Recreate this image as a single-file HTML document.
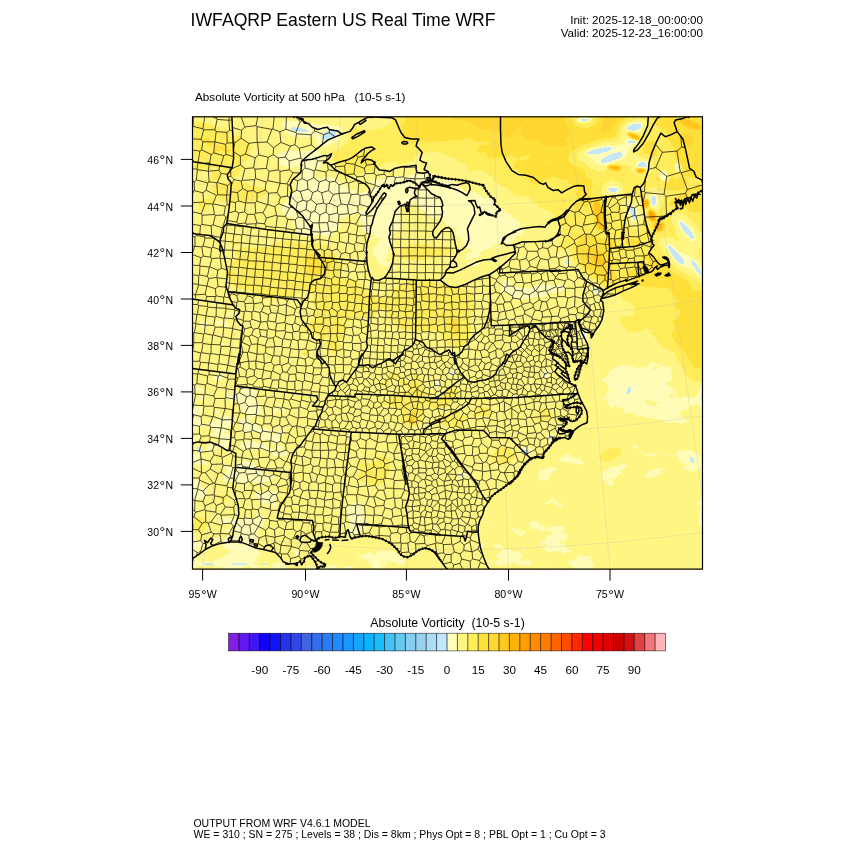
<!DOCTYPE html>
<html><head><meta charset="utf-8"><title>IWFAQRP Eastern US Real Time WRF</title>
<style>
html,body{margin:0;padding:0;background:#fff;}
body{width:850px;height:850px;position:relative;overflow:hidden;font-family:"Liberation Sans",sans-serif;color:#000;}
svg{position:absolute;left:0;top:0;}
.t{position:absolute;white-space:pre;line-height:1;}
.yl{position:absolute;left:100px;width:73px;text-align:right;font-size:10.5px;line-height:1;white-space:nowrap;}
.xl{position:absolute;top:589.3px;width:60px;text-align:center;font-size:10.6px;line-height:1;white-space:nowrap;}
.cl{position:absolute;top:664.3px;width:40px;text-align:center;font-size:11.7px;line-height:1;}
.dg{margin-left:0.6px;font-size:14px;line-height:0;position:relative;top:1.3px;}
.nw{margin-left:0.2px;}
</style></head><body>
<svg width="850" height="850" viewBox="0 0 850 850">
<defs><clipPath id="fc"><rect x="192.5" y="116.8" width="510" height="452.3"/></clipPath>
<filter id="post" color-interpolation-filters="sRGB" filterUnits="userSpaceOnUse" x="180" y="105" width="535" height="475">
<feTurbulence type="fractalNoise" baseFrequency="0.035 0.06" numOctaves="3" seed="5" result="n"/>
<feColorMatrix in="n" type="matrix" values="1 0 0 0 0  1 0 0 0 0  1 0 0 0 0  0 0 0 0 1" result="ng"/>
<feComposite in="SourceGraphic" in2="ng" operator="arithmetic" k1="0" k2="1" k3="0.11" k4="-0.055" result="lv"/>
<feComponentTransfer in="lv"><feFuncR type="discrete" tableValues="0.765 1.000 1.000 1.000 1.000 1.000 1.000 1.000 1.000 1.000"/><feFuncG type="discrete" tableValues="0.902 0.992 0.961 0.929 0.882 0.843 0.784 0.706 0.627 0.549"/><feFuncB type="discrete" tableValues="0.980 0.725 0.510 0.353 0.235 0.196 0.118 0.039 0.000 0.000"/></feComponentTransfer>
</filter>
<filter id="b6" color-interpolation-filters="sRGB" x="-50%" y="-50%" width="200%" height="200%"><feGaussianBlur stdDeviation="6"/></filter>
<filter id="b3" color-interpolation-filters="sRGB" x="-50%" y="-50%" width="200%" height="200%"><feGaussianBlur stdDeviation="3"/></filter>
<filter id="b15" color-interpolation-filters="sRGB" x="-50%" y="-50%" width="200%" height="200%"><feGaussianBlur stdDeviation="1.2"/></filter>
<filter id="b10" color-interpolation-filters="sRGB" x="-50%" y="-50%" width="200%" height="200%"><feGaussianBlur stdDeviation="10"/></filter>
</defs>
<g clip-path="url(#fc)">
<rect x="192.5" y="116.8" width="510" height="452.3" fill="#fff582"/>
<g filter="url(#post)"><rect x="180" y="105" width="535" height="475" fill="#404040"/><g filter="url(#b10)"><polygon points="430,100 720,100 720,430 700,420 675,370 655,320 630,300 600,262 575,235 560,215 535,200 500,178 470,160 445,150 425,135" fill="#666666"/><polygon points="440,100 720,100 720,175 640,165 560,160 500,140 455,125" fill="#7d7d7d"/><polygon points="440,100 620,100 620,128 560,130 500,126 450,118" fill="#949494"/><ellipse cx="375" cy="150" rx="55" ry="20" fill="#616161" transform="rotate(-15 375 150)"/><ellipse cx="425" cy="125" rx="30" ry="12" fill="#808080" transform="rotate(10 425 125)"/><polygon points="355,185 380,172 410,172 450,180 490,195 515,225 505,250 480,248 455,235 440,218 415,208 395,215 392,250 375,260 368,230" fill="#262626"/><ellipse cx="318" cy="205" rx="32" ry="38" fill="#262626" transform="rotate(30 318 205)"/><ellipse cx="520" cy="235" rx="35" ry="10" fill="#2b2b2b" transform="rotate(-15 520 235)"/><ellipse cx="470" cy="268" rx="28" ry="8" fill="#363636" transform="rotate(-25 470 268)"/><polygon points="180,370 290,385 300,440 285,520 250,580 180,580" fill="#333333"/><polygon points="200,560 260,545 330,555 400,550 440,575 180,580" fill="#303030"/><ellipse cx="285" cy="265" rx="55" ry="24" fill="#616161" transform="rotate(8 285 265)"/><ellipse cx="345" cy="300" rx="30" ry="15" fill="#666666" transform="rotate(25 345 300)"/><ellipse cx="215" cy="145" rx="34" ry="11" fill="#7a7a7a" transform="rotate(18 215 145)"/><ellipse cx="430" cy="305" rx="50" ry="24" fill="#595959"/><ellipse cx="230" cy="200" rx="40" ry="30" fill="#4f4f4f" transform="rotate(20 230 200)"/><ellipse cx="330" cy="330" rx="30" ry="30" fill="#4f4f4f"/><ellipse cx="420" cy="395" rx="45" ry="22" fill="#525252"/><polygon points="610,355 690,360 703,385 703,420 640,425 605,415 595,390" fill="#2e2e2e"/><polygon points="520,470 600,445 703,440 703,470 600,490 540,510" fill="#333333"/><polygon points="480,520 560,520 600,560 600,580 470,580" fill="#333333"/><ellipse cx="640" cy="322" rx="36" ry="18" fill="#4f4f4f" transform="rotate(-30 640 322)"/><ellipse cx="692" cy="320" rx="16" ry="70" fill="#707070" transform="rotate(-5 692 320)"/><ellipse cx="680" cy="268" rx="26" ry="28" fill="#707070"/><ellipse cx="600" cy="240" rx="40" ry="35" fill="#616161" transform="rotate(20 600 240)"/></g><g filter="url(#b6)"><ellipse cx="205" cy="168" rx="20" ry="5" fill="#595959" transform="rotate(10 205 168)"/><ellipse cx="318" cy="262" rx="13" ry="16" fill="#6e6e6e"/><ellipse cx="425" cy="251" rx="32" ry="6" fill="#616161"/><ellipse cx="385" cy="255" rx="8" ry="14" fill="#2b2b2b"/><ellipse cx="215" cy="322" rx="32" ry="6" fill="#2b2b2b" transform="rotate(-15 215 322)"/><ellipse cx="596" cy="262" rx="10" ry="26" fill="#8c8c8c" transform="rotate(-35 596 262)"/><ellipse cx="665" cy="150" rx="10" ry="28" fill="#595959" transform="rotate(-20 665 150)"/><ellipse cx="255" cy="283" rx="40" ry="7" fill="#575757" transform="rotate(20 255 283)"/><ellipse cx="240" cy="230" rx="40" ry="8" fill="#333333" transform="rotate(25 240 230)"/><ellipse cx="412" cy="418" rx="5" ry="8" fill="#808080" transform="rotate(20 412 418)"/><ellipse cx="470" cy="415" rx="30" ry="8" fill="#575757" transform="rotate(-20 470 415)"/><ellipse cx="505" cy="455" rx="10" ry="8" fill="#5e5e5e"/><ellipse cx="540" cy="420" rx="14" ry="8" fill="#595959" transform="rotate(-20 540 420)"/><ellipse cx="375" cy="470" rx="16" ry="22" fill="#545454" transform="rotate(10 375 470)"/><ellipse cx="355" cy="525" rx="10" ry="22" fill="#2b2b2b" transform="rotate(5 355 525)"/><ellipse cx="610" cy="455" rx="18" ry="7" fill="#595959" transform="rotate(-30 610 455)"/><ellipse cx="560" cy="480" rx="14" ry="6" fill="#545454" transform="rotate(-30 560 480)"/><ellipse cx="200" cy="525" rx="8" ry="12" fill="#5e5e5e"/><ellipse cx="230" cy="500" rx="20" ry="10" fill="#4f4f4f"/><ellipse cx="455" cy="330" rx="12" ry="16" fill="#696969"/><ellipse cx="530" cy="290" rx="40" ry="10" fill="#303030"/><ellipse cx="300" cy="160" rx="25" ry="14" fill="#2e2e2e"/><ellipse cx="583.7" cy="119.9" rx="16.2" ry="6.5" fill="#262626" transform="rotate(-5 583.7 119.9)"/><ellipse cx="599" cy="150.8" rx="27.2" ry="7.8" fill="#262626" transform="rotate(-12 599 150.8)"/><ellipse cx="611.6" cy="158.1" rx="25" ry="10" fill="#262626" transform="rotate(-20 611.6 158.1)"/><ellipse cx="634.4" cy="127.2" rx="17.5" ry="8.7" fill="#262626" transform="rotate(-10 634.4 127.2)"/><ellipse cx="632.2" cy="141.9" rx="11.8" ry="6.3" fill="#262626"/><ellipse cx="642.5" cy="165.5" rx="12.7" ry="9.6" fill="#262626"/><ellipse cx="613.1" cy="189.7" rx="14" ry="7.8" fill="#262626"/><ellipse cx="633.7" cy="214" rx="8.7" ry="16.2" fill="#262626" transform="rotate(-15 633.7 214)"/><ellipse cx="653.5" cy="200.8" rx="8.7" ry="12.9" fill="#262626"/><ellipse cx="686.6" cy="230.2" rx="8.7" ry="22.8" fill="#262626" transform="rotate(-38 686.6 230.2)"/><ellipse cx="676" cy="255" rx="8.5" ry="25" fill="#262626" transform="rotate(-40 676 255)"/><ellipse cx="697" cy="268" rx="8.5" ry="20.6" fill="#262626" transform="rotate(-35 697 268)"/><ellipse cx="299" cy="130" rx="20.6" ry="6.1" fill="#262626" transform="rotate(8 299 130)"/><ellipse cx="329" cy="135" rx="18.4" ry="10" fill="#262626" transform="rotate(-28 329 135)"/><ellipse cx="545.5" cy="374.5" rx="7.4" ry="6.5" fill="#262626"/><ellipse cx="463" cy="475.5" rx="8.7" ry="5.6" fill="#262626"/><ellipse cx="526" cy="452" rx="6.5" ry="7.8" fill="#262626" transform="rotate(-30 526 452)"/><ellipse cx="550" cy="437.5" rx="5.9" ry="8.7" fill="#262626" transform="rotate(10 550 437.5)"/><ellipse cx="584" cy="335" rx="6.1" ry="7.8" fill="#262626"/><ellipse cx="596" cy="290" rx="6.1" ry="9.6" fill="#262626" transform="rotate(-25 596 290)"/><ellipse cx="566" cy="262" rx="6.5" ry="9.6" fill="#262626" transform="rotate(-15 566 262)"/><ellipse cx="629" cy="391" rx="6.5" ry="10.5" fill="#262626" transform="rotate(25 629 391)"/><ellipse cx="692" cy="460" rx="6.5" ry="8.7" fill="#262626" transform="rotate(-20 692 460)"/><ellipse cx="702" cy="398" rx="5.6" ry="18.4" fill="#262626"/><ellipse cx="702" cy="515" rx="5.6" ry="14" fill="#262626"/><ellipse cx="452" cy="372" rx="7.4" ry="6.5" fill="#262626"/><ellipse cx="436" cy="384" rx="6.1" ry="7.4" fill="#262626"/><ellipse cx="576.5" cy="347" rx="6.1" ry="6.1" fill="#262626"/></g><g filter="url(#b15)"><ellipse cx="411.5" cy="420.5" rx="1.8" ry="2.6" fill="#d9d9d9" transform="rotate(30 411.5 420.5)"/><ellipse cx="414" cy="414" rx="1.6" ry="3" fill="#a6a6a6" transform="rotate(20 414 414)"/><ellipse cx="583.7" cy="119.9" rx="7.5" ry="2.1" fill="#0d0d0d" transform="rotate(-5 583.7 119.9)"/><ellipse cx="599" cy="150.8" rx="13.8" ry="2.9" fill="#0d0d0d" transform="rotate(-12 599 150.8)"/><ellipse cx="611.6" cy="158.1" rx="12.5" ry="4.2" fill="#0d0d0d" transform="rotate(-20 611.6 158.1)"/><ellipse cx="634.4" cy="127.2" rx="8.2" ry="3.4" fill="#0d0d0d" transform="rotate(-10 634.4 127.2)"/><ellipse cx="632.2" cy="141.9" rx="5" ry="2" fill="#0d0d0d"/><ellipse cx="642.5" cy="165.5" rx="5.5" ry="3.9" fill="#0d0d0d"/><ellipse cx="613.1" cy="189.7" rx="6.2" ry="2.9" fill="#0d0d0d"/><ellipse cx="663.8" cy="175.8" rx="4.2" ry="6" fill="#1c1c1c" transform="rotate(-20 663.8 175.8)"/><ellipse cx="677.8" cy="167.7" rx="3" ry="4.8" fill="#1c1c1c" transform="rotate(-20 677.8 167.7)"/><ellipse cx="633.7" cy="214" rx="3.2" ry="7.8" fill="#0d0d0d" transform="rotate(-15 633.7 214)"/><ellipse cx="653.5" cy="200.8" rx="3.2" ry="5.9" fill="#0d0d0d"/><ellipse cx="686.6" cy="230.2" rx="3.2" ry="11.7" fill="#0d0d0d" transform="rotate(-38 686.6 230.2)"/><ellipse cx="676" cy="255" rx="3.1" ry="13" fill="#0d0d0d" transform="rotate(-40 676 255)"/><ellipse cx="697" cy="268" rx="3.1" ry="10.4" fill="#0d0d0d" transform="rotate(-35 697 268)"/><ellipse cx="633.7" cy="136.1" rx="7.2" ry="2.6" fill="#bfbfbf" transform="rotate(25 633.7 136.1)"/><ellipse cx="614.6" cy="167.7" rx="7.2" ry="2.4" fill="#bfbfbf" transform="rotate(5 614.6 167.7)"/><ellipse cx="641" cy="170.6" rx="4.8" ry="2.4" fill="#d9d9d9"/><ellipse cx="646.2" cy="203.7" rx="3.6" ry="4.8" fill="#bfbfbf"/><ellipse cx="652" cy="215.5" rx="3.6" ry="6" fill="#d9d9d9" transform="rotate(-20 652 215.5)"/><ellipse cx="658.7" cy="226.5" rx="4.8" ry="4.8" fill="#bfbfbf"/><ellipse cx="597.6" cy="209.6" rx="4.8" ry="10.8" fill="#a6a6a6" transform="rotate(-10 597.6 209.6)"/><ellipse cx="600.6" cy="222.8" rx="4.8" ry="7.2" fill="#b2b2b2" transform="rotate(-10 600.6 222.8)"/><ellipse cx="690" cy="124" rx="12" ry="3.6" fill="#b2b2b2" transform="rotate(20 690 124)"/><ellipse cx="600" cy="262" rx="6" ry="16.8" fill="#999999" transform="rotate(-35 600 262)"/><ellipse cx="299" cy="130" rx="10" ry="1.8" fill="#0d0d0d" transform="rotate(8 299 130)"/><ellipse cx="329" cy="135" rx="8.8" ry="4.2" fill="#0d0d0d" transform="rotate(-28 329 135)"/><ellipse cx="545.5" cy="374.5" rx="2.5" ry="2.1" fill="#0d0d0d"/><ellipse cx="463" cy="475.5" rx="3.2" ry="1.6" fill="#0d0d0d"/><ellipse cx="526" cy="452" rx="2" ry="2.9" fill="#0d0d0d" transform="rotate(-30 526 452)"/><ellipse cx="550" cy="437.5" rx="1.6" ry="3.4" fill="#0d0d0d" transform="rotate(10 550 437.5)"/><ellipse cx="584" cy="335" rx="1.8" ry="2.9" fill="#0d0d0d"/><ellipse cx="596" cy="290" rx="1.8" ry="3.9" fill="#0d0d0d" transform="rotate(-25 596 290)"/><ellipse cx="566" cy="262" rx="2" ry="3.9" fill="#0d0d0d" transform="rotate(-15 566 262)"/><ellipse cx="629" cy="391" rx="2" ry="4.4" fill="#0d0d0d" transform="rotate(25 629 391)"/><ellipse cx="692" cy="460" rx="2" ry="3.4" fill="#0d0d0d" transform="rotate(-20 692 460)"/><ellipse cx="702" cy="398" rx="1.5" ry="9.1" fill="#0d0d0d"/><ellipse cx="702" cy="515" rx="1.5" ry="6.5" fill="#0d0d0d"/><ellipse cx="452" cy="372" rx="2.5" ry="2.1" fill="#0d0d0d"/><ellipse cx="436" cy="384" rx="1.8" ry="2.6" fill="#0d0d0d"/><ellipse cx="576.5" cy="347" rx="1.8" ry="1.8" fill="#0d0d0d"/></g></g><rect x="203.8" y="563.4" width="9.2" height="1.6" fill="#c3e6fa"/><rect x="231.3" y="563.4" width="15.3" height="1.6" fill="#c3e6fa"/><rect x="261.9" y="563.4" width="3.8" height="1.6" fill="#c3e6fa"/><rect x="197" y="447" width="4.6" height="5.4" fill="#c3e6fa"/>
<path d="M203.1 19.1L82.2 655.4M274.7 30.7L188.8 672.6M346.7 38.4L296.2 684M419.1 42L404.1 689.5M491.6 41.7L512.1 689.1M564 37.5L619.9 682.7M636 29.2L727.2 670.4M707.5 17.1L833.6 652.3M44.7 623.8L86.6 632.2L128.6 639.7L170.8 646.3L213.1 652L255.5 656.7L298 660.5L340.6 663.4L383.3 665.3L425.9 666.3L468.6 666.3L511.3 665.5L554 663.7L596.6 660.9L639.1 657.2L681.5 652.6L723.8 647.1L766 640.6L808.1 633.2L850 624.9M69 509.6L108.4 517.5L147.9 524.6L187.5 530.8L227.3 536.1L267.2 540.6L307.1 544.1L347.2 546.8L387.3 548.6L427.4 549.6L467.5 549.6L507.6 548.8L547.7 547.1L587.8 544.5L627.7 541L667.6 536.7L707.4 531.5L747.1 525.4L786.6 518.5L826 510.6M93 396.9L129.9 404.3L166.9 411L204.1 416.8L241.3 421.7L278.7 425.9L316.1 429.3L353.7 431.8L391.2 433.5L428.8 434.4L466.4 434.4L504 433.6L541.6 432L579.1 429.6L616.5 426.4L653.9 422.3L691.2 417.4L728.4 411.7L765.4 405.2L802.3 397.9M116.9 284.9L151.3 291.8L185.8 298L220.5 303.4L255.3 308L290.1 311.9L325.1 315L360.1 317.4L395.1 319L430.2 319.8L465.3 319.9L500.4 319.1L535.4 317.6L570.4 315.4L605.4 312.3L640.3 308.6L675.1 304L709.8 298.7L744.3 292.6L778.7 285.8M140.8 172.6L172.7 179.1L204.8 184.8L236.9 189.8L269.2 194.1L301.6 197.7L334 200.6L366.5 202.8L399.1 204.3L431.6 205.1L464.2 205.1L496.8 204.4L529.3 203L561.8 200.9L594.3 198.1L626.6 194.6L658.9 190.4L691.1 185.5L723.2 179.8L755.1 173.5M164.9 59.3L194.3 65.2L223.9 70.5L253.6 75.1L283.3 79.1L313.2 82.4L343.1 85.1L373 87.1L403 88.5L433.1 89.2L463.1 89.2L493.1 88.6L523.1 87.3L553.1 85.4L583 82.8L612.8 79.6L642.6 75.7L672.3 71.1L701.9 65.9L731.3 60.1" fill="none" stroke="#b9bdb0" stroke-width="0.55" opacity="0.5"/>
<path d="M192.8 126.5L193.1 126.3M201.2 139.3L192.8 138.9M192.8 150.1L199.9 151.1M197 169.1L192.8 168.9M192.8 181.4L194.2 181.8M193.6 191.3L192.8 191.2M192.8 193.6L193.6 191.3M192.8 202.6L203.7 202.1M201.4 213.9L192.8 211.9M200.5 225.6L192.8 224.3M194.9 236.8L192.8 236.6M192.8 246L194.8 246.5M192.8 252.2L194.8 246.5M201 257.8L192.8 254.6M199.6 265.5L192.8 265.2M198.8 275.4L192.8 275M198.4 284.5L192.8 283.7M195.4 294.9L192.8 294.1M192.8 304.5L197.8 304.5M196.9 314.6L192.8 313.8M192.8 323.1L195.7 323.4M193.8 332.9L192.8 332.7M192.8 342.1L193.7 342.1M192.8 350L194.1 342.7M200.7 353.1L192.8 350.8M192.8 361.3L199.6 361.3M197.6 374L192.8 373.6M192.8 384.4L194.7 385.1M192.8 393.6L195 393.5M193.5 405.1L192.8 404.8M192.8 409.1L193.5 405.1M193.7 414.7L192.8 413.7M192.8 417.9L193.7 414.7M192.8 424.9L199.4 426.3M199.5 434L192.8 434.2M193.5 450.4L192.8 450M192.8 451.8L193.5 450.4M192.8 462.5L201.1 459M201.5 472.4L192.8 468.4M199.1 477.9L192.8 478M197.6 488.8L192.8 488.5M194.6 500.4L192.8 500.1M194.6 510.8L192.8 510M192.8 517.5L193.9 516.9M192.8 529.6L192.8 523.4M192.8 529.6L192.8 529.6M192.8 542L200.7 540.7M197.4 552.8L192.8 549.6M198.5 529.8L192.8 529.6M202.9 128.9L193.1 126.3M193.1 126.3L193.4 117.1M193.5 405.1L193.5 405.1M193.5 405.1L195.7 394.2M203.3 405.6L193.5 405.1M199.3 451L193.5 450.4M193.6 191.3L194.4 190.7M193.7 414.7L201.1 416.6M194.1 342.7L193.7 342.1M193.7 342.1L193.8 332.9M193.8 332.9L194.4 332.5M202.2 523.2L193.9 516.9M193.9 516.9L195.6 512.2M202.4 342.7L194.1 342.7M194.4 190.7L194.2 181.8M194.2 181.8L196.3 179.9M202.9 192.8L194.4 190.7M203.6 334.1L194.4 332.5M194.4 332.5L196 323.9M195.6 512.2L194.6 510.8M194.6 510.8L195 500.6M195 500.6L194.6 500.4M194.6 500.4L197.9 489.1M195 393.5L194.7 385.1M194.7 385.1L196.8 383.7M194.8 246.5L195.1 246.3M195.1 246.3L194.9 236.8M194.9 236.8L196.4 235.5M195.7 394.2L195 393.5M203 501.6L195 500.6M201.8 246.9L195.1 246.3M195.4 294.9L195.4 294.9M195.4 294.9L198.7 284.9M195.8 299.2L195.4 294.9M195.4 294.9L205.2 294.2M195.6 512.2L204.9 509.7M196 323.9L195.7 323.4M195.7 323.4L196.9 314.6M203.9 394.8L195.7 394.2M205.1 324.9L196 323.9M207.8 182.9L196.3 179.9M196.3 179.9L197.4 169.7M204.3 237L196.4 235.5M196.4 235.5L196.4 234.3M196.4 555.6L197.4 552.8M205.5 384.9L196.8 383.7M196.8 383.7L197.6 374M196.9 314.6L197.4 314.3M197.4 169.7L197 169.1M197 169.1L198 162.7M197.4 552.8L200.5 551.6M197.4 314.3L205.8 315.8M197.4 314.3L198.6 305.6M208.3 171.2L197.4 169.7M197.6 374L198.1 373.7M197.9 489.1L197.6 488.8M197.6 488.8L199.6 480.2M198.6 305.6L197.8 304.5M197.8 304.5L198.6 300.3M202.9 491.2L197.9 489.1M198.1 162.1L199.9 151.1M207.6 376L198.1 373.7M198.1 373.7L198.7 369.6M198.7 284.9L198.4 284.5M198.4 284.5L198.8 275.4M201.7 534.9L198.5 529.8M198.5 529.8L202.2 523.2M207.4 306.5L198.6 305.6M206.8 286L198.7 284.9M198.8 275.4L199.5 274.8M199.6 480.2L199.1 477.9M199.1 477.9L201.8 472.9M200.3 452.4L199.3 451M199.3 451L201.5 443.3M199.3 441.8L201.2 436.2M199.3 369.1L200.5 362.2M199.5 434L199.4 426.3M199.4 426.3L201.6 424.2M207.4 276.5L199.5 274.8M199.5 274.8L200 266M201.2 436.2L199.5 434M200 266L199.6 265.5M199.6 265.5L201 257.8M200.5 362.2L199.6 361.3M199.6 361.3L200.7 353.1M199.6 480.2L209.4 484.5M199.8 234.1L200.5 225.6M199.9 151.1L201.6 149.8M209.4 267.1L200 266M201.1 459L200.3 452.4M200.3 452.4L212.5 450.8M208.6 363L200.5 362.2M201.3 552.2L200.5 551.6M200.5 551.6L203 543.4M200.5 225.6L201.9 224.4M200.7 353.1L201.5 352.6M203 543.4L200.7 540.7M200.7 540.7L201.7 534.9M201 257.8L203.2 256.1M201 442.6L201.3 442.7M201.1 459L201.1 459M201.1 459L210.1 461.3M201.5 472.4L201.1 459M201.6 424.2L201.1 416.6M201.1 416.6L203 414.9M201.2 436.2L208.9 435.8M202.9 141.8L201.2 139.3M201.2 139.3L203.6 129.8M201.5 443.3L201.3 442.7M201.3 442.7L201.3 442.6M202.2 215.2L201.4 213.9M201.4 213.9L205 203.6M201.8 472.9L201.5 472.4M211.1 442.7L201.5 443.3M210.2 354.1L201.5 352.6M201.5 352.6L203 343.4M211.2 154.5L201.6 149.8M201.6 149.8L202.9 141.8M209.6 425.5L201.6 424.2M201.7 534.9L211.4 532.2M203.2 256.1L201.8 246.9M201.8 246.9L203 246.1M205.2 472.7L201.8 472.9M211.1 225.8L201.9 224.4M201.9 224.4L202.2 215.2M202.2 215.2L214.5 214.5M205.7 522L202.2 523.2M203 343.4L202.4 342.7M202.4 342.7L203.6 334.1M205.3 495.3L202.9 491.2M202.9 491.2L209.4 484.5M202.9 141.8L214.9 141.9M202.9 128.9L203.6 129.8M204.6 117.1L202.9 128.9M203.7 202.1L202.9 192.8M202.9 192.8L206.1 190.2M212.8 416.7L203 414.9M203 414.9L203.9 406.2M205 505.8L203 501.6M203 501.6L205.3 495.3M205.3 543.7L203 543.4M203 246.1L211.6 248.1M203 246.1L205.1 238M203 343.4L211.2 344.7M210.6 257.2L203.2 256.1M203.9 406.2L203.3 405.6M203.3 405.6L203.9 394.8M203.6 129.8L214.9 129.8M203.6 334.1L204.4 333.5M205 203.6L203.7 202.1M203.9 406.2L213.4 406.1M203.9 394.8L204.9 394.1M205.1 238L204.3 237M204.3 237L204.6 235.3M212.6 335.2L204.4 333.5M204.4 333.5L205.2 325.1M213.6 396L204.9 394.1M204.9 394.1L205.5 384.9M205.7 510.6L204.9 509.7M204.9 509.7L205 505.8M205 203.6L212.6 204M205 505.8L213.6 502.1M205.2 325.1L205.1 324.9M205.1 324.9L205.9 315.9M213.8 238.2L205.1 238M213.8 325.5L205.2 325.1M209.6 162.8L205.2 163.2M206.7 296.5L205.2 294.2M205.2 294.2L206.8 286M213.5 483.2L205.2 472.7M205.2 472.7L210.4 469.1M214 494.9L205.3 495.3M205.5 384.9L207.1 383.4M205.7 300.7L206.7 296.5M208.2 523.1L205.7 522M205.7 522L205.7 510.6M205.7 510.6L215.8 512.2M205.9 315.9L205.8 315.8M205.8 315.8L207.9 307.1M215.1 317.1L205.9 315.9M216.4 195.4L206.1 190.2M206.1 190.2L207.8 182.9M206.7 296.5L215.3 296.5M206.8 286L206.9 285.9M215.4 288.7L206.9 285.9M206.9 285.9L208.8 278.5M216.6 386.5L207.1 383.4M207.1 383.4L207.6 376M208.8 278.5L207.4 276.5M207.4 276.5L209.4 267.1M207.9 307.1L207.4 306.5M207.4 306.5L207.8 301.6M207.6 376L209 374.6M207.8 182.9L209.1 181.8M207.9 307.1L216.3 307.8M208.1 370.2L208.6 363M211.4 532.2L208.2 523.1M208.2 523.1L210.8 522.1M208.4 171.3L208.3 171.2M208.3 171.2L209.1 164.5M209.1 181.8L208.4 171.3M208.4 171.3L218.8 170.2M208.6 363L208.8 362.9M208.8 278.5L216.7 277.4M208.8 362.9L218 364.4M208.8 362.9L210.2 354.1M210.3 437.1L208.9 435.8M208.9 435.8L210.8 427.3M218.3 375.9L209 374.6M209 374.6L209.2 370.9M216.8 182.7L209.1 181.8M209.8 266.8L209.4 267.1M209.4 484.5L213.5 483.2M209.5 441.7L210.3 437.1M210.8 164.1L209.6 162.8M209.6 162.8L211.2 154.5M210.8 427.3L209.6 425.5M209.6 425.5L212.8 416.7M217.9 270.3L209.8 266.8M209.8 266.8L211.8 258.5M211.5 464.4L210.1 461.3M210.1 461.3L214.1 454.8M210.9 353.5L210.2 354.1M210.3 437.1L219 438.6M218.1 473.7L210.4 469.1M210.4 469.1L211.5 464.4M211.8 258.5L210.6 257.2M210.6 257.2L211.6 248.1M221.7 525.4L210.8 522.1M210.8 522.1L217.2 513.6M221 427.9L210.8 427.3M219.5 354.9L210.9 353.5M210.9 353.5L211.2 344.7M211.7 235.6L211.1 225.8M211.1 225.8L213 224.8M211.2 154.5L213.7 152.9M211.2 235.9L211.7 235.6M211.2 344.7L211.6 344.4M214 533.8L211.4 532.2M211.5 464.4L222.5 464M211.6 344.4L220.1 344.9M211.6 344.4L212.6 335.2M211.6 248.1L212.8 247.2M220.2 237.5L211.7 235.6M211.7 538.4L214 533.8M211.8 258.5L219.8 258.1M214 445.4L212.2 443.1M214.1 454.8L212.5 450.8M212.5 450.8L214 445.4M212.6 335.2L213.1 334.8M214.5 214.5L212.6 204M212.6 204L212.9 203.8M219.6 249.5L212.8 247.2M212.8 247.2L214.4 239M212.8 416.7L213.4 416.4M216.4 118.5L212.9 117.1M212.9 545.2L221.1 541.3M225.4 206.4L212.9 203.8M212.9 203.8L216.4 195.4M222.3 228L213 224.8M213 224.8L215.4 215.4M222 337.4L213.1 334.8M213.1 334.8L215.2 327.2M214.3 407.3L213.4 406.1M213.4 406.1L215.1 398.5M213.4 416.4L221.7 419.5M213.4 416.4L214.3 407.3M214.9 483.5L213.5 483.2M216.3 505.5L213.6 502.1M213.6 502.1L214.7 495.8M215.1 398.5L213.6 396M213.6 396L217.3 387.4M223.8 155.7L213.7 152.9M213.7 152.9L214.9 141.9M215.2 327.2L213.8 325.5M213.8 325.5L215.1 317.1M214.4 239L213.8 238.2M213.8 238.2L213.9 238.2M217 445.1L214 445.4M214.7 495.8L214 494.9M214 494.9L215.5 484.1M219.9 533.7L214 533.8M214.1 454.8L221.2 456.7M225.2 408.6L214.3 407.3M215.6 239.3L214.4 239M215.4 215.4L214.5 214.5M214.7 302L215.3 296.5M223.3 497.5L214.7 495.8M215.5 484.1L214.9 483.5M214.9 483.5L218.1 473.7M214.9 141.9L214.9 141.9M214.9 141.9L225.7 144.4M214.9 141.9L216.2 131.6M216.2 131.6L214.9 129.8M214.9 129.8L217.1 119.4M225 398.4L215.1 398.5M215.1 317.1L216.1 316.4M215.2 327.2L223.4 327.2M215.3 296.5L216 295.9M216 295.9L215.4 288.7M215.4 288.7L218.1 286.5M215.4 215.4L223.9 215M226.8 485.8L215.5 484.1M217.2 513.6L215.8 512.2M215.8 512.2L216.3 505.5M223.7 297.2L216 295.9M224 318.4L216.1 316.4M216.1 316.4L216.3 307.8M226.9 132.4L216.2 131.6M216.3 307.8L216.3 307.8M216.3 307.8L216.8 303M216.3 505.5L222.9 502.9M225.7 308.3L216.3 307.8M216.4 195.4L217.6 194.7M217.1 119.4L216.4 118.5M216.4 118.5L216.9 117.1M217.3 387.4L216.6 386.5M216.6 386.5L218.3 375.9M217.1 277.8L216.7 277.4M216.7 277.4L217.9 270.3M217.6 194.7L216.8 182.7M216.8 182.7L217.3 182.4M228.9 120.3L217.1 119.4M217.1 277.8L226.5 278.8M218.1 286.5L217.1 277.8M217.2 513.6L220.3 514.5M217.3 387.4L225.5 388M217.3 182.4L227.6 185.7M217.3 182.4L221.2 173.5M217.4 371.3L218 364.4M226.5 195.1L217.6 194.7M217.9 270.3L221.4 268.3M218 364.4L218.8 363.7M218.1 473.7L221 472.1M225.2 287.1L218.1 286.5M218.3 375.9L219.6 375.2M218.6 445.2L219.2 438.8M221.2 173.5L218.8 170.2M218.8 170.2L219.7 166.2M227.9 365.2L218.8 363.7M218.8 363.7L219.5 354.9M219.2 438.8L219 438.6M219 438.6L221 427.9M230.4 439.6L219.2 438.8M219.5 354.9L220.2 354.4M227.3 378L219.6 375.2M219.6 375.2L219.9 372.2M219.6 241.9L219.7 241.7M220.3 258.6L219.8 258.1M219.8 258.1L220.7 251M221.1 541.3L219.9 533.7M219.9 533.7L220.3 533.3M221.1 346.3L220.1 344.9M220.1 344.9L222 337.4M225.2 241.1L220.2 240.8M229.4 355.8L220.2 354.4M220.2 354.4L221.1 346.3M220.5 237.9L220.2 237.5M222.3 228L220.2 237.5M228.8 534L220.3 533.3M220.3 533.3L221.7 525.4M220.9 515.2L220.3 514.5M220.3 514.5L225.3 507M221.4 268.3L220.3 258.6M220.3 258.6L224.4 258.5M220.4 238.3L220.5 237.9M220.5 237.9L220.5 237.9M220.8 165.7L223.8 155.7M222.7 523.7L220.9 515.2M220.9 515.2L234.5 514.6M229.6 478.5L221 472.1M221 472.1L223.2 465.2M221 427.9L221.3 427.7M230.2 346.5L221.1 346.3M222.1 542.8L221.1 541.3M221.2 173.5L227.2 174.3M222.1 457.5L221.2 456.7M221.2 456.7L221.9 447.5M230.8 430.3L221.3 427.7M221.3 427.7L222 419.9M226.7 269.8L221.4 268.3M221.7 525.4L222.7 523.7M222 419.9L221.7 419.5M221.7 419.5L225.2 408.6M222 419.9L232.1 419.6M222 337.4L222.8 336.8M222.5 464L222.1 457.5M222.1 457.5L231.4 453.2M222.6 227.8L222.3 228M223.2 465.2L222.5 464M223.3 228L222.6 227.8M222.6 227.8L225.8 217.1M231.1 523.2L222.7 523.7M231.1 338.7L222.8 336.8M222.8 336.8L223.7 327.6M224.4 249.7L222.8 249.5M225.3 507L222.9 502.9M222.9 502.9L223.3 497.5M225.7 233L223.2 232.7M223.2 465.2L231 466M223.3 497.5L226.7 495.1M223.7 327.6L223.4 327.2M223.4 327.2L224 318.4M223.6 303.3L223.7 297.2M223.7 327.6L232.5 328.4M223.7 297.2L224.2 296.9M223.8 155.7L226 154.4M225.8 217.1L223.9 215M223.9 215L225.4 206.4M224 318.4L224.5 318M224 254.3L224.6 249.9M224.2 296.9L229.3 297.7M224.2 296.9L226 288.2M224.6 249.9L224.4 249.7M224.4 249.7L225.3 241.3M233.7 318.8L224.5 318M224.5 318L226.1 308.7M232.6 250.3L224.6 249.9M231.5 259L224.9 257.9M225.4 408.4L225 398.4M225 398.4L225.7 397.7M225.2 408.6L225.4 408.4M225.3 241.3L225.2 241.1M225.2 241.1L225.7 233M226 288.2L225.2 287.1M225.2 287.1L225.7 285.5M225.3 507L233.6 507.4M232.9 241.9L225.3 241.3M225.4 206.4L227.1 204.6M232.4 409.8L225.4 408.4M226.1 388.8L225.5 388M225.5 388L228.2 379.2M226 154.4L225.7 144.4M225.7 144.4L227.2 142.9M226.1 308.7L225.7 308.3M225.7 308.3L226.1 304.3M225.7 233L225.9 232.8M225.7 397.7L233.8 398.9M225.7 397.7L226.1 388.8M227.3 217.4L225.8 217.1M234.1 234.1L225.9 232.8M225.9 232.8L226.9 225.2M226.6 224.9L225.9 224.8M233.3 156.5L226 154.4M226.4 288.3L226 288.2M234.5 389.9L226.1 388.8M234.4 309.7L226.1 308.7M226.3 372.4L227.9 365.3M227.1 204.6L226.5 195.1M226.5 195.1L226.7 194.9M226.5 449.9L227.7 450M226.6 266.5L230.6 266.9M226.9 225.2L226.6 224.9M226.6 224.9L226.7 223.8M229.5 283L226.7 282.7M234.6 500.3L226.7 495.1M226.7 495.1L227.6 487.2M230.3 195L226.7 194.9M226.7 194.9L227.6 185.7M227.6 487.2L226.8 485.8M226.8 485.8L229.6 478.5M234.7 225.5L226.9 225.2M227.2 142.9L226.9 132.4M226.9 132.4L229.6 130.2M227.1 204.6L229.1 205.1M227.2 142.9L232.9 142.9M228.2 379.2L227.3 378M227.3 378L228.5 373.3M228 223.2L227.4 221M227.4 220.6L227.6 220.5M229.7 274.9L227.5 274.8M236.8 222.1L227.6 220.5M227.6 220.5L228.3 215M232.5 487.9L227.6 487.2M227.6 185.7L230.6 182.8M227.7 450.1L227.7 450M227.7 450L228.9 449M227.9 365.3L227.9 365.2M227.9 365.2L229.5 355.9M236.2 367.1L227.9 365.3M228.2 291L228 290.9M228.1 177.3L230.8 176.2M228.6 291.5L228.2 291M228.2 291L229.6 283.1M228.2 379.2L235.3 379.1M228.6 291.6L228.6 291.5M236.5 291.7L228.6 291.5M228.7 212.8L235.4 211.2M231.1 536L228.8 534M228.8 534L233.3 526.1M229.5 449.2L228.9 449M228.9 449L230.3 440.8M230.7 294.3L228.9 294.1M229.6 130.2L228.9 120.3M228.9 120.3L229 120.2M229 120.2L229.1 117.1M231.7 120L229 120.2M229.5 355.9L229.4 355.8M229.4 355.8L230.8 347.3M238.1 357.3L229.5 355.9M229.6 283.1L229.5 283M229.5 283L230 275.2M237.2 284.1L229.6 283.1M229.6 478.5L230.2 478.1M232.3 131L229.6 130.2M230 275.2L229.7 274.9M229.7 274.9L230.6 266.9M229.7 297L230.7 294.3M229.9 170.5L230 167.8M238 275.5L230 275.2M230.1 201.5L235.5 202.6M233.6 478.4L230.2 478.1M230.2 478.1L232.9 467.6M230.8 347.3L230.2 346.5M230.2 346.5L231.2 338.8M230.4 439.1L230.8 430.3M234.6 445.7L230.5 445.6M230.6 182.8L230.5 182.3M230.6 266.9L230.8 266.8M231 182.9L230.6 182.8M230.7 294.3L231.9 293.5M230.8 176.2L230.7 170.4M230.8 266.8L238.6 267.8M230.8 266.8L231.5 259M231.2 429.9L230.8 430.3M239.5 348.2L230.8 347.3M234.1 179.5L230.8 176.2M231 540.8L231.4 540.6M231 537.2L231.1 536M232.9 467.6L231 466M231 466L232.9 455.6M237.6 192.6L231.1 191.8M232.4 536L231.1 536M231.2 338.8L231.1 338.7M231.1 338.7L232.7 328.7M233.3 526.1L231.1 523.2M231.1 523.2L234.6 514.7M234.5 437.7L231.2 437.6M240.4 339.2L231.2 338.8M231.3 167.4L231.8 167.4M232.9 455.6L231.4 453.2M231.4 453.2L231.6 451.6M238.6 540.7L231.4 540.6M231.4 540.6L231.4 540M231.5 259L232.4 258.3M231.5 185L234.1 179.5M237 302.4L231.8 301.7M231.9 293.5L231.8 292.5M231.9 168.7L240.4 164.9M236.8 295.5L231.9 293.5M233 428.6L231.9 428.6M232.1 419.3L232.4 409.8M239.8 259.5L232.4 258.3M232.4 258.3L232.6 250.3M232.4 409.8L232.9 409.5M232.5 304.7L232.5 304.5M232.7 328.7L232.5 328.4M232.5 328.4L234.4 319.7M232.6 451.4L234.6 445.8M232.6 250.3L232.6 250.3M240.7 251.1L232.6 250.3M232.6 250.3L233.5 242.6M235.4 423L232.6 420.6M241.6 130.3L232.7 127.5M241.5 330.7L232.7 328.7M232.9 455.6L235.5 456.6M232.9 467.6L235 467.5M233.5 242.6L232.9 241.9M232.9 241.9L234.1 234.1M235.2 431.9L233 428.6M233 428.6L235.4 423M233.3 412.9L239.6 413M234.5 526.5L233.3 526.1M233.5 141.8L234.9 142.6M233.5 489.6L234.7 489.4M233.5 242.6L241.3 242.9M234.5 514.6L233.6 507.4M233.6 507.4L235.3 504.5M233.7 148.7L234.9 142.6M233.7 531L240.8 532.7M234.4 319.7L233.7 318.8M233.7 318.8L234.8 310.3M240.4 156.2L233.8 151.8M234 404.4L237.5 403.6M235.6 480.3L234.1 479.9M234.1 179.5L241.2 181.2M234.1 234.1L234.3 234M241.8 235L234.3 234M234.3 234L235.1 225.9M236.7 319.9L234.4 319.7M234.8 310.3L234.4 309.7M234.4 309.7L235 307.5M236 440.1L234.5 437.7M234.5 437.7L235.2 431.9M234.6 514.7L234.5 514.6M238.2 515.8L234.6 514.7M234.6 445.8L234.6 445.7M234.6 445.7L236 440.1M235.3 504.5L234.6 500.3M234.6 500.3L236 498.8M243.3 451.4L234.6 445.8M235.1 225.9L234.7 225.5M234.7 225.5L234.8 224.9M235.6 490.4L234.7 489.4M234.7 489.4L236.7 483M236.5 394.4L234.8 394.2M239.2 310.9L234.8 310.3M234.9 142.6L241.1 138.2M243.1 226.9L235.1 225.9M235.1 471.2L236.6 470.7M235.2 431.9L242.8 430.7M237.7 504.7L235.3 504.5M238.8 213L235.4 211.2M235.4 211.2L235.5 202.6M235.4 423L236.5 422.6M235.5 495.3L235.6 490.4M235.5 202.6L238.6 200.9M235.6 373.6L236.2 367.1M236.6 470.7L235.6 468.1M236.3 383.3L235.6 383.3M235.6 490.4L242.4 492.5M236.7 483L235.6 480.3M235.6 480.3L239 473.1M235.8 465.3L241.5 464M237.9 377.9L236 377M236 307.9L237 302.4M236 440.1L243.1 439.6M241.8 457.5L236.1 457M236.2 367.1L236.5 366.8M236.3 316.8L236.3 316.6M237.5 385.2L236.3 383.3M236.3 383.3L237.9 377.9M237.5 403.6L236.5 394.4M236.5 394.4L239.4 392.6M241.8 527.9L236.5 522.8M243.8 424.1L236.5 422.6M236.5 422.6L239.6 413M236.7 366.9L236.5 366.8M236.5 366.8L237.1 364.1M236.9 292.1L236.5 291.7M236.5 291.7L237.2 284.1M244.5 498.5L236.6 498.8M239 473.1L236.6 470.7M244.5 483.7L236.7 483M238 301.1L236.8 295.5M236.8 295.5L239.3 293.4M243.2 320.4L236.8 318.4M238.2 223.7L236.8 222.1M236.8 222.1L238.8 213M236.9 292.5L236.9 292.1M236.9 292.1L245.1 292.7M237 302.4L238 301.1M238 368.6L237 368.6M237.2 284.1L237.5 283.9M237.4 386L237.5 385.2M237.5 385.2L247 384.3M245.1 284.5L237.5 283.9M237.5 283.9L238 275.5M238.9 404.4L237.5 403.6M238.6 200.9L237.6 192.6M237.6 192.6L242.6 188.4M237.9 377.9L239.7 376.6M238 224.8L238.2 223.7M244 301.8L238 301.1M238 275.5L238.3 275.3M239.7 376.6L238 368.6M238 368.6L240 366.9M243.9 518.7L238 518.1M238.1 357.3L238.1 357.3M238.1 357.3L238.2 357.1M238.2 223.7L245.6 223M246.4 276.3L238.3 275.3M238.3 275.3L238.6 267.8M238.6 267.8L239.2 267.2M245.6 203L238.6 200.9M238.9 541.6L238.6 540.7M238.6 540.7L239.3 538.9M238.7 507.9L243.1 507.5M238.8 213L244.6 211.8M240.2 412.7L238.9 404.4M238.9 404.4L244.9 402.3M239 473.1L245 472.4M239 353.7L240.1 349.5M247.2 268.4L239.2 267.2M239.2 267.2L239.8 259.6M246.6 396.8L239.4 392.6M239.4 392.6L240.4 388.7M240.1 349.1L239.5 348.2M239.5 348.2L240.4 339.3M239.6 413L240.2 412.7M240.8 362.7L239.6 361M239.6 360.1L243.1 352.2M240.4 388.7L239.7 386.9M239.7 311L244.3 311.6M245.8 376.9L239.7 376.6M239.8 259.6L239.8 259.5M239.8 259.5L240.9 251.3M239.8 537.5L241.3 533.6M239.8 259.6L247.6 260M246.5 370.4L240 366.9M240 366.9L240.8 362.7M244.9 413.9L240.2 412.7M240.4 388.7L244.9 387.6M240.4 164.9L240.4 156.2M240.4 156.2L245.4 154M245 168.5L240.4 164.9M240.4 339.3L240.4 339.2M240.4 339.2L241.5 330.7M241.1 339.4L240.4 339.3M240.5 351.9L243 352.1M240.9 251.3L240.7 251.1M240.7 251.1L241.4 242.9M241.3 533.6L240.8 532.7M240.8 532.7L241.8 527.9M240.8 362.7L248.5 361.2M248.7 251.9L240.9 251.3M248.6 143.3L241.1 138.2M241.1 138.2L241.6 130.3M243 352.1L241.2 344.3M242.6 188.4L241.2 181.2M241.2 181.2L242 180.4M244.8 127L241.3 117.1M248.9 535.2L241.3 533.6M241.4 242.9L241.3 242.9M241.3 242.9L241.8 235M249.4 243.7L241.4 242.9M241.4 342.6L241.9 342.3M241.5 330.7L242 330.3M242.9 466.5L241.5 464M241.5 464L241.9 457.7M241.6 130.3L244.8 127M241.8 235L242.6 234.3M241.9 457.7L241.8 457.5M241.8 457.5L243.3 451.4M241.8 527.9L244.5 524.5M242 325.1L241.9 325.2M251.8 459.5L241.9 457.7M250 345.9L241.9 342.3M241.9 342.3L245 335.9M242.1 325.2L242 325.1M242 325.1L243.6 321.1M242 180.4L245 168.5M254.6 179.6L242 180.4M242.2 334L243.6 334.1M244.5 498.5L242.4 492.5M242.4 492.5L244.5 490.4M242.5 467.6L242.9 466.5M250.2 235.7L242.6 234.3M242.6 234.3L243.1 226.9M247.5 191.2L242.6 188.4M244.5 432.6L242.8 430.7M242.8 430.7L243.8 424.1M242.9 466.5L249.2 467.4M243.1 352.2L243 352.1M244.6 328.9L243 326.6M245.6 509.6L243.1 507.5M243.1 507.5L245.2 499.2M243.1 226.9L243.7 226.4M246.1 449.2L243.1 439.6M243.1 439.6L244 438.8M247.3 352.5L243.1 352.2M243.6 321.1L243.2 320.4M243.2 320.4L244.3 311.6M243.3 451.4L246.1 449.2M249.9 321.3L243.6 321.1M245 335.9L243.6 334.1M243.6 334.1L244.6 328.9M247 226.8L243.7 226.4M243.7 226.4L243.7 226.3M243.8 424.1L246.2 422.4M244.5 524.5L243.9 518.7M243.9 518.7L244.5 518M251.4 439.4L244 438.8M244 438.8L244.5 432.6M245.1 303.5L244 301.8M244 301.8L247.6 295.8M244.3 311.6L245.5 311M245.2 499.2L244.5 498.5M252.3 490.5L244.5 490.4M244.5 490.4L244.5 483.7M244.5 432.6L251 431.7M249.7 525.1L244.5 524.5M251.7 518.6L244.5 518M244.5 518L245.6 509.6M244.5 483.7L248.3 481.4M251.3 327.3L244.6 328.9M247.5 214.4L244.6 211.8M244.6 211.8L245.6 203M256.1 125.6L244.8 127M245.5 414.6L244.9 413.9M244.9 413.9L248.5 406.6M248.5 406.6L244.9 402.3M244.9 402.3L246.6 396.8M245 168.5L253.7 167.9M246.8 474.3L245 472.4M245 472.4L246.4 468.6M245 335.9L249 336.5M245.1 293.4L245.1 292.8M245.1 292.8L245.1 292.7M245.1 292.7L245.6 285M245.6 285L245.1 284.5M245.1 284.5L246.5 276.4M245.1 292.8L252.8 293.8M245.5 311L245.1 303.5M245.1 303.5L253.6 303.2M245.2 499.2L249.4 498.3M255.1 157.8L245.4 154M245.4 154L248.6 143.3M251.9 312L245.5 311M246.2 422.4L245.5 414.6M245.5 414.6L256.1 414.4M253.7 285.3L245.6 285M245.6 203L245.7 202.9M245.6 223L246.7 224.2M245.6 223L247.5 214.4M245.6 509.6L251.1 509.7M245.7 202.9L247.5 191.2M255.1 202.8L245.7 202.9M246.7 377.8L245.8 376.9M245.8 376.9L246.5 370.4M249.5 448.8L246.1 449.2M246.8 294.2L246.1 294.1M252.5 424.6L246.2 422.4M246.5 276.4L246.4 276.3M246.4 276.3L247.2 268.4M249.1 368.3L246.5 370.4M254.4 277.4L246.5 276.4M246.6 387.2L247 384.3M246.6 396.8L250.1 395.6M247.5 383.7L246.7 377.8M246.7 377.8L254.2 375.7M246.9 226.1L246.7 224.2M246.7 224.2L256.1 223.7M248.3 481.4L246.8 474.3M246.8 474.3L256.6 473.3M247.6 295.8L246.8 294.2M246.8 294.2L246.8 294.2M247 384.3L247.5 383.7M247.2 268.4L247.2 268.4M247.2 268.4L248.2 260.7M255.4 269.1L247.2 268.4M248.5 361.2L247.3 352.5M247.3 352.5L248.3 351.8M254.5 214.3L247.5 214.4M252.7 384.9L247.5 383.7M247.5 191.2L253.3 190.5M248.2 260.7L247.6 260M247.6 260L248.8 252M252.7 297.5L247.6 295.8M248.2 260.7L256.1 261.1M250.1 482.3L248.3 481.4M256.9 354L248.3 351.8M248.3 351.8L250 345.9M248.8 361.4L248.5 361.2M248.5 406.6L257.3 405.6M248.6 544.8L249.7 543.7M248.6 143.3L257.2 142.3M248.8 252L248.7 251.9M248.7 251.9L249.4 243.7M256.4 253L248.8 252M249.1 368.3L248.8 361.4M248.8 361.4L255.7 361.1M249.7 543.7L248.9 535.2M248.9 535.2L251.1 534.2M251.6 344.3L249 336.5M249 336.5L251.6 334.8M254.4 370L249.1 368.3M250.3 468.3L249.2 467.4M249.2 467.4L251.8 459.5M249.4 243.7L249.5 243.6M251.7 499.8L249.4 498.3M249.4 498.3L252.3 490.5M257.8 244.6L249.5 243.6M249.5 243.6L250.3 235.9M253.1 458.9L249.5 448.8M249.5 448.8L250.8 448.1M254.2 544.1L249.7 543.7M251.1 534.2L249.7 525.1M249.7 525.1L252.8 523.3M251.3 327.3L249.9 321.3M249.9 321.3L251.9 319.2M250 345.9L251.6 344.3M250.1 395.6L250 388.2M253.2 485.9L250.1 482.3M250.1 482.3L258.7 475.1M255.8 397.7L250.1 395.6M250.3 235.9L250.2 235.7M250.2 235.7L251.5 227.5M258.5 236.2L250.3 235.9M259 448.7L250.8 448.1M250.8 448.1L251.4 439.4M252.6 438.3L251 431.7M251 431.7L252.1 430.1M251.7 518.6L251.1 509.7M251.1 509.7L252.6 509.1M253.8 533.9L251.1 534.2M253.6 329.2L251.3 327.3M251.4 439.4L252.6 438.3M251.6 344.3L257.6 344M258.3 338.3L251.6 334.8M251.6 334.8L253.6 329.2M252.5 519.3L251.7 518.6M252.6 509.1L251.7 499.8M251.7 499.8L260.8 499.2M251.8 459.5L253.1 458.9M251.9 319.2L251.9 312M251.9 312L253.3 311.1M260.7 322.1L251.9 319.2M260.9 433.4L252.1 430.1M252.1 430.1L252.5 424.6M252.3 490.5L252.7 490.1M252.4 468.5L259.7 466.1M252.8 523.3L252.5 519.3M252.5 519.3L259.6 515.7M252.5 424.6L255.3 423.1M258.2 509.6L252.6 509.1M252.6 438.3L259.9 438.8M253.6 303.2L252.7 297.5M252.7 297.5L255.8 295.2M261 495L252.7 490.1M252.7 490.1L253.2 485.9M254.4 387.1L252.7 384.9M252.7 384.9L257.9 378.4M258.4 526.5L252.8 523.3M252.8 294.2L252.8 293.8M252.8 293.8L253.2 293.5M258.2 459.3L253.1 458.9M260.3 483.6L253.2 485.9M261.2 293.8L253.2 293.5M253.2 293.5L253.7 285.3M257.1 193.1L253.3 190.5M253.3 190.5L254.6 179.6M259.8 312.4L253.3 311.1M253.3 311.1L254 303.8M253.6 329.2L258.6 328.1M254 303.8L253.6 303.2M253.7 285.3L254.1 284.9M255 169.2L253.7 167.9M253.7 167.9L255.1 157.8M259.1 538.2L253.8 533.9M253.8 533.9L258.4 526.5M254 303.8L261.9 302.5M254.1 284.9L262 286.2M254.1 284.9L254.4 277.4M254.2 388.1L254.4 387.1M257.9 378.4L254.2 375.7M254.2 375.7L254.4 370M254.4 370L256.1 368.7M254.4 277.4L254.7 277.1M262.7 387.2L254.4 387.1M256.9 223L254.5 214.3M254.5 214.3L255.7 213.1M254.6 179.6L255.7 178.6M262.9 277.7L254.7 277.1M254.7 277.1L255.4 269.1M255.7 178.6L255 169.2M255 169.2L266.4 168.4M255.7 213.1L255.1 202.8M255.1 202.8L256.9 201.2M255.1 157.8L258.8 154.9M261.6 425.6L255.3 423.1M255.3 423.1L256.5 415.3M255.4 269.1L255.4 269.1M255.4 269.1L256.1 261.1M263.5 269.8L255.4 269.1M255.6 227.5L256.1 223.7M255.7 213.1L263 212.6M256.1 368.7L255.7 361.1M255.7 361.1L255.8 361M266.1 182L255.7 178.6M264.3 362.9L255.8 361M255.8 361L257.2 354.2M257.4 405.4L255.8 397.7M255.8 397.7L257 396.5M256.6 473.3L255.9 469.5M256.9 126.6L256.1 125.6M256.1 125.6L257.7 117.1M256.5 415.3L256.1 414.4M256.1 414.4L257.3 405.6M256.1 261.1L256.2 261M256.1 368.7L263.3 369.6M256.1 223.7L256.9 223M264 261.7L256.2 261M256.2 261L256.4 253M256.3 547.8L256.6 546.3M256.4 253L257.2 252.4M256.5 415.3L264.2 416.5M258.7 475.1L256.6 473.3M264.6 223.8L256.9 223M256.9 126.6L271.8 129.4M257.2 142.3L256.9 126.6M267.3 204.7L256.9 201.2M256.9 201.2L257.1 193.1M257.2 354.2L256.9 354M256.9 354L257.6 344M257 396.5L259.3 389.3M265.7 396.1L257 396.5M257.1 193.1L265.1 190.1M257.2 252.4L265 253.6M257.2 252.4L257.9 244.7M257.2 354.2L263.8 354M257.5 142.5L257.2 142.3M257.3 405.6L257.4 405.4M263.6 405.8L257.4 405.4M258.8 154.9L257.5 142.5M257.5 142.5L267.1 142M257.6 344L257.6 344M257.6 344L258.3 338.3M257.6 344L265.1 345.9M257.6 543.9L258.2 543.5M257.9 244.7L257.8 244.6M257.8 244.6L258.6 236.3M257.9 378.4L261.8 378.7M266.1 245.1L257.9 244.7M259.6 515.7L258.2 509.6M258.2 509.6L260.8 506.9M259.7 466.1L258.2 459.3M258.2 459.3L259.4 457.6M264.5 547.1L258.2 543.5M258.2 543.5L259.1 538.2M258.3 338.3L260.6 336M258.6 526.5L258.4 526.5M258.6 236.3L258.5 236.2M258.5 236.2L259.1 228.6M259.6 329.4L258.6 328.1M258.6 328.1L260.7 322.1M266.8 237.2L258.6 236.3M265.5 530.2L258.6 526.5M258.6 526.5L262.2 518.4M258.7 475.1L262 476.3M268.3 157.3L258.8 154.9M259.4 457.6L259 448.7M259 448.7L259.9 447.8M259.1 538.2L265.5 535.5M268.7 457.2L259.4 457.6M262.2 518.4L259.6 515.7M259.6 329.4L267.1 330.3M260.6 336L259.6 329.4M260.9 467.2L259.7 466.1M260.8 322L259.8 312.4M259.8 312.4L261.3 311.5M261.8 441.8L259.9 438.8M259.9 438.8L260.9 433.4M269.4 451.3L259.9 447.8M259.9 447.8L261.8 441.8M260 469.3L260.9 467.2M261.8 493.9L260.3 483.6M260.3 483.6L260.7 483.2M266.8 337.3L260.6 336M260.7 322.1L260.8 322M269 487.2L260.7 483.2M260.7 483.2L262 476.3M270.1 509.1L260.8 506.9M260.8 506.9L260.8 499.2M266.9 321.6L260.8 322M260.8 499.2L261 498.8M260.9 433.4L262.6 431.1M260.9 467.2L265.8 468.6M261 498.8L261 495M261 495L261.8 493.9M269.2 499.8L261 498.8M261.4 294L261.2 293.8M261.2 293.8L262 286.2M261.3 295.2L261.4 294M268.5 314.7L261.3 311.5M261.3 311.5L263.7 306M263 298L261.3 295.8M269.2 295.3L261.4 294M262.6 431.1L261.6 425.6M261.6 425.6L263.8 423.8M261.8 441.8L270.2 440.9M262.5 379.5L261.8 378.7M261.8 378.7L263.6 370M268.4 490.4L261.8 493.9M263.7 306L261.9 302.5M261.9 302.5L263 298M262 286.2L262.4 285.9M262 476.3L263.8 475.4M262.2 518.4L268.5 518.6M262.3 389.1L262.7 387.2M270 286.7L262.4 285.9M262.4 285.9L263 277.8M263.6 386.2L262.5 379.5M262.5 379.5L270.5 378.1M271.6 432.4L262.6 431.1M262.7 387.2L263.6 386.2M263 277.8L262.9 277.7M262.9 277.7L263.8 270.1M266.4 218L263 212.6M263 212.6L267.3 204.7M263 298L271 297M263 277.8L271.3 278.6M263.6 370L263.3 369.6M263.3 369.6L264.7 363.3M263.8 270.1L263.5 269.8M263.5 269.8L264 261.7M271.6 371.8L263.6 370M270 387.8L263.6 386.2M265.1 415.9L263.6 405.8M263.6 405.8L264 405.7M269.5 306.4L263.7 306M271.8 270.2L263.8 270.1M269.4 476.9L263.8 475.4M263.8 475.4L264.5 470.3M264.3 362.9L263.8 354M263.8 354L265.3 352.7M263.8 423.8L264.2 416.5M270.6 423.8L263.8 423.8M264 261.7L264.2 261.5M272.3 407.8L264 405.7M264 405.7L267.4 397.7M264.2 416.5L265.1 415.9M272.3 262.5L264.2 261.5M264.2 261.5L265 253.6M264.7 363.3L264.3 362.9M266.1 226.3L264.6 223.8M264.6 223.8L266.4 218M264.7 363.3L271 362.3M265 253.6L265.1 253.5M265.9 347.2L265.1 345.9M265.1 345.9L267.8 338.3M265.1 415.9L272.5 415.7M273.4 254.5L265.1 253.5M265.1 253.5L266.3 245.3M268.6 193.2L265.1 190.1M265.1 190.1L266.1 182M265.2 229L266.1 226.3M272.8 356.1L265.3 352.7M265.3 352.7L265.9 347.2M265.7 396.1L265.5 390.1M265.6 535.5L265.5 530.2M265.5 530.2L268.7 527.5M267.5 545L265.5 535.5M265.5 535.5L265.6 535.5M274.9 537.3L265.6 535.5M267.4 397.7L265.7 396.1M265.8 468.7L265.8 468.6M265.8 468.6L270.2 459.6M265.8 468.7L276.1 468.8M266 469.8L265.8 468.7M265.9 347.2L274.4 346.9M266.3 245.3L266.1 245.1M266.1 245.1L266.8 237.2M266.1 182L267.7 180.7M266.1 226.3L275.6 227.5M266.3 245.3L273.9 246.3M269 171.3L266.4 168.4M266.4 168.4L268.3 157.3M276.6 215.2L266.4 218M266.8 237.2L266.8 237.2M275.4 238.1L266.8 237.2M266.8 237.2L267.7 229.9M267.8 338.3L266.8 337.3M266.8 337.3L267.1 330.3M268.5 329L266.9 321.6M266.9 321.6L267.9 320.9M267.1 330.3L268.5 329M273.5 147.8L267.1 142M267.1 142L271.8 129.4M267.3 204.7L267.9 204.5M267.4 397.7L274.5 396.9M280 183.1L267.7 180.7M267.7 180.7L269 171.3M273.1 337.9L267.8 338.3M274.8 206.7L267.9 204.5M267.9 204.5L268.6 193.2M275.5 322.1L267.9 320.9M267.9 320.9L268.5 314.7M268.3 157.3L273.2 154.7M272.5 494.6L268.4 490.4M268.4 490.4L269 487.2M269.8 520.4L268.5 518.6M268.5 518.6L271.2 510.4M268.5 329L275.5 330.3M268.5 314.7L271.1 312.6M268.6 193.2L277.2 192.5M274.4 529.8L268.7 527.5M268.7 527.5L269.8 520.4M270.2 459.6L268.7 457.2M268.7 457.2L270 452.1M269 171.3L278.3 169.9M269 487.2L271.8 484.5M269.2 296.1L269.2 295.3M270.9 502.7L269.2 499.8M269.2 499.8L272.5 494.6M269.2 295.3L269.3 295.2M277.4 295.6L269.3 295.2M269.3 295.2L270.4 287.2M270 452.1L269.4 451.3M269.4 451.3L270.2 440.9M271.8 484.5L269.4 476.9M269.4 476.9L273.6 474.4M271.1 312.6L269.5 306.4M269.5 306.4L271 304.8M269.6 544.7L274 543.2M269.8 390L270 387.8M277.2 521.4L269.8 520.4M270.2 387.7L270 387.8M276.5 450.7L270 452.1M270.4 287.2L270 286.7M270 286.7L271.5 278.9M271.2 510.4L270.1 509.1M270.1 509.1L270.9 502.7M270.2 440.9L270.8 440.6M276.9 389.2L270.2 387.7M270.2 387.7L272.7 380.1M274.3 460.6L270.2 459.6M270.4 287.2L278.1 288M272.7 380.1L270.5 378.1M270.5 378.1L271.6 371.8M272.8 427.5L270.6 423.8M270.6 423.8L272.9 416.2M276.7 442.9L270.8 440.6M270.8 440.6L271.6 432.4M278.4 500.8L270.9 502.7M278.5 306.3L271 304.8M271 304.8L271.4 297.1M274 365.4L271 362.3M271 362.3L272.8 356.1M276.9 313.4L271.1 312.6M271.2 510.4L278.3 510.2M271.4 297.1L271.3 297M271.5 278.9L271.3 278.6M271.3 278.6L272 270.5M271.4 297.1L272 297.1M271.5 278.9L279 279.8M271.6 432.4L272.2 431.8M271.6 371.8L272.7 371.1M276.2 485.1L271.8 484.5M272 270.5L271.8 270.2M271.8 270.2L272.3 262.5M271.8 129.4L272.9 129M280.1 271.1L272 270.5M281.2 433.8L272.2 431.8M272.2 431.8L272.8 427.5M272.3 262.5L272.5 262.2M272.5 415.7L272.3 407.8M272.3 407.8L273.5 406.7M280.9 263.3L272.5 262.2M272.5 262.2L273.5 254.6M272.5 494.6L276.4 494.7M272.9 416.2L272.5 415.7M272.7 380.1L278.9 379.9M280.2 374.6L272.7 371.1M272.7 371.1L274 365.4M272.8 427.5L279.6 424.6M272.8 356.1L273.8 355.6M279.8 131.8L272.9 129M272.9 129L274.2 117.1M272.9 416.2L280.2 417.7M275 346.4L273.1 337.9M273.1 337.9L275.4 335.9M278.3 157.9L273.2 154.7M273.2 154.7L273.5 147.8M273.5 254.6L273.4 254.5M273.4 254.5L273.9 246.3M273.5 254.6L281.3 255M273.5 147.8L280.9 142.4M281.1 408.2L273.5 406.7M273.5 406.7L275.5 398.1M279.9 476.4L273.6 474.4M273.6 474.4L273.7 471.2M273.8 355.6L279.9 356.3M273.8 355.6L274.4 346.9M273.9 246.3L274 246.2M274 246.2L282.4 247.2M274 246.2L275.4 238.1M274 365.4L280 364.4M275.1 552.2L274 543.2M274 543.2L274.8 542.3M276.8 468L274.3 460.6M274.3 460.6L278.9 457.5M274.4 346.9L275 346.4M274.5 396.9L274.4 391.2M275.1 537.1L274.4 529.8M274.4 529.8L278.8 526.8M275.5 398.1L274.5 396.9M276.6 215.2L274.8 206.7M274.8 206.7L278.5 203.7M280.9 545.1L274.8 542.3M274.8 542.3L274.9 537.3M274.9 537.3L275.1 537.1M281.9 346.7L275 346.4M284 535.1L275.1 537.1M282.7 339.4L275.4 335.9M275.4 335.9L275.8 331M275.4 238.1L275.5 238M275.8 331L275.5 330.3M275.5 330.3L276.7 323.5M283.9 398.9L275.5 398.1M275.5 230.3L275.6 227.5M276.7 323.5L275.5 322.1M275.5 322.1L276.9 313.4M282.8 238.8L275.5 238M275.5 238L275.6 230.9M275.6 227.5L276 227.2M275.8 331L285 330.7M275.8 470.8L276.1 468.8M276 227.2L286 228.2M276 227.2L277.3 216M276.1 468.8L276.8 468M277.8 487.2L276.2 485.1M276.2 485.1L280.9 478M278.4 500.8L276.4 494.7M276.4 494.7L278.8 491.9M278.9 452.6L276.5 450.7M276.5 450.7L276.7 442.9M277.3 216L276.6 215.2M276.7 442.9L280.5 441.3M284.9 322.4L276.7 323.5M282.7 467.8L276.8 468M276.9 313.4L277.7 312.8M277.1 390.9L276.9 389.2M276.9 389.2L278.5 387.8M279.2 305.6L277 297.7M277 553.5L279.9 553.2M280.4 197.2L277.2 192.5M277.2 192.5L280.1 183.3M278.8 526.8L277.2 521.4M277.2 521.4L278.8 519.8M277.3 216L285.3 216.4M278 296.2L277.4 295.6M277.4 295.6L278.1 288M286 315.5L277.7 312.8M277.7 312.8L278.5 306.3M277.8 297.2L278 296.2M278.8 491.9L277.8 487.2M277.8 487.2L287.4 484.5M278 296.2L285.3 296.6M278.1 288L278.3 287.9M286.2 288.8L278.3 287.9M278.3 287.9L279 279.8M278.7 510.6L278.3 510.2M278.3 510.2L280.4 502.6M278.3 169.9L278.3 157.9M278.3 157.9L285 157.2M280 171.3L278.3 169.9M280.4 502.6L278.4 500.8M289.6 208L278.5 203.7M278.5 203.7L280.4 197.2M287 388.9L278.5 387.8M278.5 387.8L278.9 379.9M278.5 306.3L279.2 305.6M284.7 529.9L278.8 526.8M278.8 519.8L283.6 519.9M278.8 519.8L278.8 518.6M287.1 493.1L278.8 491.9M278.9 379.9L279.8 379M278.9 457.5L278.9 452.6M278.9 452.6L286.2 450M285.7 461.9L278.9 457.5M279 511.5L283.5 512.9M279 279.8L279 279.8M279 279.8L280.5 271.5M286.9 280.9L279 279.8M286.3 304.5L279.2 305.6M281.8 427L279.6 424.6M279.6 424.6L280.2 417.7M280.9 142.4L279.8 131.8M279.8 131.8L285.9 129.3M287.2 381.9L279.8 379M279.8 379L280.2 374.6M280 364.4L279.9 356.3M279.9 356.3L281.5 355.2M281.5 554L279.9 553.2M279.9 553.2L281 545.2M280.9 478L279.9 476.4M279.9 476.4L281.8 472M280.1 183.3L280 183.1M280 183.1L280 171.3M281.6 365.5L280 364.4M280 171.3L289.3 169.9M280.5 271.5L280.1 271.1M280.1 271.1L280.9 263.3M287 183.9L280.1 183.3M280.2 374.6L282.8 371.9M280.2 417.7L281.9 416.9M280.4 197.2L287.3 196.2M280.4 502.6L282.6 502M280.5 271.5L287.7 272.3M285.6 443.8L280.5 441.3M280.5 441.3L281.2 433.8M286.7 480.2L280.9 478M280.9 263.3L280.9 263.3M280.9 263.3L281.6 255.3M288.7 263.7L280.9 263.3M290.4 146.1L280.9 142.4M281 545.2L280.9 545.1M280.9 545.1L284.9 536.4M291.4 546.3L281 545.2M281.9 416.9L281.1 408.2M281.1 408.2L282.2 407.3M281.2 433.8L282.5 432.8M281.6 255.3L281.3 255M281.3 255L282.4 247.2M281.4 558.4L281.5 554M288.5 357.8L281.5 355.2M281.5 355.2L282.7 347.5M281.5 554L287.6 553.9M289.4 256L281.6 255.3M282.8 371.9L281.6 365.5M281.6 365.5L288.3 362.8M282.5 432.8L281.8 427M281.8 427L289.3 424M286 417.2L281.9 416.9M282.7 347.5L281.9 346.7M281.9 346.7L282.7 339.4M290.5 409.6L282.2 407.3M282.2 407.3L284.1 399.2M282.4 247.2L282.4 247.2M282.4 247.2L290.4 247.8M282.4 247.2L282.8 238.8M283.7 503.7L282.4 503.5M282.5 518.2L283.9 513.7M288.9 433L282.5 432.8M289.8 347.9L282.7 347.5M282.7 339.4L283.7 338.7M285 471.7L282.7 467.8M282.7 467.8L285.7 461.9M282.8 238.8L282.8 238.8M291.3 239.8L282.8 238.8M282.8 238.8L284.1 232M286.9 372.3L282.8 371.9M287.4 300.9L283.5 298.4M283.9 513.7L283.5 512.9M283.5 512.9L285.4 506M286.7 522.9L283.6 519.9M283.6 519.9L284.1 518.9M285.4 506L283.7 503.7M283.7 503.7L286.7 497.1M291.5 340.2L283.7 338.7M283.7 338.7L285.8 332M284.1 399.2L283.9 398.9M283.9 398.9L284.7 392.4M290.7 514.4L283.9 513.7M284.9 536.4L284 535.1M284 535.1L284.7 529.9M284.1 399.2L288.8 400.2M284.7 529.9L285.1 529.5M291 540.1L284.9 536.4M285.8 323.5L284.9 322.4M284.9 322.4L286 315.5M285.8 332L285 330.7M285 330.7L285.8 323.5M289.2 160.9L285 157.2M285 157.2L290.4 146.1M285.1 529.5L286.7 522.9M293.3 529.2L285.1 529.5M287.7 219.4L285.3 216.4M285.3 216.4L289.6 208M285.7 297L285.3 296.6M285.3 296.6L286.2 288.8M290.8 506L285.4 506M286.2 450L285.6 443.8M285.6 443.8L286.5 443.2M285.6 298.1L285.7 297M285.7 297L293.8 297.2M285.7 461.9L286.6 461.5M285.8 231.6L286.2 228.6M292.1 324.8L285.8 323.5M285.8 332L292.3 332.8M295.9 132.5L285.9 129.3M285.9 129.3L286.4 117.1M286.2 228.6L286 228.2M286 228.2L287.7 219.4M286 315.5L286.1 315.5M289.3 424L286 417.2M286 417.2L289.1 414.6M286.1 315.5L286.5 305M286.1 315.5L294.1 314.7M286.2 288.8L286.8 288.3M294.2 229.9L286.2 228.6M289.9 452.9L286.2 450M286.5 305L286.3 304.5M286.3 304.5L287.4 300.9M286.5 443.2L289.4 434.1M295.6 442.5L286.5 443.2M286.5 305L295.5 309.1M290.9 463.3L286.6 461.5M286.6 461.5L289.9 452.9M286.7 497.1L286.7 497.1M286.7 497.1L291.4 497.3M286.7 522.9L292.4 520M287.4 484.5L286.7 480.2M286.7 480.2L289.2 478M286.8 392.1L287.4 389.4M294.4 289.4L286.8 288.3M286.8 288.3L286.9 280.9M286.9 280.9L287.7 280.2M289.2 374.4L286.9 372.3M286.9 372.3L291.2 365.5M286.9 495.7L287.5 493.7M287.9 184.8L287 183.9M287 183.9L292.9 172.7M287.4 389.4L287 388.9M287 388.9L287.2 381.9M287.5 493.7L287.1 493.1M287.1 493.1L288.3 486.1M287.2 381.9L288.1 381.3M289.3 197.2L287.3 196.2M287.3 196.2L287.9 184.8M294.9 389.7L287.4 389.4M287.4 300.9L289.4 299.1M288.3 486.1L287.4 484.5M288.3 493.9L287.5 493.7M290.6 558.7L287.6 553.9M287.6 553.9L291.6 546.6M295.2 219.8L287.7 219.4M287.7 280.2L287.7 272.3M287.7 272.3L288.2 271.9M287.7 280.2L295.1 280.7M290.2 185.5L287.9 184.8M294.9 381.4L288.1 381.3M288.1 381.3L289.2 374.4M296.3 272.8L288.2 271.9M288.2 271.9L289.1 264.1M291.2 365.5L288.3 362.8M288.3 362.8L288.5 357.8M288.3 486.1L290.6 486.1M288.5 357.8L289.2 357.2M289.1 264.1L288.7 263.7M288.7 263.7L289.4 256M291.8 408.1L288.8 400.2M288.8 400.2L290.7 399M289.4 434.1L288.9 433M288.9 433L292.7 426.6M289 563.6L290.2 562.7M289.2 478L289 472.7M296.8 264.5L289.1 264.1M289.1 472.1L290.7 471.9M298.2 418.4L289.1 414.6M289.1 414.6L290.5 409.6M289.3 169.9L289.2 160.9M289.2 160.9L300.9 158M290 478L289.2 478M289.2 374.4L295.6 374.1M298.3 357.5L289.2 357.2M289.2 357.2L290.7 348.7M292.7 426.6L289.3 424M292.9 172.7L289.3 169.9M289.7 199.7L289.3 197.2M289.3 197.2L290.1 196.9M289.4 256L289.8 255.7M295.7 438.5L289.4 434.1M289.6 208L290.8 207.4M297.9 257.1L289.8 255.7M289.8 255.7L290.5 247.9M290.7 348.7L289.8 347.9M289.8 347.9L291.5 340.2M289.9 452.9L293.6 452.4M291.5 563.5L290.2 562.7M290.2 562.7L290.6 558.7M290.5 247.9L290.4 247.8M290.4 247.8L291.3 239.8M294.9 144.7L290.4 146.1M298.3 248.7L290.5 247.9M290.5 409.6L291.8 408.1M290.8 207.4L290.6 205.6M290.6 558.7L298.9 556.2M300.5 401.8L290.7 399M290.7 399L293.6 393.5M292.5 489.5L290.7 489.1M291.9 518.8L290.7 514.4M290.7 514.4L292.9 512.2M290.7 348.7L298.7 349.7M290.8 196.7L291 196.5M292.9 207.7L290.8 207.4M292.9 512.2L290.8 506M290.8 506L292.5 504.3M291.4 546.3L291 540.1M291 540.1L293.5 538.1M297.3 202.8L291 196.5M291 196.5L292 192.6M291.2 365.5L295.9 366.2M293.2 473L291.3 472.5M291.3 239.8L291.6 239.5M291.6 546.6L291.4 546.3M292.5 504.3L291.4 497.3M291.4 497.3L294 495.3M294.7 463.7L291.5 463.1M292.9 339.2L291.5 340.2M298.7 548.6L291.6 546.6M291.6 239.5L299.2 240.3M291.6 239.5L291.8 232.9M292 192.6L291.7 192.3M298.9 407.8L291.8 408.1M291.8 480.8L293.8 480.3M292 192.6L296.7 190.3M293.4 331.7L292.1 324.8M292.1 324.8L294.7 323M292.4 520L292.2 519.5M292.9 339.2L292.3 332.8M292.3 332.8L293.4 331.7M293.3 520.6L292.4 520M293.5 490.6L292.5 489.5M292.5 489.5L294.3 480.8M292.5 456.1L296.9 455.2M298.6 504.6L292.5 504.3M292.7 426.6L296.5 425.9M292.9 512.2L299.2 512.2M298 340.6L292.9 339.2M299.5 173L292.9 172.7M293.7 473.5L293.2 473M293.2 473L295.1 464.2M301.6 520.7L293.3 520.6M293.3 529.2L293.3 520.6M296.5 531.5L293.3 529.2M293.4 331.7L298.8 331.2M297 307.7L293.4 299.6M294 495.3L293.5 490.6M293.5 490.6L300 487.8M299.6 539.9L293.5 538.1M293.5 538.1L296.5 531.5M293.8 480.3L293.7 473.5M302.8 472.2L293.7 473.5M297.7 180.8L293.7 179.1M294.3 480.8L293.8 480.3M294.1 297.6L293.8 297.2M293.8 297.2L294.4 289.4M294 299.1L294.1 297.6M300.1 497.3L294 495.3M301.9 298.1L294.1 297.6M295.7 316.4L294.1 314.7M294.1 314.7L295.5 309.1M294.1 232.6L294.2 229.9M294.2 229.9L296.5 228.4M294.3 480.8L299.9 482.7M294.4 289.4L294.4 289.4M294.4 289.4L302.5 290M294.4 289.4L295.6 281.3M295.1 464.2L294.7 463.7M294.7 463.7L297.3 455.6M300.4 325.8L294.7 323M294.7 323L295.7 316.4M299.3 148.3L294.9 144.7M294.9 144.7L296.5 133.8M294.9 389.7L294.9 381.4M296.3 380L294.9 381.4M296.1 390.5L294.9 389.7M295.1 464.2L302.9 465.9M295.6 281.3L295.1 280.7M295.1 280.7L296.4 272.9M296.5 228.4L295.2 219.8M295.2 219.8L298.3 217.1M295.5 309.1L297 307.7M303.4 282.1L295.6 281.3M295.6 374.1L296.3 380M295.6 374.1L296.9 372.3M297.5 445.3L295.6 442.5M295.6 442.5L295.7 438.5M300.2 121.4L295.6 117.1M295.6 393.1L296.1 390.5M295.7 316.4L300.8 317M295.7 438.5L297.8 436.5M296.9 455.2L295.8 449.8M296.5 133.8L295.9 132.5M295.9 132.5L300.2 121.4M296.9 372.3L295.9 366.2M295.9 366.2L296.8 365.3M296 209.6L297.3 202.8M296.1 390.5L301.6 390M296.2 448.7L297.5 445.3M296.4 272.9L296.3 272.8M296.3 272.8L297.3 265.1M296.3 380L302.8 381.8M298.3 217.1L296.3 210.7M304.1 274.1L296.4 272.9M301.5 229.2L296.5 228.4M296.5 531.5L300.7 530.5M311.1 134.8L296.5 133.8M297.8 436.5L296.5 425.9M296.5 425.9L296.9 425.7M300.2 191.5L296.7 190.3M296.7 190.3L297.7 180.8M306.2 366.1L296.8 365.3M296.8 365.3L298.3 357.5M297.3 265.1L296.8 264.5M296.8 264.5L297.9 257.1M300 212.1L296.8 210.4M304.2 427.9L296.9 425.7M296.9 425.7L298.2 418.4M297.3 455.6L296.9 455.2M304.6 373.4L296.9 372.3M300.6 306.8L297 307.7M297.3 202.8L303.1 200.3M297.3 455.6L302.1 456.7M305.4 265.9L297.3 265.1M297.5 445.3L300.2 445.1M297.7 180.8L302.1 178.6M305.8 435.6L297.8 436.5M297.9 257.1L298.1 256.9M298.7 349.7L298 340.6M298 340.6L299.7 339.5M305.8 257.3L298.1 256.9M298.1 256.9L298.3 248.7M298.2 418.4L298.7 417.8M298.3 519.2L299.2 512.2M303.7 218.1L298.3 217.1M298.3 248.7L298.9 248.2M298.3 357.5L298.5 357.4M305 359.1L298.5 357.4M298.5 357.4L299 350M299.6 506.3L298.6 504.6M298.6 504.6L300.5 497.8M299.9 550.4L298.7 548.6M298.7 548.6L302.2 542.5M298.7 417.8L298.9 407.8M298.7 417.8L307 417.2M304.3 446.9L298.7 447.3M299 350L298.7 349.7M300 332.6L298.8 331.2M298.8 331.2L300.4 325.8M298.9 407.8L300.1 406.9M306.6 249L298.9 248.2M298.9 248.2L299.2 240.3M300.9 558.9L298.9 556.2M298.9 556.2L299.9 550.4M299 350L305.7 348.8M299.2 512.2L299.5 511.9M299.2 240.3L299.3 240.2M300.9 158L299.3 148.3M299.3 148.3L311.3 144.9M307.2 240.8L299.3 240.2M299.3 240.2L300 234M306.9 513.5L299.5 511.9M299.5 511.9L299.6 506.3M299.6 506.3L307.8 505M307.9 340.3L299.7 339.5M299.7 339.5L300 332.6M300 487.8L299.9 482.7M299.9 482.7L303.1 480.8M308.6 551.2L299.9 550.4M302.9 490.9L300 487.8M300.3 213.4L300 212.1M300 212.1L306.1 209.5M300 332.6L308 332.8M307.1 409.5L300.1 406.9M300.1 406.9L300.5 401.8M300.5 497.8L300.1 497.3M300.1 497.3L302.9 490.9M303.1 200.3L300.2 191.5M300.2 191.5L308 189.1M300.2 121.4L302.6 120.8M300.4 325.8L302.3 324.9M307.9 499.9L300.5 497.8M300.5 401.8L301.4 400.2M300.9 307.1L300.6 306.8M300.6 306.8L300.9 306.1M300.6 561.5L300.9 558.9M301.1 530.9L300.7 530.5M300.7 530.5L303.3 522.8M300.8 537.4L301.1 530.9M300.9 558.9L304.4 558.6M302.6 159.9L300.9 158M306.7 534.1L301.1 530.9M305.8 308.8L301.1 308.7M301.6 394.6L301.2 394.4M301.3 316.2L307.3 315.7M302.2 170.5L301.3 170.3M310.2 402.3L301.4 400.2M301.4 400.2L302.1 395.1M301.5 233.5L301.5 229.2M301.5 229.2L304 228.1M301.6 390L302.4 394M301.6 390L302.1 389.6M302.1 395.1L301.6 394.6M301.6 394.6L301.6 394.5M303.3 522.8L301.6 520.7M301.6 520.7L301.7 520.1M301.8 304.2L302.1 298.4M302.1 298.4L301.9 298.1M301.9 298.1L302.7 290.2M302.1 395.1L303.8 394.7M302.1 389.6L310.6 390.3M302.1 389.6L302.8 381.8M302.1 298.4L305.6 298.5M302.9 465.9L302.1 456.7M302.1 456.7L303.3 456.1M307.2 181L302.1 178.6M302.1 178.6L302.2 170.5M302.2 170.5L305 167.9M307 327.3L302.3 324.9M302.3 324.9L302.9 321.9M302.7 290.2L302.5 290M302.5 290L303.5 282.1M308.9 290.9L302.7 290.2M303.5 473L302.8 472.2M302.8 472.2L303.2 466.2M302.8 381.8L304.4 380.5M303.2 466.2L302.9 465.9M302.9 490.9L308.3 489.9M307 201.4L303.1 200.3M309.2 483.4L303.1 480.8M303.1 480.8L303.5 473M303.2 466.2L310.5 463.9M303.3 522.8L309 522.9M310.9 458.8L303.3 456.1M303.3 456.1L306.1 449.5M303.5 282.1L303.4 282.1M303.4 282.1L304.1 274.1M303.5 473L309.6 473.5M310.9 282.8L303.5 282.1M304 228.1L303.9 218.3M310.5 229.9L304 228.1M304.1 274.1L304.7 273.7M305.8 435.6L304.2 427.9M304.2 427.9L307.5 425.5M304.3 300.6L307.7 300.5M306.1 449.5L304.3 446.9M304.3 446.9L306.3 440.8M312.4 382.4L304.4 380.5M304.4 380.5L304.6 373.4M305.8 440.1L304.6 439.9M305 167.9L304.6 160.8M304.6 373.4L305.4 372.7M312.2 274.9L304.7 273.7M304.7 273.7L305.4 265.9M314.2 170.7L305 167.9M306.2 323.8L305 323.6M306.2 366.1L305 359.1M305 359.1L308.4 356.8M305.4 265.9L305.7 265.6M312.8 374.2L305.4 372.7M305.4 372.7L306.2 366.2M313.5 266.4L305.7 265.6M305.7 265.6L306 257.5M307.9 350.5L305.7 348.8M305.7 348.8L307.9 340.3M306.3 436.1L305.8 435.6M306.3 440.8L305.8 440.1M305.8 440.1L306.1 437.7M306 257.5L305.8 257.3M305.8 257.3L307 249.5M307.3 315.7L305.8 308.8M305.8 308.8L307.2 307.5M309.6 219.7L305.8 220M306 324.9L306.2 323.8M306 257.5L314.1 258.2M306.1 449.5L311.9 450.4M306.1 519.8L307.7 514.3M311 212.5L306.1 209.5M306.1 209.5L307 201.4M306.2 366.2L306.2 366.1M306.2 323.8L306.9 323.4M306.2 366.2L311.9 365.3M312.1 441.5L306.3 440.8M306.3 436.5L306.3 436.1M306.3 436.1L306.6 436.1M307 249.5L306.6 249M306.6 249L307.6 241.2M306.7 535.9L306.7 534.1M306.7 534.1L311.8 531.9M310.7 548.7L306.8 542.7M313.7 325.3L306.9 323.4M306.9 323.4L308 316.4M307.7 514.3L306.9 513.5M306.9 513.5L307.8 505M314 250L307 249.5M307 201.4L310.9 199.5M307.8 418.5L307 417.2M307 417.2L308.7 411.5M308.7 411.5L307.1 409.5M307.1 409.5L310.2 402.3M308 189.1L307.2 181M307.2 181L313.7 177.7M314.7 310.3L307.2 307.5M307.2 307.5L308.5 301.7M307.6 241.2L307.2 240.8M307.2 240.8L307.9 234.9M308 316.4L307.3 315.7M313.8 427L307.5 425.5M307.5 425.5L307.8 418.5M308 332.8L307.6 328.1M311.5 241.5L307.6 241.2M307.7 300.5L308.5 301.7M307.7 300.5L307.9 297M314.1 514.2L307.7 514.3M307.8 505L307.8 505M307.8 505L307.9 499.9M307.8 418.5L317.3 419.8M307.8 505L315.5 507.3M307.9 340.3L308 340.2M308.4 356.8L307.9 350.5M307.9 350.5L315.9 349.5M307.9 499.9L310.2 498.1M316.6 343.4L308 340.2M308 340.2L309.1 334.3M309.1 334.3L308 332.8M308 316.4L313.6 315.4M312.6 192.5L308 189.1M308.7 490.2L308.3 489.9M308.3 489.9L309.2 483.4M314.4 359.5L308.4 356.8M308.5 301.7L315.6 302.1M309.2 555.7L308.6 551.2M308.6 551.2L310.7 548.7M308.7 490.2L318.1 490.7M310.2 498.1L308.7 490.2M316.3 410.9L308.7 411.5M311.7 525.2L309 522.9M309 522.9L310.1 520.6M315.5 291.9L309 292.9M309.1 334.3L311 333.8M309.2 483.4L311.6 482M312.6 222.8L309.6 219.7M309.6 219.7L311 212.5M311.6 482L309.6 473.5M309.6 473.5L311.9 472M309.9 395.5L311.3 401.6M310.2 432.4L313.5 431.4M315.9 498.6L310.2 498.1M310.2 402.3L311.3 401.6M313 466.4L310.5 463.9M310.5 463.9L310.9 458.8M310.6 233.2L310.5 229.9M310.5 229.9L310.8 229.7M315.9 285.2L310.5 284.3M311.3 391.5L310.6 390.3M310.6 390.3L312.9 383M310.7 548.7L314.8 547.7M310.9 458.8L312.4 457.4M316.7 204.3L310.9 199.5M310.9 199.5L312.6 192.5M311 395L311.3 391.5M311 212.5L314.7 211.1M311.3 144.9L311.1 134.8M311.1 134.8L314.6 130.9M315.6 148.4L311.3 144.9M311.3 391.5L319.4 392.1M311.3 401.6L315.1 402.5M311.3 332.8L313.5 332.3M311.5 225.1L312.6 222.8M311.6 281.9L312.2 274.9M311.6 231.7L320.3 232M315.9 481.9L311.6 482M311.8 531.9L311.7 525.2M311.7 525.2L313.2 525M311.7 557L314.5 556.8M315.7 539.8L311.8 539.9M312.8 532.6L311.8 531.9M312.4 457.4L311.9 450.4M311.9 450.4L311.9 450.4M311.9 450.4L313.4 442.6M320.2 450.2L311.9 450.4M313.8 367.8L311.9 365.3M311.9 365.3L314.4 359.5M317.7 475.1L311.9 472M311.9 472L313 466.4M313.4 442.6L312.1 441.5M312.1 441.5L314.6 432.7M312.2 274.9L312.7 274.5M320.6 457.9L312.4 457.4M312.9 383L312.4 382.4M312.4 382.4L313.5 375.1M312.6 192.5L317.6 190.6M312.6 222.8L318.8 222.9M320.6 275.7L312.7 274.5M312.7 274.5L313.6 266.6M313.5 375.1L312.8 374.2M312.8 374.2L313.8 367.8M319.1 383.7L312.9 383M313 466.4L318.7 466M313.2 522.4L315.3 522.1M313.3 240.4L319.7 239.3M313.4 442.6L320.4 442.7M313.4 338.2L313.5 332.3M313.6 266.6L313.5 266.4M313.5 266.4L314.1 258.2M314.6 432.7L313.5 431.4M313.5 431.4L313.7 429.4M320.7 374.3L313.5 375.1M313.5 332.3L314.5 331.5M321.3 267L313.6 266.6M315.7 317.6L313.6 315.4M313.6 315.4L314.7 310.3M319.3 181.9L313.7 177.7M313.7 177.7L314.2 170.7M314.5 530.3L313.7 530.2M314.5 331.5L313.7 325.3M313.7 325.3L315 324.1M313.8 367.8L322 368M314.1 258.2L314.3 258M314.8 514.9L314.1 514.2M314.1 514.2L315.5 507.3M314.2 170.7L315.2 169.8M314.3 258L319.9 258.9M314.3 258L315 251.6M314.6 130.9L314.3 128.4M316 250.4L314.4 249.4M314.4 359.5L316.3 358.6M315.6 531.7L314.5 530.3M314.5 530.3L316.4 523.3M320.4 333.3L314.5 331.5M323.8 134.5L314.6 130.9M320 434.7L314.6 432.7M314.7 310.3L316.6 308.8M319.9 214.9L314.7 211.1M314.7 211.1L316.7 204.3M315.3 522.1L314.8 514.9M322.6 514.8L314.8 514.9M314.8 536.4L315.6 531.7M314.9 149.9L315.6 148.4M323.1 324.2L315 324.1M315 324.1L315.7 317.6M326.2 172.1L315.2 169.8M315.2 169.8L317.5 160.9M315.3 522.1L316.4 523.3M315.4 547.2L316.5 542M317.5 160.9L315.5 158.6M316.6 292.8L315.5 291.9M315.5 291.9L315.9 285.2M315.5 507.3L316.1 506.8M315.8 302.3L315.6 302.1M315.6 302.1L316.6 292.8M317 148.3L315.6 148.4M315.6 426.1L318.2 426.9M315.6 531.7L321.6 531.8M315.7 317.6L322.1 316.6M316.6 308.8L315.8 302.3M315.8 302.3L323.3 301.3M317 539.1L315.8 538.9M315.8 562.8L317.7 560M315.9 285.2L316.8 283.9M316.1 506.8L315.9 498.6M315.9 498.6L317.1 497.8M316.4 350.2L315.9 349.5M315.9 349.5L316.6 343.4M318.3 483.9L315.9 481.9M315.9 481.9L317.7 475.1M316 251L316 250.4M316 250.4L320.6 248.8M323.9 507.2L316.1 506.8M318 418.4L316.3 410.9M316.3 410.9L317 410M319.3 359.7L316.3 358.6M316.3 358.6L316.4 350.2M316.4 523.3L322.8 523.6M316.4 350.2L317.3 350.3M322.6 310.2L316.6 308.8M316.6 292.8L322.6 293.3M316.6 343.4L316.7 343.4M316.8 283.9L316.7 279.7M316.7 343.4L317.2 340.5M320.1 343.2L316.7 343.4M316.7 204.3L323.7 203M317 410L316.7 406.7M324.5 285.3L316.8 283.9M317 410L322 409.8M324.2 499.8L317.1 497.8M317.1 497.8L318.1 490.7M317.5 160.9L325.2 160.8M321.6 192.8L317.6 190.6M317.6 190.6L319.3 181.9M317.7 475.1L319.3 474.2M317.9 568.3L317.8 568.3M319.5 420.1L317.9 420M318 399.6L318.8 399.9M318.1 490.7L318.3 490.5M319.1 428.2L318.2 426.9M318.2 426.9L319.5 420.1M325.7 491.6L318.3 490.5M318.3 490.5L318.3 483.9M318.3 483.9L325.2 482.3M318.4 406.3L320.2 401.6M320.5 467.7L318.7 466M318.7 466L320.6 458M319.8 348.8L318.8 348.7M320.2 401.6L318.8 399.9M318.8 399.9L319.4 392.1M320.3 232L318.8 222.9M318.8 222.9L319 222.8M318.9 429.2L319.1 428.2M319 222.8L319.9 214.9M327.5 222.6L319 222.8M319.1 428.2L325.5 426.7M320.4 385.3L319.1 383.7M319.1 383.7L322.6 377.1M326.3 476.6L319.3 474.2M319.3 474.2L320.5 467.7M319.3 181.9L326 179.7M319.4 392.1L319.4 392M319.4 392L328.5 393.5M319.4 392L320.4 385.3M319.5 420.1L320.9 419M319.6 339.8L321.2 339.5M320 239.6L319.7 239.3M319.7 239.3L320.3 232.1M320.7 356.7L319.8 348.8M319.8 348.8L320.7 348.2M326.1 212L319.9 214.9M320.4 442.6L320 434.7M320 434.7L322.2 433.3M328.6 240.7L320 239.6M320.6 248.8L320 239.6M320.1 356.7L320.7 356.7M320.2 401.6L325.2 400.7M320.4 450.5L320.2 450.2M320.2 450.2L320.4 442.7M320.9 419L320.2 415.5M320.3 232.1L320.3 232M320.3 232.1L328.9 231M322.1 367.9L320.3 361M320.4 278.1L320.6 275.7M320.4 442.7L320.4 442.6M328 386.4L320.4 385.3M320.9 334.1L320.4 333.3M320.4 333.3L324.1 325.4M320.6 457.9L320.4 450.5M328.6 450.1L320.4 450.5M320.4 442.6L327.4 442.4M326.8 467.8L320.5 467.7M320.6 458L320.6 457.9M320.6 275.7L320.9 275.5M324.4 250.8L320.6 248.8M320.6 458L327 458.9M320.8 357.5L320.7 356.7M320.7 356.7L320.7 356.7M327.7 355.7L320.7 356.7M322.6 377.1L320.7 374.3M320.7 374.3L322 368M327.9 348.9L320.7 348.2M320.7 348.2L321.6 340.1M324.9 420.3L320.9 419M322.6 275.6L320.9 275.5M320.9 275.5L321.3 267M321.2 339.5L320.9 334.1M330.6 333.5L320.9 334.1M321.6 340.1L321.2 339.5M321.3 267L321.3 267M321.3 267L322 261.7M321.3 267L324.9 267.4M322 536.9L321.6 531.8M321.6 531.8L323.3 530.4M323.7 203L321.6 192.8M328.6 190.6L321.6 192.8M321.6 340.1L329.7 341.2M321.7 277.6L324.7 277M322 412.1L325.3 411.4M322 368L322.1 367.9M328.6 367.6L322.1 367.9M323.5 318.2L322.1 316.6M322.1 316.6L322.6 310.2M329.1 436.1L322.2 433.3M322.2 433.3L323.1 430.1M322.3 144L323.8 134.5M322.5 261.3L325.1 261.3M323.6 515.9L322.6 514.8M322.6 514.8L323.9 507.2M322.6 377.1L328.4 377.9M323.3 301.3L322.6 293.3M322.6 293.3L322.7 293.2M322.6 310.2L323.5 309.6M331.2 293.8L322.7 293.2M322.7 293.2L324.5 285.3M323.3 530.4L322.8 523.6M322.8 523.6L323.9 522.6M324.1 325.4L323.1 324.2M323.1 324.2L323.5 318.2M324.3 302.2L323.3 301.3M323.3 530.4L329.8 532.4M323.5 318.2L330 317.4M329 310.4L323.5 309.6M323.5 309.6L324.3 302.2M323.9 522.6L323.6 515.9M323.6 515.9L331.7 514.8M323.7 566.6L324.5 564.2M326.4 204.3L323.7 203M323.8 134.5L329.3 132.8M330.8 523.3L323.9 522.6M323.9 507.2L324.6 506.6M324.1 325.4L329.8 326.5M324.1 257.4L324.2 257.4M324.6 500.3L324.2 499.8M326.1 491.9L324.2 499.8M324.2 257.5L324.2 257.4M324.2 257.4L324.4 250.8M324.3 302.2L331.7 301.3M324.4 250.8L327.8 249.2M324.5 285.3L324.6 285.2M324.6 506.6L324.6 500.3M324.6 500.3L332.6 499M331 286L324.6 285.2M324.6 285.2L325.1 277.5M332.4 508.7L324.6 506.6M325.1 277.5L324.7 277M324.7 277L325.2 271.2M326.8 404.4L324.9 404.4M325.5 426.7L324.9 420.3M324.9 420.3L327.7 418.8M325.1 277.5L331.3 279M327 262.9L325.1 261.3M325.1 261.3L325.7 258.2M325.8 483L325.2 482.3M325.2 482.3L326.3 476.6M325.2 271L326.7 269.9M328.5 415.9L325.3 411.4M325.3 411.4L328.2 406.9M328.8 428.8L325.5 426.7M326.1 491.9L325.7 491.6M325.7 491.6L325.8 483M332.5 484.9L325.8 483M329.5 182.1L326 179.7M326 179.7L326.2 172.1M329 214.8L326.1 212M326.1 212L326.4 204.3M332.6 492L326.1 491.9M326.2 172.1L328.2 169.7M326.3 160.1L327.2 156.1M326.8 399L326.3 398.7M326.3 476.6L327.3 475.8M326.4 204.3L329.3 203.2M333.2 270.6L326.7 269.9M326.7 269.9L327 262.9M328.2 406.9L326.8 404.4M326.8 404.4L327.6 400.9M327.3 468.2L326.8 467.8M326.8 467.8L327 458.9M327.6 400.9L326.8 399M326.8 399L328.7 395.9M327 458.9L328.1 458.3M327 364.5L327.9 364.6M327 262.9L333.7 260.9M333 476.3L327.3 475.8M327.3 475.8L327.3 468.2M327.3 468.2L335.4 467.3M328.2 169.7L327.4 162.9M328.6 450.1L327.4 442.4M327.4 442.4L328.2 441.8M328.9 231L327.5 222.6M327.5 222.6L329.1 221.1M336.1 399.5L327.6 400.9M331.8 421.5L327.7 418.8M327.7 418.8L328.5 415.9M328.8 356.8L327.7 355.7M327.7 355.7L327.9 349M327.8 365.6L327.9 364.6M332 250.6L327.8 249.2M327.8 249.2L328.8 241M327.9 364.6L328 364.5M327.9 395.6L328.5 393.5M327.9 349L327.9 348.9M327.9 348.9L329.7 341.2M335.9 350.1L327.9 349M334.6 365.1L328 364.5M328 364.5L328.8 356.8M328.6 393.4L328 386.4M328 386.4L329 385.1M334.1 459.4L328.1 458.3M328.1 458.3L328.8 450.4M338 171.5L328.2 169.7M336.9 443.8L328.2 441.8M328.2 441.8L329.1 436.1M328.2 406.9L332.1 407.8M329.3 378.8L328.4 377.9M328.4 377.9L329.2 371.6M328.5 429.9L328.8 428.8M328.5 415.9L333.5 413.8M328.5 393.5L328.6 393.4M328.6 393.4L330 393.5M328.8 450.4L328.6 450.1M328.8 241L328.6 240.7M328.6 240.7L331 232.3M333.3 194.5L328.6 190.6M328.6 190.6L329.5 182.1M328.8 356.8L335.7 356.3M328.8 428.8L332.2 427.5M338 242.9L328.8 241M328.8 450.4L336.1 449.7M331 232.3L328.9 231M330.6 316.7L329 310.4M329 310.4L331.8 308.1M334.9 385.8L329 385.1M329 385.1L329.3 378.8M329.1 221.1L329 214.8M329 214.8L337.5 213M337.9 223.2L329.1 221.1M329.1 436.1L331 434.5M335 136.6L329.3 132.8M329.3 132.8L329.6 129.9M337.5 206.7L329.3 203.2M329.3 203.2L333.3 194.5M329.3 378.8L330.9 378.5M329.5 182.1L335.1 181.3M329.7 341.2L330 341M329.7 536.3L329.8 532.4M330.6 333.5L329.8 326.5M329.8 326.5L330.9 325.5M329.8 532.4L330.2 532.1M334.9 373.5L329.9 372.7M335.6 342.5L330 341M330 341L330.7 333.6M330.9 325.5L330 317.4M330 317.4L330.6 316.7M338.5 532.3L330.2 532.1M330.2 532.1L331.8 524.3M330.7 333.6L330.6 333.5M330.6 316.7L336.8 316.4M330.7 333.6L336.6 333.7M331.8 524.3L330.8 523.3M330.8 523.3L332.2 515.7M337.6 324.5L330.9 325.5M331.6 293.3L331 286M331 286L332.2 284.7M331 232.3L337.4 231.2M337.6 436.4L331 434.5M331 434.5L331 430.7M331.7 301.3L331.2 293.8M331.2 293.8L331.6 293.3M332.2 284.7L331.3 279M331.3 279L334.4 276.3M331.6 293.3L338.6 292.6M332.8 302.5L331.7 301.3M332.2 515.7L331.7 514.8M331.7 514.8L332.4 508.7M331.8 524.3L338.6 524.5M332.2 427.5L331.8 421.5M331.8 421.5L335.3 419.2M337.5 311.9L331.8 308.1M331.8 308.1L332.8 302.5M332 258.1L332 250.6M332 250.6L337.2 249M332.9 395.6L332 392.8M333.5 413.8L332.1 407.8M332.1 407.8L335 406.1M332.7 427.6L332.2 427.5M339.2 284.8L332.2 284.7M338.7 517.3L332.2 515.7M332.4 508.7L333.1 508.2M332.6 492L332.5 484.9M332.5 484.9L334.9 482.8M333.1 508.2L332.6 499M332.6 499L333.1 498.4M333.6 492.9L332.6 492M332.7 427.6L339.2 427.9M333.1 430.3L332.7 427.6M332.7 381.1L334.1 381.2M332.8 302.5L338.9 302.3M334.9 482.8L333 476.3M333 476.3L334.9 474.5M339.9 507.7L333.1 508.2M341.1 501.3L333.1 498.4M333.1 498.4L333.6 492.9M334.4 276.3L333.2 270.6M333.2 270.6L333.8 270M333.3 194.5L338.9 193.4M336.3 415.4L333.5 413.8M333.6 492.9L340.6 491.9M334.9 262.2L333.7 260.9M333.7 260.9L333.7 258.9M333.8 270L334.9 262.2M340.7 269.9L333.8 270M334.6 381.8L334.1 381.2M334.1 381.2L334.9 373.5M335.4 467.3L334.1 459.4M334.1 459.4L336.1 457.8M339.7 278.2L334.4 276.3M334.5 384L334.6 381.8M335.8 166.7L334.5 164.1M334.6 381.8L338.6 381.7M335.6 372.7L334.6 365.1M334.6 365.1L335.3 364.5M336.1 399.5L334.8 396.3M338.2 391.7L334.8 390.7M334.8 169.2L335.8 166.7M334.9 474.5L341.7 476.6M334.9 474.5L335.5 467.4M334.9 373.5L335.6 372.7M340.5 483.2L334.9 482.8M334.9 262.2L341.5 263M341.2 409.2L335 406.1M335 406.1L336.4 399.7M339 184.9L335.1 181.3M335.1 181.3L338.9 172.5M339.6 424.2L335.3 419.2M335.3 419.2L336.3 415.4M335.7 356.3L335.3 364.5M335.3 364.5L343.2 364.4M335.5 467.4L335.4 467.3M342.9 467.5L335.5 467.4M335.9 350.1L335.6 342.5M337.9 341.2L335.6 342.5M343.3 372.7L335.6 372.7M335.7 356.3L336.3 355.7M344.6 166.1L335.8 166.7M336.6 350.9L335.9 350.1M337.6 452.3L336.1 449.7M336.1 449.7L337.2 444.2M336.4 399.7L336.1 399.5M336.1 457.8L343.6 460.8M336.1 457.8L337.6 452.3M343.3 358.2L336.3 355.7M336.3 355.7L336.6 350.9M336.3 415.4L341 414.1M336.4 399.7L339.8 399.5M337.9 341.2L336.6 333.7M336.6 333.7L337.3 333.3M336.6 350.9L343.1 348.9M337.7 317.6L336.8 316.4M336.8 316.4L337.5 311.9M337.2 444.2L336.9 443.8M336.9 443.8L337.6 436.4M337.1 395.8L338.2 391.7M345.3 444L337.2 444.2M341.3 253.7L337.2 249M337.2 249L338 242.9M337.3 333.3L344.3 333.6M337.3 333.3L337.8 324.7M339.6 233.2L337.4 231.2M337.4 231.2L337.9 223.2M337.5 311.9L340.8 309.2M337.5 213L337.5 206.7M337.5 206.7L341.2 204M338.9 214.6L337.5 213M339.2 386L337.5 384.8M337.6 436.4L339.2 435.2M337.8 324.7L337.6 324.5M337.6 324.5L337.7 317.6M345 452.5L337.6 452.3M337.7 317.6L345.6 317M343.7 325.8L337.8 324.7M337.9 223.2L338.5 222.5M342.9 341.7L337.9 341.2M338 242.9L339.4 241.5M338 536.8L339.5 533.6M338.2 391.7L340.5 389.8M349.8 222.7L338.5 222.5M338.5 222.5L338.9 214.6M339.5 533.6L338.5 532.3M338.5 532.3L339.3 525M338.9 172.5L338.6 171.8M339.6 293.5L338.6 292.6M338.6 292.6L339.7 285.4M339.3 525L338.6 524.5M338.6 524.5L338.7 517.3M339.2 435.2L338.7 431.3M338.7 517.3L340.5 516M338.9 214.6L348.5 213.7M341.2 204L338.9 193.4M338.9 193.4L339.1 193.3M342.5 173.7L338.9 172.5M340.8 309.2L338.9 302.3M338.9 302.3L339.6 301.7M339.1 193.3L339 184.9M339 184.9L347 182.3M339.1 193.3L349.3 193M340.5 389.8L339.2 386M339.2 386L345.3 381.8M340.5 429.2L339.2 427.9M339.2 427.9L339.6 424.2M339.7 285.4L339.2 284.8M339.2 284.8L339.7 278.2M339.2 435.2L345.8 435.6M339.3 525L340.1 525M346.8 243.4L339.4 241.5M339.4 241.5L339.6 233.2M339.6 533.6L339.5 533.6M339.6 301.7L339.6 293.5M347.3 301.1L339.6 301.7M339.6 293.5L346.7 293.5M342.2 420.6L339.6 424.2M339.6 233.2L347.1 232.1M339.6 258.8L341.3 253.7M339.7 278.2L340.4 277.7M346.2 285.9L339.7 285.4M341.9 400.2L339.8 399.5M339.8 399.5L340.3 396.6M340.8 508.6L339.9 507.7M339.9 507.7L341.1 501.3M340.2 534L344.8 532.9M340.4 277.7L340.8 270M340.4 277.7L347.9 277.3M342.4 390.5L340.5 389.8M340.9 483.6L340.5 483.2M340.5 483.2L341.7 476.6M340.7 516L340.5 516M340.5 516L340.8 508.6M340.5 430.9L340.5 429.2M340.5 429.2L344.6 428.3M342.5 498.6L340.6 491.9M340.6 491.9L340.7 491.8M340.8 270L340.7 269.9M340.7 269.9L341.8 263.3M340.7 491.8L340.9 483.6M340.7 491.8L343.3 491.6M346 310.6L340.8 309.2M340.8 523.4L344 523.2M348.8 271.6L340.8 270M340.8 508.6L341.5 508.6M340.9 483.6L344.1 483.8M340.9 134.3L341.1 133.9M342.2 420.6L341 414.1M341 414.1L342 413M341.1 501.3L342.3 500.1M342 413L341.2 409.2M341.2 409.2L341.7 408.3M347.4 204.8L341.2 204M341.3 253.7L345.3 252.5M345.8 515.3L341.5 514.5M341.8 263.3L341.5 263M341.5 263L342.1 259.6M341.7 408.3L341.9 400.2M348.5 404.8L341.7 408.3M341.7 476.6L344.2 474.4M347.5 264.1L341.8 263.3M341.9 400.2L347.6 399.2M346.1 413.5L342 413M342.2 507.3L345.7 507.6M348.6 421.8L342.2 420.6M344.9 393.2L342.4 390.5M348 384.6L342.4 390.5M344.2 474.4L342.9 467.5M342.9 467.5L343 467.4M343.7 342.7L342.9 341.7M342.9 341.7L344.6 334.2M343 467.4L343.6 460.8M346.4 467.1L343 467.4M343 379.7L344.5 374.1M343.8 349.5L343.1 348.9M343.1 348.9L343.7 342.7M343.6 364.9L343.2 364.4M343.2 364.4L343.3 358.2M344.5 374.1L343.3 372.7M343.3 372.7L343.6 364.9M345.1 497L343.3 496.9M343.3 358.2L344 357.6M343.6 460.8L344.4 459.9M350.8 364.6L343.6 364.9M351.9 342.6L343.7 342.7M345.3 327.9L343.7 325.8M343.7 325.8L346.9 318.7M343.8 349.5L351.1 350.9M344 357.6L343.8 349.5M350.2 356.7L344 357.6M345.7 531.8L344 523.2M344 523.2L345.6 521.5M345.3 474.8L344.2 474.4M344.6 334.2L344.3 333.6M344.3 333.6L345.3 327.9M347.3 460L344.4 459.9M344.4 459.9L345 452.5M344.5 374.1L349.3 374M352.8 336.1L344.6 334.2M346.7 486.8L344.6 486.2M345.3 174.3L344.6 166.1M344.6 166.1L346.2 163.3M349.2 430.3L344.6 428.3M344.6 428.3L348.6 421.8M347 182.3L344.7 174.7M345.2 535.9L344.8 532.9M344.8 532.9L345.7 531.8M345.8 395.6L344.9 393.2M344.9 393.2L349.6 388.2M345 452.5L345.3 452.3M347.7 504.9L345.1 497M345.1 497L347.2 494.6M352.2 327.3L345.3 327.9M349.9 253.9L345.3 252.5M345.3 252.5L346.8 243.4M345.3 452.3L348.2 452.8M345.3 452.3L345.9 444.7M345.9 444.7L345.3 444M345.3 444L346.7 436.8M346.2 163.3L345.3 160.8M345.5 396.3L345.8 395.6M346.9 318.7L345.6 317M345.6 317L346 310.6M355.8 523.8L345.6 521.5M345.6 521.5L345.9 515.6M345.7 531.8L346.2 531.9M345.8 515.3L345.7 507.6M345.7 507.6L347.7 504.9M345.9 515.6L345.8 515.3M345.8 476.7L347.4 475.9M348 384.6L345.8 382.1M346.7 436.8L345.8 435.6M345.8 435.6L346.8 431.9M349.6 395.2L345.8 395.6M349.3 445.1L345.9 444.7M353.9 174L345.9 174.5M345.9 515.6L355.4 513.7M346 310.6L346.8 310.1M349.1 421.5L346.1 413.5M346.1 413.5L348.1 412.6M347.4 475.9L346.2 473.3M347.5 287.5L346.2 285.9M346.2 285.9L348.6 278.7M354.9 164.3L346.2 163.3M346.6 470.4L350.9 465.9M350.3 437.2L346.7 436.8M347.2 494.6L346.7 486.8M346.7 486.8L348.2 485.5M347.9 295L346.7 293.5M346.7 293.5L347.5 287.5M353.6 311L346.8 310.1M346.8 310.1L348.1 301.9M346.8 243.4L348.1 242.9M346.9 318.7L353.5 319.7M348.5 183.1L347 182.3M349 233.8L347.1 232.1M347.1 232.1L350 223M356.6 494.8L347.2 494.6M348.1 301.9L347.3 301.1M347.3 301.1L347.9 295M349.8 477.4L347.4 475.9M348.5 213.7L347.4 204.8M347.4 204.8L348.4 204.1M347.5 287.5L355.3 287M348.8 271.6L347.5 264.1M347.5 264.1L349.9 262M348.5 404.8L347.6 399.2M347.6 399.2L347.6 399.2M355.5 402L347.6 399.2M347.6 399.2L348.2 397.3M347.7 504.9L355.7 505.6M350.9 465.9L347.8 460.8M348.6 278.7L347.9 277.3M347.9 277.3L349.3 272.2M348.2 397.3L347.9 397M347.9 295L355.1 293.9M348 459.8L348.5 458.7M349 385L348 384.6M354.6 302.8L348.1 301.9M352.8 414.5L348.1 412.6M348.1 412.6L350.5 407.2M348.1 242.9L354.1 244.6M348.1 242.9L349 233.8M358.5 487.5L348.2 485.5M348.2 485.5L349.8 477.4M348.2 397.3L348.4 397.1M348.5 458.7L348.2 457.6M358 206.2L348.4 204.1M348.4 204.1L351.3 194.6M349.3 193L348.5 183.1M348.5 183.1L356.4 180.4M349.5 214.7L348.5 213.7M357 456.9L348.5 458.7M350.5 407.2L348.5 404.8M348.6 421.8L349.1 421.5M348.6 278.7L355.8 281.6M349.3 272.2L348.8 271.6M349.6 388.2L349 385M349 385L352.6 383.8M349 233.8L356.3 234.9M351.2 421.8L349.1 421.5M349.2 532.2L352.5 532.7M349.5 431.6L349.2 430.3M349.2 430.3L352.8 427.1M351.3 194.6L349.3 193M355.1 271L349.3 272.2M351 375.4L349.3 374M349.3 374L352.3 366.8M349.4 449.2L349.7 448.8M349.8 222.7L349.5 214.7M349.5 214.7L357.9 212.4M349.7 448.8L349.6 447.3M350.8 389.7L349.6 388.2M352.5 396.2L349.6 395.2M349.6 395.2L350.8 389.7M349.7 448.8L356.2 451.4M350 223L349.8 222.7M349.9 262L349.8 260.3M349.8 477.4L353.1 476.7M350.3 259.8L349.9 253.9M349.9 253.9L355.2 251M356.9 264.3L349.9 262M355.7 224.2L350 223M350.2 442.4L351.8 440.8M352.3 359.4L350.2 356.7M350.2 356.7L351.1 350.9M350.5 407.2L353.4 407.2M353.7 379.2L350.6 376.9M352.3 366.8L350.8 364.6M350.8 364.6L352.3 359.4M350.8 389.7L357.1 390.8M351.8 440.8L350.9 437.1M350.9 465.9L356.8 467.6M351.1 350.9L352.5 349.8M352.8 427.1L351.2 421.8M351.2 421.8L352.7 420.6M351.3 194.6L357.9 194.1M356.6 441.1L351.8 440.8M352.6 343.6L351.9 342.6M351.9 342.6L352.8 336.1M353.6 335.4L352.2 327.3M352.2 327.3L353.1 326.2M352.3 359.4L359.2 358.6M352.3 396.7L352.5 396.2M356.6 367.6L352.3 366.8M352.5 396.2L354.8 395.9M359.3 351.8L352.5 349.8M352.5 349.8L352.6 343.6M354.2 535.1L352.5 532.7M352.5 532.7L356.2 524.3M352.6 343.6L360.9 343.3M357.3 386.5L352.6 383.8M352.6 383.8L353.7 379.2M359.6 423L352.7 420.6M352.7 420.6L354.3 416.8M354.3 416.8L352.8 414.5M352.8 414.5L355.9 408.9M352.8 427.1L356.7 428.7M352.8 336.1L353.6 335.4M357.3 480L353.1 476.7M353.1 476.7L357.4 468.8M361.5 328.5L353.1 326.2M353.1 326.2L353.5 319.7M355.9 408.9L353.4 407.2M353.4 407.2L355.5 402M353.5 319.7L354.5 318.9M358.6 335L353.6 335.4M355 312.7L353.6 311M353.6 311L355.3 303.4M353.7 379.2L355.8 378.3M357 176.8L353.9 174M353.9 174L355.2 164.8M354 537.6L354.2 535.1M355.2 251L354.1 244.6M354.1 244.6L356 242.5M354.2 535.1L359.4 534.2M354.3 416.8L360.5 415.3M360.7 320.1L354.5 318.9M354.5 318.9L355 312.7M355.6 371.5L354.6 371.6M355.3 303.4L354.6 302.8M354.6 302.8L355.6 294.4M355.2 164.8L354.9 164.3M354.9 164.3L358.1 157.2M355 312.7L361.6 310.9M356.4 272.2L355.1 271M355.1 271L357 264.4M355.1 293.9L355.6 294.4M355.1 293.9L355.3 287M357.2 252L355.2 251M355.2 164.8L364.4 168.4M355.3 303.4L361.8 303.6M355.3 287L355.7 286.6M359 400.1L355.4 396.7M356.8 515.3L355.4 513.7M355.4 513.7L355.7 505.6M355.5 402L359 400.1M355.6 294.4L361.6 295.3M356.2 377.9L355.6 371.5M355.6 371.5L356.4 370.9M355.6 431.9L356.7 428.7M363.5 288.4L355.7 286.6M355.7 286.6L355.8 281.6M357.9 226.1L355.7 224.2M355.7 224.2L360.9 214.8M355.7 505.6L357.2 504.6M356.2 524.3L355.8 523.8M355.8 523.8L356.8 515.3M355.8 281.6L358 279.6M359.6 384.3L355.8 378.3M355.8 378.3L356.2 377.9M355.9 408.9L360.7 409.5M358.1 157.2L355.9 155.2M364.4 244L356 242.5M356 242.5L357 235.7M356 393.8L357.1 390.8M356 179.3L357 176.8M357 456.9L356.2 451.4M356.2 451.4L359.6 448.1M356.2 377.9L362.6 377.1M356.5 524.4L356.2 524.3M357 235.7L356.3 234.9M356.3 234.9L357.9 226.1M362.1 373.3L356.4 370.9M356.4 370.9L356.9 368.3M358.8 183.4L356.4 180.4M356.4 180.4L356.5 180.2M358 279.6L356.4 272.2M356.4 272.2L365.2 271.8M357.2 504.6L356.6 494.8M356.6 494.8L357.3 494.1M359.6 448.1L356.6 441.1M356.6 441.1L360.3 438.4M356.7 428.7L360.4 427.5M357.4 468.8L356.8 467.6M356.8 467.6L359.8 459.3M356.8 515.3L365.3 514.7M357 264.4L356.9 264.3M356.9 264.3L357.2 261M364.8 235.7L357 235.7M359.8 459.3L357 456.9M363.8 264.5L357 264.4M363.6 176.3L357 176.8M357.1 390.8L357.4 390.5M364.5 505.7L357.2 504.6M362.2 525.5L357.2 524.8M358.5 260.5L357.2 252M357.2 252L363.5 250.9M357.4 390.5L357.3 386.5M359.6 384.3L357.3 386.5M357.3 494.1L368.8 497M357.3 494.1L358.5 487.5M358.9 486.9L357.3 480M357.3 480L366.4 475.2M357.4 468.8L365.9 472M361.4 391.4L357.4 390.5M357.5 367.3L363.3 366.8M366.5 226.1L357.9 226.1M360.1 195.5L357.9 194.1M357.9 194.1L358.8 183.4M360.9 214.8L357.9 212.4M357.9 212.4L358 206.2M364.5 279.5L358 279.6M358 206.2L359.7 204.3M363.6 156L358.1 157.2M358.9 486.9L358.5 487.5M361.5 342.6L358.6 335M358.6 335L361.5 332.3M358.8 183.4L363.6 183.4M366.4 485.9L358.9 486.9M360.3 400.2L359 400.1M359.3 358.7L359.2 358.6M359.2 358.6L359.3 351.8M359.3 351.8L361 350.5M365.8 448.5L359.6 448.1M360.4 427.5L359.6 423M359.6 423L361.6 419.1M360.2 433.2L359.6 432.7M362.5 383.1L359.6 384.3M368.1 206.9L359.7 204.3M359.7 204.3L360.1 195.5M365 458.4L359.8 459.3M360.1 195.5L367.9 194.6M360.3 438.4L360.2 433.2M360.2 433.2L361 432.8M362.2 406.3L360.3 400.2M360.3 400.2L361.6 398.7M366.1 440.6L360.3 438.4M360.4 535.5L361.6 535.9M362.3 428.5L360.4 427.5M361.6 419.1L360.5 415.3M360.5 415.3L361.7 412.6M360.5 358.9L362.5 359.2M361.7 412.6L360.7 409.5M360.7 409.5L362.2 406.3M361.7 328.1L360.7 320.1M360.7 320.1L361.9 319.4M361 350.5L360.9 343.3M360.9 343.3L361.5 342.6M360.9 214.8L366 215.5M364.7 350.9L361 350.5M363 394.1L361.4 391.4M361.4 391.4L362.7 390.4M361.5 332.3L361.5 328.5M361.5 328.5L361.7 328.1M361.5 342.6L366.4 341.8M367.1 334.9L361.5 332.3M363.1 297.5L361.6 295.3M361.6 295.3L363.6 288.6M369.6 399.4L361.6 398.7M361.6 398.7L362.1 394.6M363.9 313L361.6 310.9M361.6 310.9L361.8 303.6M361.6 419.1L368.1 421M361.7 536.1L361.6 535.9M361.6 535.9L363.3 533.9M367.8 326L361.7 328.1M369.4 413.8L361.7 412.6M361.8 303.6L362 303.4M368 321.1L361.9 319.4M361.9 319.4L363.9 313M368.9 305L362 303.4M362 303.4L363.1 297.5M362.6 377.1L362.1 373.3M362.1 373.3L363.3 371.7M362.2 406.3L367.1 405.6M362.2 432.2L362.3 428.5M362.4 525.7L362.2 525.5M362.2 525.5L362.5 524.6M362.3 428.5L366 427.7M363.3 533.9L362.4 525.7M372.1 525.4L362.4 525.7M365.1 386.6L362.5 383.1M362.5 383.1L364.2 379M362.5 359.2L362.6 365.1M363.5 358.2L362.5 359.2M364.2 379L362.6 377.1M369.2 391.8L362.7 390.4M362.7 390.4L365.1 386.6M363.5 358.2L363 354.7M363.1 297.5L369.3 296.2M363.2 524L364.5 523M363.2 260.9L364.7 260.2M363.3 533.9L369 532.7M363.3 371.7L363.3 366.8M369.1 371.5L363.3 371.7M363.3 366.8L364.1 365.8M363.6 288.6L363.5 288.4M363.5 288.4L364.5 279.5M369.6 358.2L363.5 358.2M366.3 252.9L363.5 250.9M363.5 250.9L364.4 244M364.3 156.5L363.6 156M363.6 156L364.6 149M363.6 288.6L369.9 289.4M366 182.4L363.6 176.3M363.6 176.3L365.3 173.7M365.5 271.4L363.8 264.5M363.8 264.5L364.3 263.9M363.9 313L368.5 312.7M368.5 368.6L364.1 365.8M364.1 365.8L364.1 365.7M364.2 379L366.1 378.9M364.3 156.5L365.2 156.5M364.5 157.3L364.3 156.5M367 264.2L364.3 263.9M364.3 263.9L364.8 261.7M365.3 173.7L364.4 168.4M364.4 168.4L366.4 165.2M364.4 244L366 242.5M364.5 279.5L365.1 279.1M370.6 524.6L364.5 523M364.5 523L365.5 514.9M365.3 514.7L364.5 505.7M364.5 505.7L365.7 504.8M366.2 261.2L364.7 260.2M364.7 260.2L366.4 256M366 242.5L364.8 235.7M364.8 235.7L366.8 233.3M365.2 458.6L365 458.4M365 458.4L366 448.7M370.7 280.7L365.1 279.1M365.1 279.1L365.2 271.8M365.1 386.6L369.6 387.7M366.4 165.2L365.2 160.3M370.6 351.7L365.2 351.2M365.2 271.8L365.5 271.4M365.2 458.6L372.8 459.4M366.8 470.8L365.2 458.6M365.3 183.6L366 182.4M365.5 514.9L365.3 514.7M374 173.3L365.3 173.7M365.5 514.9L373.8 515.4M365.5 271.4L368.4 271.1M374 507.8L365.7 504.8M365.7 504.8L368.8 497M366 448.7L365.8 448.5M365.8 448.5L366.1 440.6M366.4 475.2L365.9 472M365.9 472L366.8 470.8M366 242.5L367 242.7M366.5 216.1L366 215.5M366 215.5L366.1 214.9M375.3 449L366 448.7M366 182.4L374.9 185M368.8 429.3L366 427.7M366 427.7L368.1 421M366.1 440.6L369.9 438.3M371.5 385.6L366.1 378.9M366.1 378.9L367.9 377.7M367.4 486.7L366.4 485.9M366.4 485.9L366.7 475.7M373.9 164.3L366.4 165.2M366.7 475.7L366.4 475.2M366.9 225.6L366.5 216.1M366.5 216.1L374.1 215.7M366.8 233.3L366.5 226.1M366.5 226.1L366.9 225.6M375.9 478.2L366.7 475.7M374.2 467.1L366.8 470.8M369.5 234.2L366.8 233.3M371.1 225.6L366.9 225.6M371.1 408.7L367.1 405.6M367.1 405.6L369.6 399.6M367.2 338.3L371.1 337.8M370.5 345.5L367.4 344.9M369.1 496.8L367.4 486.7M367.4 486.7L375 485.2M367.5 209.5L368.1 206.9M371 197.6L367.9 194.6M367.9 194.6L369.4 189.6M373.6 380.4L367.9 377.7M367.9 377.7L371.1 373.1M367.9 331.4L370.7 331.4M368.1 421L369.2 420.2M368.1 206.9L369.8 205.6M368.3 394.3L369.2 391.8M369.7 324.6L368.5 324.5M369.1 371.5L368.5 368.6M368.5 368.6L370.2 366.4M368.8 497L369.1 496.8M369.6 432.6L368.8 429.3M368.8 429.3L375.2 426.9M371.1 317.6L368.8 317.4M373.4 536.6L369 532.7M369 532.7L372.5 525.8M373.6 496.8L369.1 496.8M371.1 373.1L369.1 371.5M369.2 391.8L369.5 391.3M369.2 310.2L371.3 310M369.2 420.2L374.9 423.1M369.2 420.2L370.1 414.9M370.1 414.9L369.4 413.8M369.4 413.8L371.1 408.7M369.5 304.2L371.5 304.5M369.5 365.3L369.7 365M374.6 392.8L369.5 391.3M369.5 391.3L369.6 387.7M369.6 399.6L369.6 399.4M369.6 399.4L371.6 395M369.6 387.7L371.5 385.6M369.8 358.5L369.6 358.2M369.6 358.2L370.7 351.9M369.6 399.6L373.9 403.3M371 331L369.7 324.6M369.7 324.6L371 323.2M375.8 365.4L369.7 365M369.7 365L369.8 358.5M377 359.2L369.8 358.5M369.9 438.3L369.8 433.2M369.9 296.7L370.8 296.7M377 441.9L369.9 438.3M377.9 415.5L370.1 414.9M370.4 194.3L375.3 185.5M371.6 289.9L370.5 289.6M370.6 351.7L370.5 345.5M370.5 345.5L371.3 344.7M370.7 351.9L370.6 351.7M377 352.1L370.7 351.9M371.1 337.8L370.7 331.4M370.7 331.4L371 331M372.4 303.4L370.8 296.7M370.8 296.7L371.3 296.1M378 324.6L371 323.2M371 323.2L371.1 317.6M377.7 329.9L371 331M371.1 317.6L371.5 317.2M371.1 408.7L373.5 407.5M373.1 282.9L371.1 282.9M371.1 373.1L374.2 372.8M371.7 338.3L371.1 337.8M371.2 196.4L374.6 196.2M377.7 345.5L371.3 344.7M371.3 344.7L371.7 338.3M371.3 296.1L371.6 289.9M371.3 296.1L378.1 296.1M372.3 311.1L371.3 310M371.3 310L371.5 304.5M371.5 304.5L372.4 303.4M377.9 318.3L371.5 317.2M371.5 317.2L372.3 311.1M373.6 385L371.5 385.6M371.6 289.9L372.4 289.3M371.7 202.2L371.6 199.4M371.7 338.3L378 338.2M372.1 525.4L372.1 525.3M372.5 525.8L372.1 525.4M372.3 311.1L378.2 310.9M378.7 290.2L372.4 289.3M372.4 289.3L373.1 282.9M372.5 200.3L372.4 199.9M378.9 303L372.4 303.4M372.5 525.8L378.8 526.6M374.2 467.1L372.8 459.4M372.8 459.4L375.1 457.4M373.1 524.8L373.8 515.4M373.1 282.9L373.5 282.5M373.5 282.5L373.2 279.4M373.3 536.8L373.4 536.6M379.1 535.5L373.4 536.6M376.2 408.6L373.5 407.5M373.5 407.5L373.9 403.3M379.6 283.1L373.5 282.5M373.7 162.5L373.6 162.1M374.4 385.2L373.6 385M373.6 385L373.6 380.4M376.1 506L373.6 496.8M373.6 496.8L374.6 496.4M373.6 380.4L375.5 377.5M373.9 164.3L373.8 163.5M373.8 515.4L374.5 515M375.3 165.5L373.9 164.3M373.9 403.3L377.6 401.3M376.3 175.4L374 173.3M374 173.3L375.3 165.5M374.5 515L374 507.8M374 507.8L376.1 506M381.5 523.7L374.1 524.9M376.8 468.4L374.2 467.1M375.7 374.3L374.2 372.8M374.2 372.8L375.8 367.4M377 389.8L374.4 385.2M374.4 385.2L379.3 383.2M382.2 515.6L374.5 515M375.8 367.4L374.5 366.9M375 394.5L374.6 392.8M374.6 392.8L377 389.8M384.6 500.9L374.6 496.4M374.6 496.4L378.2 490.3M375.3 185.5L374.9 185M374.9 185L376.3 175.4M375.2 426.9L374.9 423.1M374.9 423.1L377.2 420.9M377 208L375 206.5M378.2 490.3L375 485.2M375 485.2L377.3 479.7M375.1 457.4L383.4 460.8M375.1 457.4L376.3 451M377.2 428.7L375.2 426.9M380.8 187.2L375.3 185.5M376.3 451L375.3 449M375.3 449L377.3 442.4M377.2 396.4L375.4 395.1M379.7 381.4L375.5 377.5M375.5 377.5L375.7 374.3M381.7 374.7L375.7 374.3M375.8 367.4L376.2 367M377.3 479.7L375.9 478.2M375.9 478.2L376.8 468.4M383.8 505.5L376.1 506M376.1 365.1L377 359.2M378.2 415.2L376.2 408.6M376.2 408.6L381.5 406.1M381.3 367.5L376.2 367M376.2 367L376.2 365.8M376.3 432.9L377.2 428.7M384.1 174.2L376.3 175.4M386.4 452.4L376.3 451M376.8 468.4L383.7 467.6M380.3 390.5L377 389.8M377.3 442.4L377 441.9M377 441.9L378.4 433.6M377 359.2L377.3 359M377 208L377 208M377 208L377 208M377.2 352.3L377 352.1M377 352.1L377.7 345.5M377.2 428.7L380.5 428.6M377.2 420.9L384 423M377.2 420.9L377.9 415.5M377.6 401.3L377.2 396.4M377.2 396.4L383.1 395.4M377.2 352.3L383.5 352.3M377.3 359L377.2 352.3M383.3 359.7L377.3 359M377.3 479.7L383.6 479.1M377.3 442.4L386 441.6M381.2 403.6L377.6 401.3M377.7 345.5L377.8 345.4M378.6 330.9L377.7 329.9M377.7 329.9L378.3 325M383.9 345.7L377.8 345.4M377.8 345.4L378 338.2M377.9 415.5L378.2 415.2M378 324.6L377.9 318.3M379.6 316.8L377.9 318.3M378.3 325L378 324.6M378 338.2L378.3 338M379.1 297.4L378.1 296.1M378.1 296.1L378.7 290.2M378.2 490.3L383.6 490.2M379.6 316.8L378.2 310.9M378.2 310.9L378.9 310.2M379.2 415L378.2 415.2M378.3 325L384.9 323.7M384.1 338.9L378.3 338M378.3 338L378.6 330.9M378.6 330.9L385.1 331.2M378.7 290.2L378.9 290.1M379.2 527L378.8 526.6M378.8 526.6L378.8 525.8M385.8 310.9L378.9 310.2M378.9 310.2L379.4 303.4M379.4 303.4L378.9 303M378.9 303L379.1 297.4M385.8 290.9L378.9 290.1M378.9 290.1L379.6 283.1M379.1 297.4L386.1 295.8M379.4 538L379.1 535.5M379.1 535.5L379.1 535.4M389.9 536.2L379.1 535.4M379.1 535.4L379.2 527M379.2 527L385.2 526.3M383.4 416.5L379.2 415M379.2 415L383.8 408.2M379.5 383.4L379.3 383.2M379.3 383.2L379.7 381.4M379.4 303.4L385.7 303.8M379.5 383.4L385.4 384.7M381.3 389.8L379.5 383.4M379.6 283.1L379.8 283M385.3 317.6L379.6 316.8M379.7 381.4L382.6 378.2M379.7 280.1L379.8 283M379.8 283L385.5 283.1M380.3 394.7L380.3 390.5M380.3 390.5L381.3 389.8M383.5 431.5L380.5 428.6M380.5 428.6L384 423M381.8 198L381 197.6M381.5 406.1L381.2 403.6M381.2 403.6L384 400.6M382.4 368.2L381.3 367.5M381.3 367.5L381.7 363.6M381.3 389.8L386.5 388.9M383.8 408.2L381.5 406.1M382.5 525.5L381.5 523.7M381.5 523.7L383.4 517.6M381.7 200.8L381.8 198M382.6 378.2L381.7 374.7M381.7 374.7L382.2 374.1M381.8 198L383.9 197.7M383.4 517.6L382.2 515.6M382.2 515.6L385 508M382.2 374.1L382.4 368.2M385.5 373.7L382.2 374.1M382.4 368.2L386.7 366.9M386.4 380.2L382.6 378.2M383.6 361.7L383.3 359.7M383.3 359.7L383.6 359.3M384.9 464.1L383.4 460.8M383.4 460.8L386.4 452.4M391 519.3L383.4 517.6M384.9 422.6L383.4 416.5M383.4 416.5L388.9 413M383.6 359.3L383.5 352.3M383.5 352.3L383.8 352.1M383.8 433.3L383.5 431.5M383.5 431.5L389.1 427.7M386.4 499L383.6 490.2M383.6 490.2L385.4 488.2M385.4 488.2L383.6 479.1M383.6 479.1L384.9 478M388.9 358.6L383.6 359.3M385.1 470L383.7 467.6M383.7 467.6L384.9 464.1M383.8 408.2L388.1 409.2M384.4 395.7L383.8 395.4M383.8 352.1L390.5 352.5M383.8 352.1L383.9 345.7M385 508L383.8 505.5M383.8 505.5L384.6 500.9M383.9 345.7L385 344.5M384 423L384.9 422.6M390.2 403.7L384 400.6M384 400.6L384.4 395.7M386.9 176.7L384.1 174.2M384.1 174.2L384.2 170.7M384.1 185.8L386.9 176.7M385 344.5L384.1 338.9M384.1 338.9L385.1 338M384.5 186.5L384.3 186.4M384.4 395.7L385.1 395.5M386.1 361.5L384.5 361.8M384.6 500.9L386.4 499M384.9 464.1L393.2 461.5M388.1 423.3L384.9 422.6M393.4 479.4L384.9 478M384.9 478L385.1 470M385.7 324.5L384.9 323.7M384.9 323.7L385.3 317.6M385 508L392 509.4M391 345.6L385 344.5M385.1 470L395.6 470.7M385.8 331.9L385.1 331.2M385.1 331.2L385.7 324.5M391.8 338.6L385.1 338M385.1 338L385.8 331.9M385.3 317.6L385.7 317.3M385.4 488.2L393.6 488.3M386.8 387.9L385.4 384.7M385.4 384.7L386.4 380.2M386.3 284.1L385.5 283.1M385.5 283.1L386.6 278.3M389.9 378.7L385.5 373.7M385.5 373.7L388.3 371.3M386 304.1L385.7 303.8M385.7 303.8L387 296.8M391.3 325.1L385.7 324.5M391.3 317.5L385.7 317.3M385.7 317.3L385.9 311M386.1 295.8L385.8 290.9M385.8 290.9L386.2 290.4M385.8 331.9L391.6 331.5M385.9 311L385.8 310.9M385.8 310.9L386 304.1M385.9 311L392 310.5M387.2 443L386 441.6M386 441.6L387.6 435.2M386 304.1L392.3 304.6M387 296.8L386.1 295.8M386.8 366.7L386.1 361.5M386.1 361.5L386.7 360.3M386.2 290.4L386.3 284.1M393.2 290.2L386.2 290.4M386.3 284.1L392.7 283.9M386.4 380.2L389.9 378.7M393.8 497.7L386.4 499M386.4 452.4L388.2 451.4M387.5 390.9L386.5 388.9M386.5 388.9L386.8 387.9M387.6 435.2L386.7 434M388.3 371.3L386.7 366.9M386.7 366.9L386.8 366.7M386.7 360.3L386.7 360.3M391.2 360.7L386.7 360.3M386.8 387.9L392.6 384.8M386.8 366.7L393.6 365.8M386.9 176.7L393.2 176.3M387 296.8L391.9 297.1M387 395L387.5 390.9M388.2 451.4L387.2 443M387.2 443L397 442.5M394.1 391.7L387.5 390.9M387.6 435.2L391.1 434.2M389.1 427.7L388.1 423.3M388.1 423.3L390.6 421.3M388.9 413L388.1 409.2M388.1 409.2L389 408.1M393.6 453.6L388.2 451.4M388.3 371.3L393.5 373.7M391.3 533.3L388.6 526.6M392.2 272.5L388.8 272.4M391.3 415.2L388.9 413M396.3 408.6L389 408.1M389 408.1L390.2 403.7M391.8 430.1L389.1 427.7M392.7 239L389.6 238.9M389.7 526L393.4 525.7M389.7 395.7L390.3 403.6M390.3 358.4L389.8 358.4M390.9 378.6L389.9 378.7M389.9 433.6L391.8 430.1M391 543.1L389.9 536.2M389.9 536.2L391.3 533.3M390.1 230.7L392.8 230.7M390.2 403.7L390.3 403.6M391.4 359.7L390.3 358.4M390.3 358.4L390.5 352.5M390.3 403.6L395 402.5M390.5 352.5L391 352.1M396.7 423.1L390.6 421.3M390.6 421.3L391.3 415.2M390.8 543.4L391 543.1M392.6 384.8L390.9 378.6M390.9 378.6L391.6 377.9M397.1 353L391 352.1M391 352.1L391.3 345.9M393.4 525.7L391 519.3M391 519.3L392.9 516.7M391.3 345.9L391 345.6M391 345.6L391.8 338.6M391 543.1L400.6 542.8M391.3 415.2L393.6 414.8M391.3 345.9L397.8 345.3M397.5 532.4L391.3 533.3M391.6 331.5L391.3 325.1M391.3 325.1L392.2 324.3M391.8 317.9L391.3 317.5M391.3 317.5L392.9 311.5M391.4 360L391.4 359.7M391.4 359.7L394.7 359.1M392.8 332.4L391.6 331.5M398.3 381.2L391.6 377.9M391.6 377.9L393.5 373.7M391.8 338.6L392.1 338.3M394 430.1L391.8 430.1M392.2 324.3L391.8 317.9M391.8 317.9L398.2 317.9M393 298.1L391.9 297.1M391.9 297.1L393.6 290.6M392.9 311.5L392 310.5M392 310.5L392.4 304.7M392.9 516.7L392 509.4M392 509.4L395.3 507.3M398.3 339.7L392.1 338.3M392.1 338.3L392.8 332.4M392.4 278.1L392.2 272.5M392.2 272.5L392.2 272.4M392.9 222.7L392.2 222.7M392.4 247.4L392.2 247.4M392.2 272.4L392.2 264.8M392.2 272.4L400.3 272M398.7 324.8L392.2 324.3M392.4 304.7L392.3 304.6M392.3 304.6L393 298.1M398.6 305.1L392.4 304.7M392.8 247.8L392.4 247.4M392.4 247.4L392.8 239.1M400.6 264.2L392.5 264M396 386.3L392.6 384.8M393.2 283.4L392.6 278.7M392.8 239.1L392.7 239M392.7 239L392.9 230.7M392.7 249.1L392.8 247.8M393.2 290.2L392.7 283.9M392.7 283.9L393.2 283.4M400.7 239.3L392.8 239.1M392.9 230.7L392.8 230.7M392.8 230.7L392.9 222.7M392.8 247.8L400.6 247.5M392.8 332.4L397.7 331.5M398.6 311.7L392.9 311.5M400.9 231L392.9 230.7M392.9 222.7L392.9 222.7M401.1 222.8L392.9 222.7M392.9 222.7L393 221.1M401.8 515.5L392.9 516.7M393 298.1L399.1 297.9M396.4 470L393.2 461.5M393.2 461.5L394.5 459.1M393.6 290.6L393.2 290.2M395.5 177.5L393.2 176.3M393.2 176.3L393.3 169.6M399 283.3L393.2 283.4M393.7 526.1L393.4 525.7M394.3 480.6L393.4 479.4M393.4 479.4L395.6 470.7M393.5 373.7L393.6 373.6M397.7 374.6L393.6 373.6M393.6 373.6L394.9 367.6M393.8 488.6L393.6 488.3M393.6 488.3L394.3 480.6M394.9 367.6L393.6 365.8M393.6 365.8L393.8 362.6M393.8 453.8L393.6 453.6M393.6 453.6L398.1 443.4M397.5 416.3L393.6 414.8M393.6 414.8L397 409.1M393.6 290.6L398.7 291M393.6 526.3L393.7 526.1M393.7 526.1L402.2 524.9M394.6 498.3L393.8 497.7M393.8 497.7L393.8 488.6M394.5 459.1L393.8 453.8M401.3 452.7L393.8 453.8M404.2 489L393.8 488.6M400.7 256.1L393.9 255.9M393.9 395.2L394.4 392.2M396.3 431.8L394 430.1M394 430.1L396.7 423.1M394.4 392.2L394.1 391.7M394.1 391.7L396 386.3M394.1 184.4L395.5 177.5M394.3 480.6L404.5 480.1M398.3 393.1L394.4 392.2M402.4 461.1L394.5 459.1M395.3 507.3L394.6 498.3M394.6 498.3L400.8 498.1M394.6 214.5L401.1 214.2M394.9 367.6L399.4 367.3M395.3 402.6L395 402.5M395 402.5L395 395.9M396.3 408.6L395.3 402.6M395.3 402.6L401.6 402.5M400.8 509.2L395.3 507.3M395.5 177.5L403.7 176.9M395.6 470.7L396.4 470M396 386.3L398.5 385.5M397 442.5L396.1 434.5M396.5 433.9L396.3 431.8M396.3 431.8L400.6 430.1M397 409.1L396.3 408.6M401.6 469.9L396.4 470M396.7 423.1L397.8 422.7M401.1 409.4L397 409.1M398.1 443.4L397 442.5M397.6 357L397.1 353M397.1 353L397.9 352.3M397.3 361.4L400.4 361.3M400.8 534.4L397.5 532.4M397.5 532.4L398.6 527.3M397.8 422.7L397.5 416.3M397.5 416.3L401.7 414.2M398.8 332.4L397.7 331.5M397.7 331.5L398.7 324.8M400 378.3L397.7 374.6M397.7 374.6L400.8 372.3M397.9 352.3L397.8 345.3M397.8 345.3L398.6 344.5M402.5 424.1L397.8 422.7M397.9 352.3L402.8 352.1M398.1 443.4L399.9 443.7M398.9 318.7L398.2 317.9M398.2 317.9L398.6 311.7M398.6 344.5L398.3 339.7M398.3 339.7L399.5 338.3M399 395.5L398.3 393.1M398.3 393.1L399.1 392.3M398.5 385.5L398.3 381.2M398.3 381.2L400 378.3M399.4 385.9L398.5 385.5M398.6 311.7L399.6 310.7M404.6 345.9L398.6 344.5M399.6 310.7L398.6 305.1M398.6 305.1L399 304.7M398.7 324.8L399.1 324.3M399.1 297.9L398.7 291M398.7 291L399.6 290.2M400.8 551.4L398.7 551.3M399.5 338.3L398.8 332.4M398.8 332.4L405.6 331.7M399.1 324.3L398.9 318.7M398.9 318.7L406.1 317.2M399.9 284.3L399 283.3M399 283.3L399.6 279.1M399 304.7L399.4 298.2M406.3 304.2L399 304.7M399.4 298.2L399.1 297.9M405.5 392.5L399.1 392.3M399.1 392.3L399.4 385.9M405.4 325.3L399.1 324.3M399.3 436.5L400.6 436.3M399.4 385.9L402.2 386.2M400.8 372.3L399.4 367.3M399.4 367.3L400.5 366.5M399.4 298.2L406.4 297.8M405.3 338.4L399.5 338.3M406 291.3L399.6 290.2M399.6 290.2L399.9 284.3M405.2 311.5L399.6 310.7M400.8 360.9L399.8 358M399.9 284.3L406.7 283.8M400 440.6L401 440.2M403.7 378.1L400 378.3M400.6 436.3L400.1 434.6M402.6 397.1L400.2 396.2M400.6 272.3L400.3 272M400.3 272L400.6 264.2M400.5 366.5L400.4 361.3M400.4 361.3L400.8 360.9M403.7 367L400.5 366.5M403.1 434L400.6 430.1M400.6 430.1L403 426.1M400.6 278.6L400.6 272.3M400.6 264.2L400.7 264.2M401.2 543.3L400.6 542.8M400.6 542.8L400.8 534.4M408.8 272.5L400.6 272.3M401.6 437L400.6 436.3M400.8 247.7L400.6 247.5M400.6 247.5L400.7 239.3M408.8 264.5L400.7 264.2M400.7 264.2L400.8 256.2M400.8 256.2L400.7 256.1M400.7 256.1L400.8 247.7M400.7 239.3L400.8 239.2M401.8 515.5L400.8 509.2M400.8 509.2L402.1 508M400.8 534.4L406.8 532.2M400.8 256.2L409.1 256M402.8 500L400.8 498.1M400.8 498.1L404.7 489.9M400.8 372.3L404.2 372.7M401.7 552.6L400.8 551.4M400.8 551.4L401.2 543.3M409.1 239.4L400.8 239.2M400.8 239.2L400.9 231M400.8 247.7L408.9 247.8M400.8 360.9L403.4 360.4M401.3 206.1L400.9 206.1M400.9 231L401.2 230.8M402 444.1L401 440.2M401 440.2L401.6 437M401.1 446.7L402 444.1M401.2 214.4L401.1 214.2M401.1 214.2L401.3 206.1M406.1 449.7L401.1 446.9M401.7 414.2L401.1 409.4M401.1 409.4L403.4 406.3M401.2 230.8L401.1 222.8M401.1 222.8L401.3 222.6M401.2 230.8L409.4 231M407.8 543.2L401.2 543.3M401.2 214.4L409.5 214.5M401.3 222.6L401.2 214.4M401.3 206.1L401.3 206.1M401.3 206.1L401.3 205.9M405.1 206.1L401.3 206.1M401.3 554.5L401.7 552.6M409.3 222.7L401.3 222.6M401.5 355.6L405.6 355.1M401.6 437L404 436.5M404.5 480.1L401.6 469.9M401.6 469.9L402.6 469M403.4 405.9L401.6 402.5M401.6 402.5L402.6 397.1M401.7 552.6L408.8 552M402.9 415.2L401.7 414.2M402.6 516.4L401.8 515.5M407.9 443.7L402 444.1M402.1 508L402.8 500M405.5 507.6L402.1 508M402.3 525L402.2 524.9M402.2 524.9L402.6 516.4M405.6 392.4L402.2 386.2M402.2 386.2L404.1 384.6M408.2 525.9L402.3 525M402.3 527L402.3 525M403 426.1L402.5 424.1M402.5 424.1L404 422.2M402.6 454.2L404.8 454.1M403.4 469L402.6 469M402.6 469L402.9 465.1M403.7 396.4L402.6 397.1M402.6 516.4L406.9 515.7M407.7 500.3L402.8 500M404.4 167.4L402.9 166.9M404 422.2L402.9 415.2M402.9 415.2L410.1 414.1M403 426.1L409 430M410.6 411L403.4 406.3M403.4 406.3L403.4 405.9M403.4 405.9L411.4 401.8M403.4 360.4L406.2 363M403.4 360.4L405.9 355.9M404.8 178L403.7 176.9M403.7 176.9L404.5 167.6M406 369.9L403.7 367M403.7 367L406.2 363M404.1 384.6L403.7 378.1M403.7 378.1L405.3 377M403.8 460.5L405.2 460.4M409 421L404 422.2M408.4 442.3L404 436.5M404 436.5L404.7 436M408.2 384L404.1 384.6M405.4 376.5L404.2 372.7M404.2 372.7L406 369.9M404.7 489.9L404.2 489M404.2 489L405.2 483.2M404.3 395.8L405.5 392.5M404.5 167.6L404.4 167.4M404.4 167.4L404.5 166.9M404.8 480.3L404.5 480.1M404.5 181.8L404.8 178M404.5 167.6L415.8 167M404.6 349.7L404.6 345.9M404.6 345.9L405.2 345.4M412.7 436.7L404.7 436M404.7 436L405.2 434.6M404.7 489.9L408.9 491.7M414.6 178.8L404.8 178M406.6 455.9L404.8 454.1M404.8 454.1L406.1 449.7M405.4 467.8L405 467.7M405.3 350.2L405 350.2M406.5 461.8L405.2 460.4M405.2 460.4L406.6 455.9M405.5 311.8L405.2 311.5M405.2 311.5L406.6 304.7M411.2 346.2L405.2 345.4M405.2 345.4L406.3 339.5M409.7 380.8L405.3 377M405.3 377L405.4 376.5M405.6 350.7L405.3 350.2M405.3 350.2L405.4 350M406.3 339.5L405.3 338.4M405.3 338.4L405.9 332M405.4 376.5L411 374.2M405.8 325.6L405.4 325.3M405.4 325.3L406.7 317.8M405.8 471.1L405.4 467.8M405.4 467.8L407.4 465.5M405.5 392.5L405.6 392.4M406.1 317.2L405.5 311.8M405.5 311.8L412.3 310.9M412.6 351.9L405.6 350.7M405.6 355.1L405.6 350.7M405.9 355.9L405.6 355.1M405.6 471.2L405.8 471.1M408.2 392L405.6 392.4M405.9 332L405.6 331.7M405.6 331.7L405.8 325.6M412.2 325.3L405.8 325.6M408.7 473.4L405.8 471.1M411.8 358.5L405.9 355.9M412.5 332.8L405.9 332M410.5 369.2L406 369.9M406.4 291.7L406 291.3M406 291.3L406.8 283.8M406.1 449.7L409.9 448.2M406.1 506.3L406.3 505.8M406.7 317.8L406.1 317.2M406.8 532.2L406.1 527.9M406.2 363L411.2 363.2M406.3 505.8L406.3 505.8M406.3 505.8L412.1 506.8M406.6 304.7L406.3 304.2M406.3 304.2L406.4 297.8M406.3 339.5L412.3 339M406.5 297.8L406.4 291.7M406.4 291.7L413.6 290.3M406.4 297.8L406.5 297.8M406.7 283.8L406.5 279.6M413.4 298.3L406.5 297.8M407.4 465.5L406.5 461.8M406.5 461.8L413 459.1M406.6 455.9L411.5 455.5M412.9 305.6L406.6 304.7M412.2 318.3L406.7 317.8M406.8 283.8L406.7 283.8M406.8 283.8L412.8 284.5M409.6 533.8L406.8 532.2M407 479.4L407.3 479.4M407.1 513L412.8 510.3M407.7 479.8L407.3 479.4M407.3 479.4L408.7 473.4M411.7 465.7L407.4 465.5M407.5 481.6L407.7 479.8M407.6 434L409 430M408.1 518.1L407.6 517M411.9 481.1L407.7 479.8M407.8 518.4L408.1 518.1M408.8 552L407.8 543.2M407.8 543.2L410.2 541.5M409.9 448.2L407.9 443.7M407.9 443.7L408.4 442.3M413 518.3L408.1 518.1M411 387.8L408.2 384M408.2 384L409.7 380.8M412 395L408.2 392M408.2 392L411 387.8M408.4 442.3L412.7 439.7M413.3 501.1L408.4 499.5M408.7 473.4L412.2 472.6M408.7 279.1L408.8 272.5M408.7 488L411.8 486.8M409.5 206.1L408.8 206.1M408.8 272.5L408.8 272.5M408.8 272.5L408.8 264.5M409.2 264L408.8 264.5M408.8 272.5L417 272.5M408.8 552L410.9 553.6M408.8 526.1L412 525.2M409.1 255.9L408.9 247.8M408.9 247.8L409.2 247.5M411.8 423.1L409 421M409 421L410.4 414.5M409 430L411 429.2M409.2 264L409.1 256M409.1 256L409.1 255.9M417.3 255.8L409.1 255.9M409.2 239.4L409.1 239.4M409.1 239.4L409.4 231M409.2 247.5L409.2 239.4M409.2 239.4L417.6 239.4M417.5 247.8L409.2 247.5M417.2 264.4L409.2 264M409.4 222.9L409.3 222.7M409.3 222.7L409.5 214.5M409.4 231L409.5 230.9M409.5 230.9L409.4 222.9M409.4 222.9L417.7 222.6M409.5 214.5L409.5 214.5M409.5 214.5L409.5 206.1M409.5 494L413 494.3M417.7 214.6L409.5 214.5M417.5 231L409.5 230.9M409.5 206.1L409.6 206.1M410.1 396.9L409.5 396.8M417.8 206.3L409.6 206.1M409.6 206.1L409.6 202.8M410.2 541.5L409.6 533.8M409.6 533.8L412.8 532.4M409.7 380.8L413 379.6M412.1 449L409.9 448.2M411.4 401.8L410.1 396.9M410.1 396.9L410.2 396.8M410.4 414.5L410.1 414.1M410.1 414.1L410.6 411M410.2 555.7L410.9 553.6M414.5 542.7L410.2 541.5M410.4 414.5L415.9 417M410.4 530.6L413.5 530.2M411 374.2L410.5 369.2M410.5 369.2L411.3 368.3M413.4 408.5L410.6 411M410.9 553.6L414.4 552.9M411 387.8L415.4 387.2M413 379.6L411 374.2M411 374.2L411 374.2M411 374.2L416.6 373.8M414.8 430.5L411 429.2M411 429.2L411.8 423.1M411.1 396.3L412 395M411.3 368.3L411.2 363.2M411.2 363.2L412.6 361.2M411.3 368.3L415.9 369.6M411.8 402.1L411.4 401.8M413 459.1L411.5 455.5M411.5 455.5L412.2 453.8M413.1 469.1L411.7 465.7M411.7 465.7L415.2 461.2M412.6 361.2L411.8 358.5M411.8 358.5L413.5 354.7M413.4 408.5L411.8 402.1M411.8 402.1L418.2 401.2M414.7 488.2L411.8 486.8M411.8 486.8L411.9 481.1M411.8 423.1L416.3 421.6M411.9 481.1L413.7 480.5M412.2 395.1L412 395M414.4 528.9L412 525.2M412 525.2L413.8 522.5M412.8 510.3L412.1 506.8M412.1 506.8L412.2 506.7M412.2 453.8L412.1 449M412.1 449L412.8 448.6M414 349.1L412.1 346.3M412.2 506.7L413.3 501.1M420 505.5L412.2 506.7M418.7 454.3L412.2 453.8M415.6 474.9L412.2 472.6M412.2 472.6L413.1 469.1M413 324.7L412.2 318.3M412.2 318.3L412.8 317.8M412.6 332.7L412.2 325.3M412.2 325.3L413 324.7M414 396.4L412.2 395.1M412.2 395.1L417 389M412.6 344.7L412.3 339M412.3 339L412.5 338.8M414 312.9L412.3 310.9M412.3 310.9L412.9 305.6M412.5 338.8L412.5 332.8M412.5 332.8L412.6 332.7M412.5 338.8L415.3 339M415.3 361.5L412.6 361.2M415.4 332.3L412.6 332.7M413.5 354.7L412.6 351.9M412.6 351.9L414 349.1M412.7 439.7L412.7 436.7M412.7 436.7L413.3 435.8M414.1 441.4L412.7 439.7M413.3 435.8L412.7 434.6M412.8 448.6L414.1 441.4M412.8 448.6L419.3 448.3M413.3 510.9L412.8 510.3M415.6 318.4L412.8 317.8M412.8 317.8L414 312.9M413.6 290.3L412.8 284.5M412.8 284.5L413 284.3M412.9 305.6L414.1 304.6M415.5 324.9L413 324.7M413 284.3L413.4 280M416 284L413 284.3M415.2 461.2L413 459.1M413.8 522.5L413 518.3M413 518.3L413 518.3M413 518.3L413.3 510.9M420.8 516.8L413 518.3M414.4 500L413 494.3M413 494.3L414 493.5M414.5 380.1L413 379.6M413.1 469.1L418.9 467.9M413.3 510.9L419 511.6M417.2 434.6L413.3 435.8M413.3 501.1L414.4 500M417.8 198.1L413.3 198M416.8 408.9L413.4 408.5M414.1 304.6L413.4 298.3M413.4 298.3L414.3 297.4M413.5 354.7L419.2 354.3M413.7 531.9L413.5 530.2M413.5 530.2L414.4 528.9M413.9 290.6L413.6 290.3M418.4 483L413.7 480.5M413.7 480.5L415.6 474.9M419.5 524.6L413.8 522.5M414.3 297.4L413.9 290.6M413.9 290.6L415.9 290.5M414 312.9L415.7 312.7M418.1 494L414 493.5M414 493.5L414.7 488.2M414 349.1L416.9 348.6M414.1 343.1L417.2 345.1M415.8 304.9L414.1 304.6M414.1 441.4L419.8 442.4M415.8 297.4L414.3 297.4M419.6 500.1L414.4 500M414.4 528.9L418 529M415.6 543.9L414.5 542.7M414.5 542.7L419.8 534.5M415.4 387.2L414.5 380.1M414.5 380.1L416.4 379.1M414.7 178.8L414.6 178.8M414.6 178.8L416.5 171.6M414.6 434L414.8 430.5M415.5 183.2L414.7 178.8M414.7 178.8L424.9 178.6M414.7 488.2L418.3 486.7M414.8 430.5L418.6 429.3M415.2 461.2L417.7 461.3M417.4 362.6L415.3 361.5M415.3 361.5L420.4 355.2M416.8 388.1L415.4 387.2M418.2 189.8L415.4 189.7M416 551.5L415.6 543.9M415.6 543.9L425 543.5M415.6 474.9L417.1 474.7M416.6 373.8L415.9 369.6M415.9 369.6L419.6 367.6M416.9 418L415.9 417M415.9 417L417.8 409.3M420.7 333.8L416 333M421 325.3L416.1 325.5M416.2 317.7L421.7 317.3M418.6 429.3L416.3 421.6M416.3 421.6L417.2 420.3M421.4 309.6L416.3 310.1M416.4 301.7L420.4 302M422.9 382L416.4 379.1M416.4 379.1L417.8 375.2M421.4 294.4L416.5 294.6M416.5 286.9L420.6 287.2M417.8 375.2L416.6 373.8M417 388.8L416.8 388.1M416.8 388.1L422.9 383.8M417.8 409.3L416.8 408.9M416.8 408.9L418.2 401.3M418.1 349.2L416.9 348.6M416.9 348.6L417.2 345.1M417.2 420.3L416.9 418M416.9 418L423.3 413.5M417.4 396.7L417 389M417 389L417 388.8M417.3 272.8L417 272.5M417 272.5L417.2 264.4M417 279.6L417.3 272.8M422.1 392.2L417 388.8M422.2 479.6L417.1 474.7M417.1 474.7L418.6 472.9M417.2 264.4L417.2 264.3M422.1 421.5L417.2 420.3M425.5 264.5L417.2 264.3M417.2 264.3L417.5 256.1M417.2 345.1L419.5 343.5M417.5 256.1L417.3 255.8M417.3 255.8L417.5 247.8M417.3 272.8L425.2 272.7M419.6 367.6L417.4 362.6M417.4 362.6L422.5 360.7M417.5 247.8L417.7 247.6M425.5 256.1L417.5 256.1M417.6 239.4L417.5 231M417.5 231L417.7 230.9M417.8 239.6L417.6 239.4M417.7 222.7L417.7 222.6M417.7 222.6L417.7 214.6M425.8 231L417.7 230.9M417.7 230.9L417.7 222.7M425.7 248L417.7 247.6M417.7 247.6L417.8 239.6M426.1 222.9L417.7 222.7M417.7 214.6L417.9 214.4M418.9 467.8L417.7 461.3M417.7 461.3L420.1 459.9M417.8 239.6L425.5 239.3M417.8 375.2L422.6 373.7M423.1 409.8L417.8 409.3M417.9 206.3L417.8 206.3M417.8 206.3L417.8 198.1M417.8 198.1L418.1 197.9M417.9 214.4L417.9 206.3M417.9 206.3L426.2 206M426.1 214.7L417.9 214.4M418.9 530.9L418 529M418 529L419.7 524.9M420 499.5L418.1 494M418.1 494L418.9 493.2M426.3 198.2L418.1 197.9M418.1 197.9L418.2 189.8M419.2 354.3L418.1 349.2M418.1 349.2L423.7 347.2M418.2 189.8L418.2 189.8M418.2 189.8L418.2 188.6M426.3 189.9L418.2 189.8M418.2 401.3L418.2 401.2M418.2 401.2L418.7 397.3M422.5 403.2L418.2 401.3M418.3 532.3L418.9 530.9M418.7 487L418.3 486.7M418.3 486.7L418.4 483M418.4 483L422.2 479.6M419.8 534.5L418.4 532.9M420.1 429.6L418.6 429.3M418.6 472.9L418.9 467.9M418.6 472.9L425.9 472.8M425.3 488.8L418.7 487M418.9 493.2L418.7 487M420.2 458.1L418.7 454.3M418.7 454.3L419.9 449.1M418.9 467.9L418.9 467.8M418.9 493.2L425.5 492.6M418.9 530.9L424.5 532.1M426.2 468.5L418.9 467.8M420.6 513.4L419 511.6M419 511.6L420 505.5M420.4 355.2L419.2 354.3M419.8 435.6L419.2 434.6M419.9 449.1L419.3 448.3M419.3 448.3L420.6 443.4M419.5 343.5L419.4 341.4M423.7 347.2L419.5 343.5M419.5 340.8L422 340.5M419.7 524.9L419.5 524.6M419.5 524.6L420.8 516.8M421.4 368.2L419.6 367.6M420.7 504.9L419.6 500.1M419.6 500.1L420 499.5M425 525.5L419.7 524.9M420.6 443.4L419.8 442.4M419.8 442.4L419.8 435.6M424.1 535.9L419.8 534.5M419.8 435.6L425.7 437.4M419.9 449.1L424.7 450.7M420 499.5L424.5 497.4M420 505.5L420.7 504.9M421.3 434L420.1 429.6M420.1 429.6L422 428.4M425.2 461.5L420.1 459.9M420.1 459.9L420.2 458.1M420.2 458.1L425.9 452.3M421.4 309.6L420.4 302M420.4 302L421.8 300.7M421.9 355.5L420.4 355.2M421.4 294.4L420.6 287.2M420.6 287.2L421.6 286.3M425.3 442.5L420.6 443.4M421.1 516.5L420.6 513.4M420.6 513.4L425.1 509.5M422.2 340.1L420.7 333.8M420.7 333.8L422.2 332M420.7 504.9L425.5 506.2M420.8 516.8L421.1 516.5M420.8 396.9L422.1 392.2M422.2 332L421 325.3M421 325.3L421.2 325.1M424.4 517.3L421.1 516.5M421.2 325.1L429.4 325.2M421.2 325.1L422 317.6M421.7 294.7L421.4 294.4M422.6 373.7L421.4 368.2M421.4 368.2L422.6 367.4M422 310.1L421.4 309.6M428.3 287.4L421.6 286.3M421.6 286.3L422.2 280.3M422 317.6L421.7 317.3M421.7 317.3L422 310.1M421.8 300.7L421.7 294.7M421.7 294.7L428.6 293.6M429.2 301.8L421.8 300.7M422.5 356.3L421.9 355.5M421.9 355.5L425.2 349.2M424.7 428.8L422 428.4M422 428.4L423.1 423.1M422.1 341.8L422 340.5M422 340.5L422.2 340.1M428.2 318.5L422 317.6M422 310.1L428.7 309.2M422.6 392L422.1 392.2M423.1 423.1L422.1 421.5M422.1 421.5L425.2 416.4M422.2 479.6L424.7 479.4M422.2 332L429.1 331.6M428.1 339.2L422.2 340.1M423.1 409.8L422.5 403.2M422.5 403.2L425.8 400.2M428.5 356.9L422.5 356.3M422.5 360.7L422.5 356.3M425 363.3L422.5 360.7M429.1 394.3L422.6 392M422.6 392L425.5 387M428.6 369.5L422.6 367.4M422.6 367.4L425 363.3M424.7 375L422.6 373.7M425.5 387L422.9 383.8M422.9 383.8L423 382.3M423 382.3L422.9 382M422.9 382L424.7 375M423 382.3L428.9 381.4M423.2 409.9L423.1 409.8M423.1 423.1L429.3 423M423.3 413.5L423.2 409.9M423.2 409.9L428.7 408.5M425.2 416.4L423.3 413.5M424.2 347.3L423.7 347.2M424.1 434L426.6 429M425 543.5L424.1 535.9M424.1 535.9L425.5 534.9M424.9 178.6L424.2 173.2M425.2 349.2L424.2 347.3M424.2 347.3L425 345.9M425.1 525.5L424.4 517.3M424.4 517.3L425 517.2M427.4 500.1L424.5 497.4M424.5 497.4L425.5 492.6M424.7 532.9L424.5 532.1M424.5 532.1L425.4 530.1M427.9 374.4L424.7 375M425.8 451.7L424.7 450.7M424.7 450.7L426.8 443.4M426.5 486.1L424.7 479.4M424.7 479.4L425.3 478.8M425.8 400.2L424.8 397.7M426 179.3L424.9 178.6M427 545.7L425 543.5M425 363.3L429.6 362.7M425.4 530.1L425 525.5M425 525.5L425.1 525.5M431.1 517.7L425 517.2M425 517.2L426.7 511.5M425.1 525.5L432.5 523.4M426.7 511.5L425.1 509.5M425.1 509.5L425.5 506.2M426.2 468.5L425.2 461.5M425.8 461.1L425.2 461.5M425.5 279.8L425.2 272.7M425.2 272.7L425.5 272.4M430.1 418.3L425.2 416.4M429.2 350.9L425.2 349.2M426.8 443.4L425.3 442.5M425.3 442.5L425.7 437.4M432.1 481.5L425.3 478.8M425.3 478.8L426.6 475.5M426.2 491.5L425.3 488.8M425.3 488.8L426.5 486.1M431.3 530.3L425.4 530.1M425.5 492.6L426.2 491.5M425.5 387L429.7 388.3M425.5 506.2L426.6 505.6M433.6 272.8L425.5 272.4M425.5 272.4L425.5 264.6M425.5 264.5L425.5 256.1M425.5 256.1L425.7 255.9M426 239.8L425.5 239.3M425.5 239.3L425.9 231.2M425.5 534.9L425.6 533.6M429.7 534.4L425.5 534.9M425.5 264.6L425.5 264.5M425.5 264.6L433.7 264.3M425.7 255.9L425.7 248M425.7 248L425.9 247.7M433.8 256.2L425.7 255.9M425.7 437.4L428.1 435.4M425.9 452.3L425.8 451.7M425.8 451.7L431.8 447.9M425.9 231.2L425.8 231M425.8 231L426.1 222.9M432.9 463.1L425.8 461.1M425.8 461.1L429 456.2M425.8 181L426 179.3M429.6 401.3L425.8 400.2M429 456.2L425.9 452.3M425.9 231.2L432.6 231.4M434 247.9L425.9 247.7M425.9 247.7L426 239.8M426.6 475.5L425.9 472.8M425.9 472.8L426.6 469M426 179.3L427.1 179.1M426 239.8L434 239.5M426.1 222.9L426.2 222.8M426.2 214.8L426.1 214.7M426.1 214.7L426.6 206.3M426.6 469L426.2 468.5M426.6 429L426.2 428.5M434.5 223.1L426.2 222.8M426.2 222.8L426.2 214.8M428.8 492.1L426.2 491.5M434.6 214.8L426.2 214.8M426.6 206.3L426.2 206M426.2 206L426.3 198.2M426.3 189.9L426.3 189.9M426.3 189.9L426.3 188.8M426.3 198.2L426.4 198.1M426.4 198.1L426.3 189.9M426.3 189.9L427.4 189.9M434.5 198L426.4 198.1M426.4 548.1L427 545.7M426.5 486.1L431.6 484.9M426.6 469L432.1 468M426.6 206.3L434.5 206.5M430.5 506.6L426.6 505.6M426.6 505.6L427.4 500.1M431 429.5L426.6 429M426.6 475.5L430.4 475.6M426.7 511.5L431.6 512.5M429.5 443.8L426.8 443.4M427 545.7L435.3 543.4M428.1 435.4L427.1 434.5M427.4 500.1L431.6 499.1M428.3 374.7L427.9 374.4M427.9 374.4L428.6 369.5M429.8 340.5L428.1 339.2M428.1 339.2L429.3 331.8M429.1 435.2L428.1 435.4M428.2 397.3L429.1 394.3M429.4 325.2L428.2 318.5M428.2 318.5L429.5 317.2M428.6 293.6L428.3 287.4M429.8 286.2L428.3 287.4M428.3 374.7L433.2 375.4M428.9 381.4L428.3 374.7M429 357.6L428.5 356.9M428.5 356.9L429.5 351.2M429.1 294L428.6 293.6M428.6 369.5L430.3 367.5M429.5 310L428.7 309.2M428.7 309.2L429.4 302.1M432.2 410.9L428.7 408.5M428.7 408.5L430.4 402.2M431.9 494.7L428.8 492.1M428.8 492.1L434.6 487.4M429 381.5L428.9 381.4M430.6 387.7L429 381.5M434.3 380.2L429 381.5M429 456.2L431.4 456.1M429.6 362.7L429 357.6M429 357.6L435.1 355.9M431.1 436.6L429.1 435.2M429.1 435.2L429.3 434.4M429.2 301.8L429.1 294M429.1 294L436.3 293.8M429.1 394.3L429.3 394.1M429.3 331.8L429.1 331.6M429.1 331.6L429.4 325.2M429.4 302.1L429.2 301.8M429.5 351.2L429.2 350.9M429.2 350.9L430 348.8M429.3 331.8L435.9 333.1M430 424.6L429.3 423M429.3 423L430.1 418.3M434.7 394.6L429.3 394.1M429.3 394.1L429.7 388.3M429.4 325.2L429.4 325.2M435.9 324.2L429.4 325.2M429.4 302.1L435.9 301.3M431.8 447.9L429.5 443.8M429.5 443.8L431.9 440.7M436.6 317.8L429.5 317.2M429.5 317.2L429.5 310M433.6 351.3L429.5 351.2M429.5 310L435.8 310.2M430.4 402.2L429.6 401.3M429.6 401.3L430.4 398.7M429.6 348L429.8 340.5M429.7 362.8L429.6 362.7M429.7 425.4L430 424.6M430.3 367.5L429.7 362.8M429.7 362.8L434.2 362.1M429.7 388.3L430.6 387.7M429.8 340.5L435.9 339.9M436.6 287.7L429.8 286.2M429.8 286.2L429.9 280.6M430.2 424.7L430 424.6M436.5 347.9L430.1 348.1M430.1 418.3L432.4 416.8M435.3 369.8L430.3 367.5M434 480L430.4 475.6M430.4 475.6L434.8 473.2M430.4 402.2L436.8 402.3M432.4 508.1L430.5 506.6M430.5 506.6L432.8 500M433.2 387L430.6 387.7M432.2 433.5L431 429.5M431 429.5L431.3 428.5M431.9 440.7L431.1 436.6M431.1 436.6L438 434.2M431.6 518.2L431.1 517.7M431.1 517.7L431.6 512.5M431.3 533.5L431.3 530.3M431.3 428.5L431.3 425.2M431.3 530.3L432.5 528.9M440.2 426.9L431.3 428.5M432.3 456.7L431.4 456.1M431.4 456.1L433.6 448.7M432.5 523.4L431.6 518.2M431.6 518.2L437.2 516.5M432.8 500L431.6 499.1M431.6 499.1L431.9 494.7M431.6 512.5L433 510.1M434.6 487.4L431.6 484.9M431.6 484.9L432.1 481.5M433.6 448.7L431.8 447.9M431.9 494.7L437.4 493.2M437.2 441.5L431.9 440.7M432.1 481.5L434 480M432.6 468.3L432.1 468M432.1 468L432.9 463.1M432.4 416.8L432.2 410.9M432.2 410.9L437.7 408.3M433.5 462.4L432.3 456.7M436.1 456.2L432.3 456.7M433 510.1L432.4 508.1M432.4 508.1L438.2 502.3M434.5 417.4L432.4 416.8M438.6 532.9L432.5 528.9M432.5 528.9L432.9 523.8M432.9 523.8L432.5 523.4M434.8 473.2L432.6 468.3M432.6 468.3L438.7 467M438.1 501.3L432.8 500M432.9 463.1L433.5 462.4M432.9 523.8L436 524M438.4 511.3L433 510.1M434.3 380.2L433.2 375.4M433.2 375.4L435.2 373.5M436.4 391.5L433.2 387M433.2 387L434.6 385.5M433.4 279.9L433.6 272.8M439 462.1L433.5 462.4M434 351.7L433.6 351.3M433.6 351.3L433.7 351M433.6 448.7L436.7 448.4M433.6 272.8L433.9 272.6M434 264.6L433.7 264.3M433.7 264.3L433.9 256.4M433.9 256.4L433.8 256.2M433.8 256.2L434 247.9M441.9 273L433.9 272.6M433.9 272.6L434 264.6M433.9 256.4L442.2 256.2M436.5 479.6L434 480M434 264.6L442.1 264.6M434.2 247.8L434 239.5M434 239.5L434.2 239.3M435.1 355.9L434 351.7M434 351.7L434.6 351.6M434.2 247.8L434 247.9M434.2 239.3L434.2 237.4M442.3 247.9L434.2 247.8M442.5 239.7L434.2 239.3M435.7 362.8L434.2 362.1M434.2 362.1L435.4 356.2M434.4 380.3L434.3 380.2M434.3 228.4L434.6 223.2M434.6 385.5L434.4 380.3M434.4 380.3L439.5 380M434.6 223.2L434.5 223.1M434.5 223.1L434.6 214.8M434.7 214.7L434.5 206.5M434.5 206.5L434.5 206.5M434.5 198L434.5 195.5M435.9 420.5L434.5 417.4M440.3 415.7L434.5 417.4M434.8 198.2L434.5 198M441.6 206.5L434.5 206.5M434.5 206.5L434.8 198.2M434.6 223.2L438.4 223.1M434.6 214.8L434.7 214.7M435.1 535.6L434.6 534.8M440.4 385.9L434.6 385.5M436.3 487.6L434.6 487.4M441.9 214.8L434.7 214.7M436.3 397.1L434.7 394.6M434.7 394.6L436.4 391.5M437.6 474.5L434.8 473.2M434.8 198.2L440.1 198.1M436 542.8L435.1 535.6M435.1 535.6L438.3 535.1M435.4 356.2L435.1 355.9M441.4 375.2L435.2 373.5M435.2 373.5L435.3 369.8M436.8 553.6L435.3 543.4M435.3 543.4L436 542.8M435.3 369.8L437.4 367.7M441.3 356.8L435.4 356.2M437.4 367.7L435.7 362.8M435.7 362.8L441.7 360.1M437.6 316.7L435.8 310.2M435.8 310.2L437 308.9M437.5 325.6L435.9 324.2M435.9 324.2L436.6 317.8M435.9 339.9L435.9 333.1M435.9 333.1L437.7 331.6M437.1 340.9L435.9 339.9M436.2 301.6L435.9 301.3M435.9 301.3L436.9 294.6M441.8 543.5L436 542.8M437.6 524.7L436 524M436 524L439.5 518.2M439.6 461.5L436.1 456.2M436.1 456.2L438.2 453.3M436.2 301.6L443.7 302.2M437 308.9L436.2 301.6M437.4 493.2L436.3 487.6M436.3 487.6L437.9 486.1M436.9 294.6L436.3 293.8M436.3 293.8L436.8 288M436.4 553.6L436.8 553.6M436.4 391.5L440.3 390.9M437.9 486.1L436.5 479.6M436.5 479.6L438.2 477.5M437.4 352.7L436.5 347.9M436.5 347.9L437.1 347.3M436.6 317.8L437.6 316.7M436.8 288L436.6 287.7M436.6 287.7L436.7 280.6M438.2 453.3L436.7 448.4M436.7 448.4L437.2 447.9M436.8 553.6L436.8 553.6M436.8 554.2L436.8 553.6M438.2 405.1L436.8 402.3M436.8 402.3L438.2 398.9M436.8 288L444.3 286.6M436.8 553.6L443.7 552.8M436.9 294.6L444 295.2M437 308.9L443.9 308.6M437.1 347.3L437.1 340.9M437.1 340.9L443.6 339.6M445 347.3L437.1 347.3M438 443.3L437.2 441.5M437.2 441.5L439.4 435M444.2 448.5L437.2 447.9M437.2 447.9L438 443.3M439.5 518.2L437.2 516.5M437.2 516.5L438.4 511.3M438.9 367.8L437.4 367.7M438.4 494L437.4 493.2M437.7 331.6L437.5 325.6M437.5 325.6L444.5 324M438.4 475.4L437.6 474.5M437.6 474.5L439.1 467.5M443.6 316.9L437.6 316.7M440.8 529.9L437.6 524.7M437.6 524.7L444.1 521.4M437.6 433.4L440.7 428.1M437.7 408.3L437.7 408.3M437.7 408.3L438.2 405.1M437.7 408.3L444.2 410.1M440.3 415.7L437.7 408.3M443.4 333L437.7 331.6M444.3 485.6L437.9 486.1M438 443.3L444.4 442.4M438.2 398.9L438 398.7M438.2 502.3L438.1 501.3M438.1 501.3L439.7 498.9M439.6 422.8L438.1 422.3M439 398.7L438.2 398.9M438.2 397.9L438.4 397.6M439.7 504.4L438.2 502.3M438.2 453.3L444.7 455.7M438.2 405.1L444.3 404.7M444.2 481.7L438.2 477.5M438.2 477.5L438.4 475.4M438.4 475.4L445.4 472.5M438.4 511.3L438.8 511.1M439.7 498.9L438.4 494M438.4 494L445 490.5M438.4 397.6L439 398M438.4 397.6L438.7 396.3M438.4 534.1L438.6 532.9M438.6 532.9L440.8 529.9M439.4 435L438.7 434.2M439.1 467.5L438.7 467M438.7 467L439 462.1M444.7 512.5L438.8 511.1M438.8 511.1L439.7 504.4M442.6 370.9L438.9 367.8M438.9 367.8L443.9 362.7M439 462.1L439.6 461.5M439.1 467.5L445 469.3M442.6 435.9L439.4 435M443.9 518.3L439.5 518.2M440.4 385.9L439.5 380M439.5 380L440.1 379.5M439.7 422.8L439.6 422.8M439.6 422.8L439.6 421.8M442.5 460.6L439.6 461.5M439.7 504.4L444.9 506.1M440.2 426.9L439.7 422.8M445.2 420.6L439.7 422.8M439.7 354.3L440.3 354.2M446.1 498.7L439.7 498.9M440.1 379.5L445.3 381.9M440.1 379.5L441.4 375.2M440.7 428.1L440.2 426.9M440.8 392.2L440.3 390.9M440.3 390.9L442.1 387.2M443.1 416.8L440.3 415.7M442.1 387.2L440.4 385.9M440.7 428.1L446.4 430.1M440.7 394.3L440.8 392.2M440.8 392.2L442.9 392.8M444.8 529.2L440.8 529.9M441.7 360.1L441.3 356.8M441.3 356.8L441.9 355.8M441.4 375.2L443 374.3M442.7 231.5L441.6 231.5M443.9 362.7L441.7 360.1M441.9 355.8L441.7 354.1M441.8 278.1L441.9 273M443.4 544.6L441.8 543.5M441.8 543.5L445.4 535.6M448.3 355.3L441.9 355.8M441.9 273L442 272.9M445.3 272.9L442 272.9M442 272.9L442.1 264.6M442.1 387.2L445 386.7M442.1 264.6L442.2 264.6M449.9 264.8L442.2 264.6M442.2 264.6L442.2 256.2M442.2 256.2L442.2 256.2M442.2 256.2L442.3 248M442.2 256.2L450.5 256.5M442.3 248L442.3 247.9M442.3 247.9L442.5 239.7M442.3 562.3L445.8 554.5M450.6 248.1L442.3 248M445.9 467.4L442.5 460.6M442.5 460.6L444 458.9M442.5 239.7L442.5 239.7M442.5 239.7L442.8 231.6M450.7 239.9L442.5 239.7M443 374.3L442.6 370.9M442.6 370.9L445.8 367M442.8 436.6L442.6 435.9M442.6 435.9L443.4 435.7M442.7 231.5L442.7 230.3M442.8 231.6L442.7 231.5M442.8 231.6L450.7 231.5M445.4 375L443 374.3M443.8 417.5L443.1 416.8M443.1 416.8L444.7 410.7M443.7 552.8L443.4 544.6M443.4 544.6L451.8 544.2M443.6 339.6L443.4 333M443.4 333L445.2 331.6M443.5 563.9L451.2 562.2M444 317.3L443.6 316.9M443.6 316.9L444.6 309.6M444.7 340.4L443.6 339.6M445.8 554.5L443.7 552.8M444.7 303.4L443.7 302.2M443.7 302.2L444 295.2M444.2 392.9L443.7 393M444.6 309.6L443.9 308.6M443.9 308.6L444.7 303.4M443.9 362.7L443.9 362.7M444.1 521.4L443.9 518.3M443.9 518.3L444.8 516.8M445.8 367L443.9 362.7M443.9 362.7L447.3 361.5M444 295.2L444.9 294.5M451 462.6L444 458.9M444 458.9L444.7 455.7M444.6 323.9L444 317.3M444 317.3L452.1 316.6M444.3 286.6L444 283.4M444 441L444.1 441M444.1 441.1L444.1 441M444.1 441L445.1 440.1M444.1 521.4L445.6 523.5M445.6 397.9L444.2 392.9M444.2 392.9L444.4 392.8M445.6 454.7L444.2 448.5M444.2 448.5L446.1 445.8M444.3 485.6L444.2 481.7M444.2 481.7L444.5 481.3M444.7 410.7L444.2 410.1M444.2 410.1L444.3 404.7M445 287.2L444.3 286.6M444.3 404.7L445.8 403.9M444.4 442.4L444.3 442.1M444.6 486L444.3 485.6M445.1 442.9L444.4 442.4M449.8 393.2L444.4 392.8M444.4 392.8L444.5 392.3M445.2 331.6L444.5 324M444.5 324L444.6 323.9M444.5 481.3L447.1 474M451.4 479.9L444.5 481.3M451.6 324.4L444.6 323.9M444.6 309.6L451.9 310.3M445.3 490L444.6 486M444.6 486L451.5 484.5M444.7 455.7L445.6 454.7M451.5 302L444.7 303.4M444.7 410.7L451.2 409.1M444.8 516.8L444.7 512.5M444.7 512.5L446.1 510.9M445.3 347L444.7 340.4M444.7 340.4L451.7 339M445.5 529.7L444.8 529.2M444.8 529.2L445.6 523.5M451.8 518.3L444.8 516.8M444.9 351.4L445 347.3M451.5 295.9L444.9 294.5M444.9 294.5L445 287.2M445.9 507.7L444.9 506.1M444.9 506.1L446.8 499M445.4 472.5L445 469.3M445 469.3L445.9 467.4M445 347.3L445.3 347M445 287.2L449.5 286.9M446.1 498.7L445 490.5M445 490.5L445.3 490M447.1 387.7L445 386.7M445 386.7L445.3 381.9M452.6 441.8L445.1 440.1M445.1 440.1L445.9 433.7M448.2 422.2L445.2 420.6M445.2 420.6L445.4 417.5M451 332.2L445.2 331.6M452.6 347.2L445.3 347M445.3 381.9L447.4 378.9M451.9 492L445.3 490M445.8 403.9L445.3 398.7M447.1 474L445.4 472.5M447.4 378.9L445.4 375M445.4 375L448.6 372.8M445.5 535L445.5 529.7M445.5 398.1L445.6 397.9M445.5 529.7L450.6 530.4M445.6 523.5L450.4 523.3M445.6 454.7L448.6 454.3M446 398.1L445.6 397.9M451.1 554.5L445.8 554.5M449.6 368.6L445.8 367M450.5 406L445.8 403.9M445.9 467.4L450 465.5M446.1 510.9L445.9 507.7M445.9 507.7L451 504.3M446.1 445.8L446 445.4M451.2 511.2L446.1 510.9M446.4 445.9L446.1 445.8M446.8 499L446.1 498.7M446.8 432.8L446.4 430.1M446.4 430.1L449.7 427.2M446.8 499L449.1 499M447.1 389.5L447.1 387.7M447.1 387.7L450.2 387M448.7 352.8L447.1 351.1M447.1 474L447.2 474M447.4 474.1L447.2 474M447.2 474L453.2 469M452.4 365.2L447.3 361.5M447.3 361.5L450.1 357.4M447.4 378.9L451.8 379.9M456 474.5L447.4 474.1M451.4 479.9L447.4 474.1M449.7 427.2L448.2 422.2M448.2 422.2L454.8 417.6M450.1 357.4L448.3 355.3M448.3 355.3L448.7 352.8M452.8 461.4L448.6 454.3M448.6 454.3L451 452.9M453.2 374.9L448.6 372.8M448.6 372.8L449.6 368.6M448.7 352.8L450 351.9M451.7 500.9L449.1 499M449.1 499L451.9 492M449.6 368.6L451.8 367.5M453.6 427.7L449.7 427.2M450.2 398.1L449.8 393.2M449.8 393.2L451.2 392.4M450 447.5L453.2 446.9M453.2 469L450 465.5M450 465.5L451 462.6M450.1 357.4L453 357.7M452.4 526.4L450.4 523.3M450.4 523.3L452.4 518.9M450.5 262L450.5 256.5M450.5 256.5L450.5 256.5M451.2 409.1L450.5 406M453.3 402L450.5 406M450.5 414L451.4 409.2M450.5 256.5L450.7 248.2M455.2 256.5L450.5 256.5M450.9 535.4L450.6 530.4M450.6 530.4L451.7 529.6M450.7 248.2L450.6 248.1M450.6 248.1L450.7 239.9M450.7 231.5L450.7 231.5M450.7 231.5L450.7 229.4M452 231.5L450.7 231.5M451 239.7L450.7 231.5M450.7 248.2L456 248.2M451 239.7L450.7 239.9M453 294.4L450.9 287.2M454.2 239.8L451 239.7M451 504.3L451.2 511.2M451 504.3L452.1 502.9M451.8 333.1L451 332.2M451 332.2L452.4 325.2M452.1 453.2L451 452.9M451 452.9L451 451.7M451.8 544.2L451 536M451 462.6L452.8 461.4M451.2 562.2L451.1 554.5M451.1 554.5L454.4 552M453.9 393.2L451.2 392.4M451.2 392.4L451.4 386.9M451.2 562.2L453.8 565M451.4 409.2L451.2 409.1M451.4 511.2L451.2 511.2M451.2 387L451.4 386.9M451.4 409.2L455.4 409.9M451.8 518.3L451.4 511.2M455.3 510.5L451.4 511.2M451.4 386.9L451.4 386.8M452.6 480.7L451.4 479.9M451.6 301.9L451.5 295.9M451.5 295.9L453 294.4M452.5 491.8L451.5 484.5M451.5 484.5L452 484M452.4 309.7L451.5 302M451.5 302L451.6 301.9M452.4 325.2L451.6 324.4M451.6 324.4L452.1 316.6M458.9 302.6L451.6 301.9M457.8 531.6L451.7 529.6M451.7 529.6L452.4 526.4M452.5 339.8L451.7 339M451.7 339L451.8 333.1M452.1 502.9L451.7 500.9M451.7 500.9L456.9 498.4M454.8 370.1L451.8 367.5M451.8 367.5L452.4 365.2M452.4 518.9L451.8 518.3M452.7 545L451.8 544.2M459.2 332.3L451.8 333.1M452 385.6L451.8 379.9M451.8 379.9L452.8 379.1M451.9 492L452.5 491.8M452.4 316.3L451.9 310.3M451.9 310.3L452.4 309.7M453.3 402L452 398.7M459.1 487.3L452 484M452 484L452.6 480.7M452 386.4L453.3 385.8M457.4 507.7L452.1 502.9M452.1 316.6L452.4 316.3M459.2 308.8L452.4 309.7M452.4 526.4L458.3 523.9M454.6 432.9L452.4 431.7M459.1 324.9L452.4 325.2M452.4 365.2L454.6 363.2M452.4 316.3L458.6 317.3M452.4 518.9L458.2 518.7M452.5 353.3L452.6 347.2M452.5 491.8L456.9 492.2M452.7 347.2L452.5 339.8M459.3 339.6L452.5 339.8M453.2 446.9L452.6 441.8M452.6 441.8L456.1 439.1M455.6 396.6L452.6 398.1M452.6 347.2L452.7 347.2M452.6 480.7L454.8 479.4M459.4 347.1L452.7 347.2M452.7 568.8L453.8 565M454.4 552L452.7 545M452.7 545L460.1 541.3M454 414.2L452.8 413.4M454.3 461.1L452.8 461.4M458.4 379.8L452.8 379.1M452.8 379.1L453.2 374.9M453 294.4L458.1 293.8M454.5 362.5L453 357.7M453 357.7L454.2 356.7M454.6 448.9L453.2 446.9M453.2 469L454.7 469.4M453.2 374.9L454.9 373.5M457.1 402.1L453.3 402M457 386.7L453.3 385.8M453.3 385.8L453.3 385.3M454.7 430.3L453.6 427.7M453.6 427.7L455.6 425.7M453.8 565L459.8 563.3M455 394.1L453.9 393.2M453.9 393.2L457 386.7M454.8 417.6L454 414.2M454 414.2L461.2 409.3M454.1 452.9L454.6 448.9M456.6 462.8L454.3 461.1M454.3 461.1L455.5 457.9M460 553.8L454.4 552M463.6 445.7L454.6 448.9M456.1 439.1L454.6 432.9M454.6 432.9L459.9 430.4M456 474.5L454.7 469.4M454.7 469.4L458.4 466.2M457.1 481L454.8 479.4M454.8 479.4L456.5 475M457.6 420.4L454.8 417.6M454.9 373.5L454.8 370.1M454.8 370.1L458.5 368.8M457.9 374.5L454.9 373.5M455.6 396.6L455 394.1M455 394.1L460.9 391M455 355.1L457.6 355.1M455 454.2L464.8 453.5M458.2 518.7L455.3 510.5M455.3 510.5L457.4 507.8M455.4 358.7L456.7 358.7M456.4 410.8L455.4 409.9M455.4 409.9L459.7 404.6M456.6 397.6L455.6 396.6M463.7 429.7L455.6 425.7M455.6 425.7L457.6 420.4M455.8 535.7L457.8 531.6M456.5 475L456 474.5M462.5 440.9L456.1 439.1M456.4 398.1L456.6 397.6M456.5 362.6L456.7 358.7M456.5 475L461.9 474.6M458.4 466.2L456.6 462.8M456.6 462.8L458.2 461.6M458.8 398.1L456.6 397.6M456.7 358.7L458 357.6M458.1 507L456.9 498.4M456.9 498.4L458.1 497.4M457.1 492.5L456.9 492.2M456.9 492.2L459.1 487.3M458 357.6L456.9 356.1M459.4 386.5L457 386.7M457.1 492.5L464.5 492.9M458.1 497.4L457.1 492.5M459.7 486.8L457.1 481M457.1 481L463.2 479.3M459.7 404.6L457.1 402.1M457.1 402.1L458.7 398.7M462.9 512.5L457.4 507.8M457.4 507.8L457.4 507.7M457.4 507.7L458.1 507M457.6 420.4L459.4 420.4M457.8 531.6L458.3 531.4M458.4 379.8L457.9 374.5M457.9 374.5L458.7 374.1M458 357.6L458.9 357.3M459.1 294.6L458.1 293.8M458.1 293.8L459.2 287M461.9 499.1L458.1 497.4M458.1 507L462 504.7M458.4 518.8L458.2 518.7M460.5 367.1L458.2 366.9M458.9 524.8L458.3 523.9M458.3 523.9L458.4 518.8M462.6 532.9L458.3 531.4M458.3 531.4L458.9 524.8M458.4 518.8L460 518.3M459 380.2L458.4 379.8M461.6 467L458.4 466.2M459 317.6L458.6 317.3M458.6 317.3L459.9 309.4M463.9 376.9L458.7 374.1M458.7 374.1L460.1 372M459.2 287L458.8 286.9M462.3 358.8L458.9 357.3M458.9 357.3L460.1 353.9M465.1 526.5L458.9 524.8M459.2 308.8L458.9 302.6M458.9 302.6L460 301.5M459.1 324.9L459 317.6M459 317.6L466.2 316.9M459.1 487.3L459.7 486.8M460 301.5L459.1 294.6M459.1 294.6L466.3 293.9M459.2 325L459.1 324.9M459.9 309.4L459.2 308.8M459.2 325L467 325.1M459.2 332.3L459.2 325M459.8 332.9L459.2 332.3M459.2 287L459.6 286.7M459.4 339.7L459.3 339.6M459.3 339.6L459.8 332.9M460.1 353.1L459.4 347.1M459.4 347.1L460 346.4M462.1 421.5L459.4 420.4M459.4 420.4L463.5 412.9M461.2 390.5L459.4 386.5M459.4 386.5L460.7 383.9M460 346.4L459.4 339.7M459.4 339.7L467.2 339.6M460.5 381.7L459.5 380.6M462.1 486.2L459.7 486.8M462.3 405.1L459.7 404.6M462.6 568.8L459.8 563.3M459.8 563.3L461.8 559.1M467.5 333L459.8 332.9M466.4 309.7L459.9 309.4M466.7 301.8L460 301.5M461.8 559.1L460 553.8M460 553.8L463.8 550.5M464.1 346.4L460 346.4M467.2 524.4L460 518.3M460 518.3L461.8 516.8M464.2 545L460.1 541.3M460.1 541.3L460.7 536.6M460.7 383.9L460.5 381.7M460.5 381.7L465 378.1M465.2 370.5L460.5 367.1M460.5 367.1L463 362.5M466.6 384.5L460.7 383.9M460.8 398.1L460.9 391M460.9 391L461.2 390.5M461 286.2L466.4 286.9M462.8 535.5L461.1 536.1M463.5 412.9L461.2 409.3M461.2 409.3L461.3 408.9M461.2 390.5L465.7 391.4M463.6 470.6L461.6 467M461.6 467L462.1 466.2M461.8 373.3L462.8 373M470.3 561.1L461.8 559.1M461.8 464L462.4 463.6M470.1 517.6L461.8 516.8M461.8 516.8L462.9 512.5M462 504.7L461.9 499.1M461.9 499.1L464.2 498M463.5 478.7L461.9 474.6M461.9 474.6L463.5 471.7M464.9 505.8L462 504.7M464 487L462.1 486.2M462.1 486.2L463.2 479.3M464 429.4L462.1 421.5M462.1 421.5L467.3 419.7M463 362.5L462.3 358.8M462.3 358.8L467.8 357.7M463.1 407.2L462.3 405.1M462.3 405.1L465.6 401.4M472.4 467.2L462.4 463.6M462.4 463.6L466.3 455.5M463.7 445.5L462.5 440.9M462.5 440.9L464.7 437.7M462.9 535.1L462.6 532.9M462.6 532.9L464.7 531.1M464.7 437.7L462.6 430.4M463.2 375L462.8 373M462.8 373L465.2 370.5M462.8 536.2L462.8 535.5M462.8 535.5L462.9 535.1M462.9 512.5L465.4 510.8M466.3 536.2L462.9 535.1M468.6 366.8L463 362.5M463.2 479.3L463.5 478.7M469.1 348.9L463.2 349.8M463.5 412.9L467 414.9M463.5 478.7L468.4 479.7M467.9 473.4L463.5 471.7M463.5 471.7L463.6 470.6M463.6 470.6L465.2 469.8M464.8 453.5L463.6 445.7M463.6 445.7L463.7 445.5M463.7 445.5L471.7 445.3M463.7 429.8L463.7 429.7M463.7 429.7L464 429.4M471.8 551.7L463.8 550.5M463.8 550.5L464.2 545M470 427.9L464 429.4M464.5 492.9L464 487M464 487L468.9 486.5M464.2 545L469.9 541.5M469.4 500.5L464.2 498M464.2 498L465.5 494.2M465.5 494.2L464.5 492.9M467.1 531.5L464.7 531.1M464.7 531.1L465.1 526.5M464.7 398.1L466.3 391.7M471.5 436.4L464.7 437.7M466.3 455.5L464.8 453.5M465.4 510.8L464.9 505.8M464.9 505.8L469.9 504M465.1 526.5L467.2 524.4M465.2 370.5L467.7 370.1M470.2 512.4L465.4 510.8M465.6 401.4L465.4 398.7M465.5 494.2L469 493.2M465.6 401.4L468.5 403M466.3 391.7L465.7 391.4M465.7 391.4L466.6 384.5M466.8 317.5L466.2 316.9M466.2 316.9L466.4 309.7M466.3 455.5L472.3 455.4M470.4 391.8L466.3 391.7M466.8 301.8L466.3 293.9M466.3 293.9L466.9 293.3M466.9 293.3L466.4 286.9M466.4 286.9L467 286.2M466.4 309.7L467.1 309.1M466.6 384.5L467.7 384M466.6 405.3L467.5 405.2M470.2 537.8L466.7 536.9M467.1 309.1L466.7 301.8M466.7 301.8L466.8 301.8M474.6 300.7L466.8 301.8M467.8 324.2L466.8 317.5M466.8 317.5L475 316M474.6 294.2L466.9 293.3M468.3 418.5L467 414.9M467 414.9L470.3 410.6M467.7 332.7L467 325.1M467 325.1L467.8 324.2M474.7 287.2L467 286.2M467 286.2L467.5 283.7M467.1 309.1L473.9 309.7M467.1 344.4L467.2 339.6M467.6 524.2L467.2 524.4M467.2 339.6L467.6 339.1M469 379.8L467.3 379.9M470 427.9L467.3 419.7M467.3 419.7L468.3 418.5M470.3 410.6L467.5 405.2M467.5 405.2L468.9 403.9M467.6 339.1L467.5 333M467.5 333L467.7 332.7M467.6 339.1L470.3 339.5M467.7 384L467.6 381.3M471.7 526.7L467.6 524.2M467.6 524.2L470.2 517.8M475.8 332.3L467.7 332.7M469.8 377.9L467.7 370.1M467.7 370.1L468.4 369.3M469.5 384.6L467.7 384M467.8 324.2L473.6 323.9M469.6 359.3L467.8 357.7M467.8 357.7L469.1 348.9M468.3 418.5L475.1 418.3M468.9 486.5L468.4 479.7M468.4 479.7L470.6 478.2M476.6 372L468.4 369.3M468.4 369.3L468.8 367.7M469.1 348.9L468.6 344.1M468.8 367.7L468.6 366.8M468.6 366.8L469.6 359.3M468.8 367.7L475.5 364.8M469 486.6L468.9 486.5M475 404.8L468.9 403.9M468.9 403.9L469 403.3M471 494.4L469 493.2M469 493.2L469 486.6M469.8 381.4L469 379.8M469 379.8L469.8 377.9M469 486.6L475.6 486.6M469.1 348.9L469.1 348.9M469.1 348.9L475.9 350.2M474.9 339.4L469.3 342.8M469.9 504L469.4 500.5M469.4 500.5L472.1 497.1M471.2 388.6L469.5 384.6M469.5 384.6L472.7 382.4M474.8 359.2L469.6 359.3M469.8 377.9L475.1 376.2M470.8 504.7L469.9 504M471.8 551.7L469.9 541.5M469.9 541.5L470.9 540.1M470.8 474.3L470 474.2M470.4 428L470 427.9M470.2 517.8L470.1 517.6M470.1 517.6L470.2 512.4M470.2 512.4L471.1 511.4M475.4 519.2L470.2 517.8M470.9 540.1L470.2 537.8M470.2 537.8L472.1 533.3M470.4 568.8L470.3 561.1M472.6 559L470.3 561.1M474.3 411.7L470.3 410.6M470.4 429.9L470.4 428M470.4 428L475.2 427.3M471 392.5L470.4 391.8M470.4 391.8L471.2 388.6M474.2 481.6L470.6 478.2M470.6 478.2L471 477M471.1 511.4L470.8 504.7M470.8 504.7L474.5 504.4M471 475.3L470.8 474.3M470.8 474.3L473.2 469.7M479.1 543.3L470.9 540.1M472.1 497.1L471 494.4M471 494.4L476.1 489.2M472.1 396.5L471 392.5M471 392.5L477.8 390.9M476.3 511.1L471.1 511.4M471.1 398.1L472.1 396.5M471.2 531.4L471.7 530.2M477.3 385.3L471.2 388.6M472.1 533.3L471.2 532M474.3 438.5L471.5 436.4M471.5 436.4L471.8 430.6M472.9 446.8L471.7 445.3M471.7 445.3L474.3 438.5M476.6 530.3L471.7 530.2M471.7 530.2L471.7 526.7M471.7 526.7L476.2 524.5M472.1 551.9L471.8 551.7M478.2 397.7L472.1 396.5M472.1 533.3L476.6 532.2M472.6 559L472.1 551.9M472.1 551.9L477.8 549.1M476.7 497.7L472.1 497.1M473.5 456.1L472.3 455.4M472.3 455.4L472.9 446.8M473.2 469.7L472.4 467.2M472.4 467.2L474.5 463M479.5 560.5L472.6 559M478.7 446.9L472.9 446.8M482.2 471.2L473.2 469.7M473.4 336.6L473.9 337M474.5 463L473.5 456.1M473.5 456.1L477.8 454.9M474.4 324.6L473.6 323.9M473.6 323.9L475.6 316.5M475 316L473.9 309.7M473.9 309.7L474.7 308.9M474.9 339.4L473.9 337M473.9 337L474.8 335M479.5 480.9L474.2 479.5M474.3 438.5L480.3 438.4M475.1 413.5L474.3 411.7M474.3 411.7L476.7 406.7M475.8 332.3L474.4 324.6M474.4 324.6L482.9 323.8M474.5 463L482.6 463.5M477.3 505.9L474.5 504.4M474.5 504.4L476.7 497.7M474.6 300.7L474.6 294.2M474.6 294.2L475 293.7M475.1 301.2L474.6 300.7M482.5 308.9L474.7 308.9M474.7 308.9L475.1 301.2M475 293.7L474.7 287.2M474.7 287.2L475 287M475.5 364.8L474.8 359.2M474.8 359.2L474.9 359.1M481.1 359.4L474.9 359.1M474.9 359.1L475.9 350.2M475.5 339.5L474.9 339.4M475 287L474.9 280M474.9 280L482 279.1M482.7 286.1L475 287M475 293.7L482.3 293.3M476.7 406.7L475 404.8M475 404.8L477.2 398.5M475.6 316.5L475 316M476.2 419.3L475.1 418.3M475.1 418.3L475.1 413.5M475.1 301.2L481.4 301.6M477.2 378.6L475.1 376.2M475.1 376.2L476.6 372M475.1 413.5L483.2 411.1M476.3 430L475.2 427.3M475.2 427.3L475.8 426.5M476.4 524.2L475.4 519.2M475.4 519.2L478.4 516.8M475.5 364.8L478.4 366.7M478.6 342.3L475.5 339.5M475.5 339.5L481.6 333.2M475.6 316.5L481.7 317.2M476 487.2L475.6 486.6M475.6 486.6L476.3 484.1M475.8 426.5L476.2 419.3M485.8 426.5L475.8 426.5M476 332.4L475.8 332.3M475.9 350.2L477.1 349.8M476 487.2L478.2 487.5M476.1 489.2L476 487.2M476 333.5L476 332.4M476 332.4L478.1 332.1M477.2 491.3L476.1 489.2M476.9 530.2L476.2 524.5M476.2 524.5L476.4 524.2M476.2 419.3L482.5 418.4M476.3 531.7L476.6 530.3M477.1 381.9L476.3 382M477.5 512.2L476.3 511.1M476.3 511.1L477.3 505.9M478.4 524.7L476.4 524.2M476.6 530.3L476.9 530.2M476.6 372L480 370.3M480.2 406.8L476.7 406.7M476.7 497.7L476.7 497.7M482 499L476.7 497.7M476.7 497.7L477.2 491.3M476.9 530.2L477.9 530.4M476.9 381.1L477.2 378.6M477.3 385.3L477.1 381.9M477.1 381.9L477.3 381.6M480.1 350.8L477.1 349.8M477.1 349.8L478.6 342.3M477.2 491.3L480.7 492.6M481.7 377.4L477.2 378.6M477.3 505.9L481.9 504.5M478.6 387.3L477.3 385.3M478.4 516.8L477.5 512.2M477.5 512.2L483.2 509.8M483.1 462.9L477.8 454.9M477.8 454.9L479.8 453.4M482.5 555L477.8 549.1M477.8 549.1L479.5 544.5M479.3 393.4L477.8 390.9M477.8 390.9L478.6 387.3M477.9 568.8L480.3 562.5M478.4 397.9L478.2 397.7M478.2 397.7L479.3 393.4M480 370.3L478.4 366.7M478.4 366.7L481.5 360.9M481 517.2L478.4 516.8M478.5 486.7L479.5 480.9M478.6 342.3L481 341.7M478.6 387.3L483.2 387.7M479.8 453.4L478.7 446.9M478.7 446.9L481.5 443.1M479.5 544.5L479.1 543.3M479.1 543.3L479.3 542.9M480.3 438.4L479.1 430.7M479.3 393.4L483.9 392.6M480.3 562.5L479.5 560.5M479.5 560.5L482.6 555.4M479.6 544.5L479.5 544.5M479.5 480.9L482 479.6M487.1 453.2L479.8 453.4M481.3 370.7L480 370.3M482.2 357.7L480.1 350.8M480.1 350.8L484.4 349.4M483.2 411.1L480.2 406.8M480.2 406.8L482 403.8M480.3 438.4L480.9 438.7M486.2 564.6L480.3 562.5M480.6 491L489.2 489.1M480.7 330.8L480.8 330.8M481.6 333.2L480.8 330.8M480.8 330.8L481 330.5M481.5 443.1L480.9 438.7M480.9 438.7L488.2 436M485 344.2L481 341.7M481 341.7L484.3 335.8M481.5 360.9L481.1 359.4M481.1 359.4L482.2 357.7M485.7 384.9L481.3 380.8M482.9 374.4L481.3 370.7M481.3 370.7L483.5 369.3M482 403.8L481.3 398.5M482.5 308.9L481.4 301.6M481.4 301.6L482.7 300.6M485.3 363.9L481.5 360.9M488 448.3L481.5 443.1M481.6 329.3L482.9 323.8M484.3 335.8L481.6 333.2M482.5 380L481.7 377.4M481.7 377.4L482.9 374.4M481.7 317.2L481.7 317.2M481.7 317.2L483 309.4M482.9 323.7L481.7 317.2M481.7 317.2L487.8 316.5M482.2 278.9L481.9 277.2M483.8 506.5L481.9 504.5M481.9 504.5L482 499M490.1 405.1L482 403.8M485.7 481.3L482 479.6M482 479.6L482.7 471.7M482 499L482 499M484.8 499.3L482 499M482 499L482.9 496.3M483 285.8L482 279.1M482 279.1L482.2 278.9M488.9 356.7L482.2 357.7M482.7 471.7L482.2 471.2M482.2 471.2L482.6 463.5M489.2 278L482.2 278.9M483.6 294.5L482.3 293.3M482.3 293.3L482.7 286.1M485.8 426.5L482.5 418.4M482.5 418.4L483 417.7M483 309.4L482.5 308.9M482.6 463.5L483.1 462.9M482.7 471.7L490.3 470.7M489.3 302.5L482.7 300.6M482.7 300.6L483.6 294.5M482.7 286.1L483 285.8M482.9 323.8L482.9 323.7M485.2 324.1L482.9 323.7M490.2 376.9L482.9 374.4M488.1 327.3L483 328.9M483 285.8L489.7 286.4M489.3 418.3L483 417.7M483 417.7L484 411.6M489.3 308.6L483 309.4M483.1 511.9L483.2 509.8M486.1 461.5L483.1 462.9M484.6 391.6L483.2 387.7M483.2 387.7L485.7 384.9M483.2 509.8L483.3 509.7M484 411.6L483.2 411.1M483.6 510L483.3 509.7M483.3 509.7L483.8 506.5M489.3 369.6L483.5 369.3M483.5 369.3L485.3 363.9M483.6 294.5L489.1 294M483.7 430.2L485.9 426.6M483.8 506.5L485.1 506.4M485 397.4L483.9 392.6M483.9 392.6L484.6 391.6M484 411.6L490 409.5M484.3 335.8L487.6 336.5M487.2 350.7L484.4 349.4M484.4 349.4L485 344.2M484.5 397.8L485 397.4M484.6 391.6L487.5 391.4M489.1 497.1L485 498.4M490.3 397.4L485 397.4M485 344.2L489.7 341.5M485.3 363.9L490.7 362M489.9 399.5L485.3 398.4M485.7 384.9L488.7 384.4M489.2 489.1L485.7 481.3M485.7 481.3L491.1 478.3M485.9 426.6L485.8 426.5M486.6 426.7L485.9 426.6M489.4 464.9L486.1 461.5M486.1 461.5L488.7 455.5M488 322.8L486.6 322.3M489.6 432.8L486.6 426.7M486.6 426.7L487.7 426.1M488.7 455.5L487.1 453.2M487.1 453.2L488 448.3M489.2 353L487.2 350.7M487.2 350.7L492.6 343M490.8 396.6L487.5 391.4M487.5 391.4L490.1 388.2M489.7 341.5L487.6 336.5M487.6 336.5L489.2 334.7M487.7 426.1L490.1 419.6M496.9 425.6L487.7 426.1M488.1 327.3L488 322.8M488 322.8L489.6 321.3M488 448.3L490.6 446.3M488.9 328L488.1 327.3M488.2 435L488.9 435M488.4 568.8L488.2 568.4M489.6 381.6L488.5 379M489.6 321.3L488.6 315.9M488.7 455.5L496.3 457.1M490.5 386.8L488.7 384.4M488.7 384.4L489.6 381.6M490.9 359.7L488.9 356.7M488.9 356.7L489.2 353M488.9 328L494.4 328M489.2 334.7L488.9 328M489.7 436.9L488.9 435M488.9 435L489.6 432.8M490 498.1L489.1 497.1M489.1 497.1L490 489.6M489.9 294.7L489.1 294M489.1 294L489.8 288.1M490 489.6L489.2 489.1M489.2 353L495.7 350.2M489.5 278.2L489.2 278M489.2 278L489.4 275.8M494.3 334L489.2 334.7M490.1 371.1L489.3 369.6M489.3 369.6L492 364.1M489.3 308.6L489.3 302.5M489.3 302.5L490.2 301.6M490.1 419.6L489.3 418.3M489.3 418.3L492 411.4M489.6 308.8L489.3 308.6M489.4 312.9L490.5 313M490.3 470.7L489.4 464.9M489.4 464.9L496.9 461.4M489.6 432.8L496.1 431.3M494 380.7L489.6 381.6M490.8 321.3L489.6 321.3M492.6 343L489.7 341.5M490.1 405.1L489.9 399.5M489.9 399.5L489.9 399.5M489.9 399.5L489.9 398.3M494.3 398.3L489.9 399.5M491.9 440.1L490 437.7M490 489.6L496.1 488.3M496.4 279.5L490 276.7M492 411.4L490 409.5M490 409.5L490.2 405.3M490.1 419.6L497.3 420.8M490.2 376.9L490.1 371.1M490.1 371.1L496.6 370.3M490.2 405.3L490.1 405.1M494.1 394.7L490.1 388.2M490.1 388.2L490.5 386.8M490.2 405.3L499.3 403.4M490.7 377.6L490.2 376.9M490.3 285.9L494 285.1M490.5 470.7L490.3 470.7M490.4 397.7L490.3 397.4M490.3 397.4L490.8 396.6M490.5 386.8L495.5 387.1M491.1 478.3L490.5 470.7M490.5 470.7L498.5 469.7M490.5 294.5L495.9 292.1M498.1 448.6L490.6 446.3M490.6 446.3L491.9 440.1M491.5 302.9L490.7 299.6M492 364.1L490.7 362M490.7 362L490.9 359.7M490.8 303.6L491.5 302.9M490.8 396.6L494.1 394.7M496.4 357.5L490.9 359.7M491.1 311.7L497.8 311.4M496.2 480L491.1 478.3M492.3 320.1L491.3 317.9M491.3 320.9L492.3 320.1M494.9 302.9L491.5 302.9M491.9 440.1L498.9 440.3M492 411.4L496.5 412.8M497.9 366.6L492 364.1M497.3 321.2L492.3 320.1M493.2 343.1L492.6 343M496.8 348.8L493.2 343.1M493.2 343.1L495.1 341.2M494 380.7L493.9 375.9M494.8 381L494 380.7M495.9 292.1L494 285.1M494 285.1L496.6 281.2M495.2 394.5L494.1 394.7M495.4 335.3L494.3 334M494.3 334L495.5 329.1M495.5 329.1L494.4 328M494.4 328L494.6 325.9M495.5 387.1L494.8 381M494.8 381L499.1 380M497.1 304.3L494.9 302.9M494.9 302.9L500.6 293.7M498.8 375.2L495.1 374.9M495.1 341.2L495.4 335.3M495.1 341.2L502.6 339.8M497.8 396.4L495.2 394.5M495.2 394.5L496.9 390.2M499.3 403.4L495.3 398.2M502.7 335.1L495.4 335.3M495.5 329.1L502.3 329M495.9 387.2L495.5 387.1M496.4 357.5L495.7 350.2M495.7 350.2L496.8 348.8M496.9 390.2L495.9 387.2M495.9 387.2L499.8 384.6M500.6 293.7L495.9 292.1M499.4 490L496.1 488.3M496.1 488.3L496.2 480M496.4 431.7L496.1 431.3M496.1 431.3L497 425.7M496.2 480L497 479.2M496.9 461.4L496.3 457.1M496.3 457.1L497.5 455.9M496.4 431.7L505.5 433.3M496.9 437.2L496.4 431.7M499.9 358.6L496.4 357.5M496.6 281.2L496.4 279.5M496.4 279.5L499.6 276M497.3 420.8L496.5 412.8M496.5 412.8L499.6 411.1M496.6 281.2L505 287.6M501.2 349.1L496.8 348.8M502.4 390.5L496.9 390.2M498.7 464.8L496.9 461.4M497 425.7L496.9 425.6M496.9 425.6L497.7 421.5M504.3 428.6L497 425.7M507.7 483.2L497 479.2M497 479.2L500.6 472.1M497.1 397.6L497.8 396.4M499.6 276L497.1 270M497.8 311.4L497.1 304.3M503.3 304.1L497.1 304.3M498.5 325.1L497.3 321.2M497.3 321.2L497.7 320.7M497.7 421.5L497.3 420.8M497.5 455.9L498.1 448.6M504 455.8L497.5 455.9M497.7 421.5L504.7 420M497.7 320.7L499.3 312.5M506.6 318.6L497.7 320.7M499.4 370.4L497.8 369.3M499.5 397.1L497.8 396.4M499.3 312.5L497.8 311.4M498.1 368.1L497.9 366.6M497.9 366.6L499.9 364.3M498.1 448.6L501.4 445.3M500.6 472.1L498.5 469.7M498.5 469.7L498.7 464.8M498.7 464.8L507.4 461.9M499 375.4L498.8 375.2M498.8 375.2L499.4 370.4M501.4 445.3L498.9 440.3M498.9 440.3L499.9 438M499.1 380L499 375.4M499 375.4L505.7 375.1M500 381.1L499.1 380M499.4 403.5L499.3 403.4M499.3 312.5L504.7 311M503.2 368.4L499.4 370.4M499.6 411.1L499.4 403.5M499.4 403.5L503.6 401.2M499.4 490.2L499.4 490M499.4 490L499.8 489.9M499.6 397.6L499.5 397.1M499.5 397.1L502 395.9M504.4 411.9L499.6 411.1M505 275.1L499.6 276M499.9 438L499.8 437.9M503.2 389.7L499.8 384.6M499.8 384.6L500.7 382.6M501.8 364.3L499.9 364.3M499.9 364.3L499.9 358.6M500 437.9L499.9 438M499.9 358.6L504.2 355.5M500.7 382.6L500 381.1M500 381.1L506.3 376.9M500.2 269.4L502 269M500.6 293.7L501.2 293.6M500.6 472.1L504.2 472.8M505.5 383.3L500.7 382.6M502 269L500.9 267M503.6 352.2L501.2 349.1M501.2 349.1L504.7 342.6M504.9 302L501.2 293.6M501.2 293.6L504.2 291M501.4 445.3L504.9 445.8M504.3 366.6L501.5 365.5M502.4 269.1L502 269M506.8 397.2L502 395.9M502 395.9L502.4 390.5M503.4 330.9L502.3 329M502.3 329L502.9 325.5M502.6 272.6L502.4 269.1M502.4 269.1L508.9 266.4M502.4 390.5L503.2 389.7M504.7 342.6L502.6 339.8M502.6 339.8L502.7 335.1M502.7 335.1L503 334.5M511.6 337L503 334.5M503 334.5L503.4 330.9M505.7 375.1L503.2 368.4M503.2 368.4L504.3 366.6M503.2 389.7L505.2 389.1M504.7 311L503.3 304.1M503.3 304.1L504.9 302M503.4 330.9L509.2 330.6M504.5 402.2L503.6 401.2M503.6 401.2L504.2 398.1M504.2 355.5L503.6 352.2M503.6 352.2L510.9 349M507.4 458.2L504 455.8M504 455.8L506.6 447.2M512.3 296L504.2 291M504.2 291L505 287.6M505.5 356.4L504.2 355.5M508.2 482.4L504.2 472.8M504.2 472.8L504.5 472.6M504.3 366.6L504.6 366.3M506 431.8L504.3 428.6M504.3 428.6L505 427M506.8 418.6L504.4 411.9M504.4 411.9L504.4 411.9M504.4 411.9L504.5 402.2M511.5 407.9L504.4 411.9M504.5 472.6L509.3 464.4M504.5 472.6L513.9 472.5M504.5 402.2L510.6 405.4M512.6 398.3L504.6 398.1M509.6 368.2L504.6 366.3M504.6 366.3L504.8 364.3M504.7 342.6L510.1 342.8M505 427L504.7 420M504.7 420L506.8 418.6M505.2 311.3L504.7 311M510.5 301.7L504.9 302M506.6 447.2L504.9 445.8M504.9 445.8L508 438.7M507.5 277.4L505 275.1M505 275.1L505.5 273M510.7 423.8L505 427M505 287.6L507 286M508.8 390.6L505.2 389.1M505.2 389.1L505.5 383.3M506.6 318.6L505.2 311.3M505.2 311.3L513.5 309.4M505.4 437.4L505.5 433.3M505.5 433.3L506 431.8M505.5 383.3L507.5 382.1M505.9 375.3L505.7 375.1M506.3 376.9L505.9 375.3M505.9 375.3L509.9 372.3M506 431.8L511.9 429.7M507.6 378.8L506.3 376.9M509.3 320.3L506.6 318.6M513.9 448.6L506.6 447.2M507 397.4L506.8 397.2M506.8 397.2L508.8 390.9M508 438.7L506.8 438M510.5 419.5L506.8 418.6M512.8 362.5L506.9 360.8M513.4 286.2L507 286M507 286L507.5 277.4M507.3 484.3L507.7 483.2M507.4 461.9L507.4 458.2M507.4 458.2L515.2 453.3M509.3 464.4L507.4 461.9M511.8 384.6L507.5 382.1M507.5 382.1L507.6 378.8M507.5 277.4L513.5 276.9M507.6 378.8L512.8 377.6M507.7 483.2L508.2 482.4M508 324.7L509.3 320.3M508 438.7L509.5 438.2M510.8 481.6L508.2 482.4M508.3 358L512.2 355.9M508.8 390.9L508.8 390.6M508.8 390.6L511 388.3M513.5 394.2L508.8 390.9M510.6 268.3L508.9 266.4M508.9 266.4L510.2 259.9M509.3 320.3L514.4 319M513.8 465.4L509.3 464.4M510 368.9L509.6 368.2M509.6 368.2L512.8 362.5M510.2 259.9L509.8 259.4M510.3 326.3L509.9 326.1M509.9 328L510.8 328.5M509.9 330.1L510.3 329.9M509.9 331.5L510.8 330.8M512.5 374.1L509.9 372.3M509.9 372.3L510 368.9M516.4 368.9L510 368.9M510.9 349L510.1 342.8M510.1 342.8L511.4 341.8M510.2 259.9L516.6 259M511.4 330.9L510.3 329.9M510.3 329.9L510.3 326.3M510.3 326.3L510.5 326.1M510.5 326.1L510.3 325.2M513.6 309.1L510.5 301.7M510.5 301.7L512.9 298M512.4 325.1L510.5 326.1M510.7 423.8L510.5 419.5M510.5 419.5L511.8 418.9M511.6 407.4L510.6 405.4M510.6 405.4L512.6 398.3M510.6 268.3L520.5 269.9M510.9 272.2L510.6 268.3M511.7 426.2L510.7 423.8M513.5 332.9L510.8 330.8M510.8 330.8L510.8 328.5M510.8 438.6L511.6 438.6M510.8 328.5L512.2 327.2M512.9 350.7L510.9 349M516.9 390.9L511 388.3M511 388.3L511.8 384.6M512.3 355.3L511.2 353.6M511.3 397.4L513.5 394.2M516.2 342.6L511.4 341.8M511.4 341.8L511.6 337M511.4 330.9L515.3 331.8M511.5 334.1L511.4 330.9M511.8 408.6L511.5 407.9M511.5 407.9L511.6 407.4M518.4 404.6L511.6 407.4M511.8 438.7L511.6 438.6M511.6 438.6L513.3 430.5M511.6 337L512 336.3M511.9 429.7L511.7 426.2M511.7 426.2L518.7 424.2M512 336.3L511.7 334.7M511.8 418.9L511.8 408.6M517.4 418.6L511.8 418.9M511.8 408.6L518.6 413.4M511.8 384.6L512.8 384.1M512.7 440.4L511.8 438.7M511.8 438.7L517.1 437.4M513.3 430.5L511.9 429.7M512.2 327.2L511.9 325.1M512 336.3L516 335.4M514.2 361.9L512.2 355.9M512.2 355.9L512.3 355.3M519.1 327.1L512.2 327.2M512.9 298L512.3 296M512.3 296L515.4 290.1M512.3 355.3L516.6 354.2M512.8 377.6L512.5 374.1M512.5 374.1L517.2 372.3M512.6 398.3L513.1 397.9M513.6 378.3L512.8 377.6M512.8 362.5L514.2 361.9M512.8 351.8L512.9 350.7M516.5 384.4L512.8 384.1M512.8 384.1L513.6 378.3M520.1 299.1L512.9 298M512.9 350.7L515.7 349.9M513.3 430.5L518.1 431.2M515.4 290.1L513.4 286.2M513.4 286.2L516.1 282.5M513.5 394.2L517.1 393.8M516.1 282.5L513.5 276.9M513.5 276.9L515.7 273.8M515.6 316.7L513.5 309.4M513.5 309.4L513.6 309.1M513.6 378.3L516.3 378.1M513.6 309.1L521.7 305.7M515 471L513.8 465.4M513.8 465.4L518.3 461.4M514.4 478.5L513.9 472.5M513.9 472.5L515 471M515.3 452.7L513.9 448.6M513.9 448.6L516 444.6M514.5 362L514.2 361.9M516.6 247.3L514.3 245.1M517.4 324.3L514.4 319M514.4 319L515.6 316.7M517.1 367.4L514.5 362M514.5 362L515.5 361.5M515.7 273.8L514.8 272.6M514.9 248.6L516.6 247.3M519.2 471.4L515 471M518.3 461.4L515.2 453.3M515.2 453.3L515.3 452.7M515.3 452.7L521.5 452.3M522.2 291.1L515.4 290.1M515.5 361.5L518.4 355.1M520.5 361.3L515.5 361.5M515.6 316.7L522.6 315.6M518.4 398.5L515.7 397.9M515.7 273.8L520.1 272.6M520.1 339.5L516 335.4M516 335.4L518.7 330.8M516 444.6L516 444.5M516 444.6L516 444.6M516.6 354.2L516.1 350.3M516.1 282.5L523.3 282.6M518.6 347.9L516.2 342.6M516.2 342.6L520.1 339.5M518.7 379.7L516.3 378.1M516.3 378.1L517.4 372.4M517.2 372.3L516.4 368.9M516.4 368.9L517.1 367.4M517.3 390.3L516.5 384.4M516.5 384.4L517 384.1M518.4 355.1L516.6 354.2M519.1 247.8L516.6 247.3M519.5 260.3L516.6 259M516.6 259L519.1 247.8M517.1 393.8L516.9 390.9M516.9 390.9L517.3 390.3M516.9 444.6L519.6 444.3M523.8 386.4L517 384.1M517 384.1L518.7 379.7M520.2 442.1L517.1 437.4M517.1 437.4L518.7 432.6M523 365.8L517.1 367.4M518.6 395.5L517.1 393.8M517.4 372.4L517.2 372.3M523.6 387.3L517.3 390.3M517.4 372.4L522 373.6M517.9 419L517.4 418.6M517.4 418.6L518.6 413.4M519.7 325.9L517.5 324.9M517.9 419L526.1 419.3M518.7 424.2L517.9 419M522.3 352.6L518 349M518.7 432.6L518.1 431.2M518.1 431.2L520.2 427.3M522.6 462.6L518.3 461.4M518.4 404.6L518.4 398.5M518.4 398.5L519.7 397.6M519 405.1L518.4 404.6M518.4 355.1L521.2 355.1M518.4 397.1L518.6 395.5M518.6 413.4L521.1 411.2M519.2 326.9L518.6 324.8M518.6 395.5L521.5 394.5M518.7 330.8L518.6 330.1M520.2 427.3L518.7 424.2M526.4 435.7L518.7 432.6M523.2 337L518.7 330.8M518.7 379.7L520.9 379M521.1 411.2L519 405.1M519 405.1L525.6 404.4M519.1 328.9L519.7 325.9M519.4 328.7L519.1 327.1M519.1 327.1L519.2 326.9M519.1 247.8L523.8 246.4M519.2 326.9L524.4 324.7M520.5 269.9L519.5 260.3M519.5 260.3L526 258.6M520 444.9L519.6 444.3M519.6 444.3L520.2 442.1M519.7 329.2L524.3 328.1M519.7 325.9L521.6 325M526.9 446.3L520 444.9M520.1 447.7L520 444.9M522.1 304.4L520.1 299.1M520.1 299.1L523.4 293.6M520.1 339.5L522.2 339M521.4 273.7L520.1 272.6M520.1 272.6L520.1 272.4M520.2 442.1L526.7 437.8M520.2 427.3L527 426.3M520.3 271.8L520.9 270.3M520.9 270.3L520.5 269.9M523.2 364L520.5 361.3M520.5 361.3L521.2 355.2M524.4 350.4L520.8 346.8M525.7 270.6L520.9 270.3M524.7 385.1L520.9 379M520.9 379L522.8 376.1M523.8 411.3L521.1 411.2M521.2 355.2L521.2 355.1M521.2 355.1L522.3 352.6M521.2 355.2L526.6 358.2M523.3 282.6L521.4 273.7M530.5 273L521.4 273.7M525.2 455L521.5 452.3M521.5 452.3L522.6 451M525.1 395.3L521.5 394.5M521.5 394.5L523.8 387.9M521.6 325L521.6 324.7M523.3 325.4L521.6 325M524.6 311L521.7 305.7M521.7 305.7L522.1 304.4M522.8 376.1L522 373.6M522 373.6L524.1 370.3M522.1 304.4L530.1 302.4M522.9 340.1L522.2 339M522.2 339L523.2 337M523.4 293.6L522.2 291.1M522.2 291.1L524.2 283.3M522.3 352.6L524.4 350.4M524.1 463.9L522.6 462.6M522.6 462.6L525.2 455M524 324L522.6 315.6M522.6 315.6L524.7 314M528 377.6L522.8 376.1M527.2 346.5L522.9 342.5M522.9 340.1L523.5 340.3M523 341L522.9 340.1M524 367.4L523 365.8M523 365.8L523.2 364M523.2 337L524.7 336.1M523.2 364L526.7 361M523.7 326.5L523.3 325.4M523.3 325.4L525.4 324.5M524.2 283.3L523.3 282.6M529.3 294.7L523.4 293.6M523.8 387.9L523.6 387.3M523.6 387.3L523.8 386.4M523.8 386.4L524.7 385.1M527.5 251.2L523.8 246.4M523.8 246.4L525 242.2M523.8 387.9L527.9 392M527.2 417.9L523.8 411.3M523.8 411.3L526.5 408.9M524 464.4L524.1 463.9M524.1 370.3L524 367.4M524 367.4L530.5 367M529.1 372.3L524.1 370.3M524.5 463.8L524.1 463.9M524.2 283.3L531 282.4M525.6 404.4L524.2 397.3M524.7 336.1L524.3 328.1M524.3 328.1L526.8 326.5M526 325.9L524.4 324.7M524.4 324.7L524.4 324.6M524.6 350.4L524.4 350.4M529.6 355.3L524.6 350.4M524.6 350.4L526.7 348M524.7 314L524.6 311M524.6 311L533.4 307.2M527 335.7L524.7 336.1M531.9 317.4L524.7 314M528.1 339.1L524.7 339.7M524.7 385.1L528 383.6M524.8 396.6L525.1 395.3M525.1 395.3L526.9 394.9M525.2 455L526.4 454.7M525.6 404.4L525.7 404.5M526.5 408.9L525.7 404.5M525.7 404.5L534.1 401.8M526.1 271.5L525.7 270.6M525.7 270.6L530.2 266.3M528.7 261.5L526 258.6M526 258.6L527.5 251.2M527 426.3L526.1 419.3M526.1 419.3L527.2 417.9M526.2 453.7L526.9 453.9M526.7 437.8L526.4 435.7M526.4 435.7L527.5 433.7M532.6 410.2L526.5 408.9M526.7 361L526.6 358.2M526.6 358.2L529.6 355.3M526.8 326.5L526.6 326.4M528.6 361.8L526.7 361M527 438L526.7 437.8M531.8 351.6L526.7 348M526.7 348L527.2 346.5M526.8 326.5L528 326.4M527 453.8L526.9 446.3M526.9 446.3L529.2 444M528.2 396.4L526.9 394.9M526.9 394.9L527.9 392M527.1 454.6L526.9 453.9M526.9 453.9L527 453.8M527 438L535.2 438.2M529.2 444L527 438M535.3 449.5L527 453.8M527.4 426.6L527 426.3M527.2 346.5L529.4 345.1M527.2 417.9L530.1 417M527.5 433.7L527.4 426.6M527.4 426.6L533.4 426M527.5 251.2L537.5 251.3M535.7 432.6L527.5 433.7M527.9 392L531.2 390.7M528 383.6L528 377.6M528 377.6L528.6 377.1M530.7 384.7L528 383.6M529.4 345.1L528.1 339.1M528.1 339.1L528.9 338.3M528.9 338.3L528.2 334.9M533.6 377.1L528.6 377.1M528.6 377.1L529.1 372.3M531.2 366.4L528.6 361.8M528.6 361.8L533.5 359.7M528.6 326.2L532.8 325.7M530.2 266.3L528.7 261.5M528.7 261.5L538.6 256.1M529.5 329.8L528.8 327.4M528.9 338.3L533.9 338.7M529.1 372.3L529.7 371.8M529.2 323.8L530.6 322.9M534 445.2L529.2 444M532.8 331.2L529.3 332.2M530.1 302.4L529.3 294.7M529.3 294.7L535.2 290.8M529.3 327.2L529.5 324.4M532.7 345.1L529.4 345.1M529.6 355.3L531.2 355M529.7 371.8L534.5 372.5M529.7 371.8L530.5 367M530.9 417.6L530.1 417M530.1 417L532.6 410.2M533 304.3L530.1 302.4M536.7 268L530.2 266.3M530.5 273L530.4 271.9M533.6 400.2L530.4 396.9M531.5 274.2L530.5 273M530.5 367L531.2 366.4M531.3 323.7L530.6 322.9M530.6 322.9L532.4 319M530.6 324.3L534.7 325.4M531.2 390.7L530.7 384.7M530.7 384.7L534.2 383.7M535 424.1L530.9 417.6M530.9 417.6L540.6 416.6M535.2 290.8L531 282.4M531 282.4L531.3 281.9M535.4 392.9L531.2 390.7M533.6 356.6L531.2 355M531.2 355L531.8 351.6M533.9 366.2L531.2 366.4M531.3 281.9L531.5 274.2M531.3 281.9L541.7 279.4M537.9 272.5L531.5 274.2M531.8 351.6L534.4 348.7M532.4 319L531.9 317.4M531.9 317.4L535.3 310.3M532.9 325.6L532 324.2M532.4 319L540.9 320.7M532.6 396L534.6 395.6M532.6 327.1L532.8 325.7M532.6 410.2L534.2 409.3M534.1 346.3L532.7 345.1M532.7 345.1L533.9 338.7M532.8 325.7L532.9 325.6M534.9 332.9L532.8 331.2M532.8 331.2L533 327.7M532.9 325.6L535.5 324.9M533 327.7L533 327.6M533 327.7L536.3 327.2M533.4 307.2L533 304.3M533 304.3L539.3 299.9M535.7 432.6L533.4 426M533.4 426L535 424.1M535.3 310.3L533.4 307.2M535 362.3L533.5 359.7M533.5 359.7L533.6 356.6M535.5 379.4L533.6 377.1M533.6 377.1L534.7 372.8M534.1 401.7L533.6 400.2M533.6 400.2L536.5 396.5M533.6 356.6L539.3 354.9M534.5 372.5L533.9 366.2M533.9 366.2L534.6 365.7M533.9 338.7L534.3 338.5M536.1 447.5L534 445.2M534 445.2L535.2 438.2M534.2 409.3L534.1 401.8M534.1 401.8L534.1 401.7M534.4 348.7L534.1 346.3M534.1 346.3L538.8 344.4M539 401.6L534.1 401.7M538.9 411.5L534.2 409.3M534.2 383.7L534.2 383.7M534.2 383.7L535.5 379.4M534.2 383.7L541 384.8M536.6 389.2L534.2 383.7M538.8 339.9L534.3 338.5M534.3 338.5L534.9 332.9M539.4 352.3L534.4 348.7M534.7 372.8L534.5 372.5M534.6 396L534.6 395.6M534.6 395.6L535.9 393.9M541.1 367.6L534.6 365.7M534.6 365.7L535 362.3M534.7 325.9L534.7 325.4M534.7 325.4L536.2 324.1M538.8 372.4L534.7 372.8M538.9 249.3L534.8 242M538.2 332.3L534.9 332.9M535 362.3L538.9 360.8M535 424.1L539.7 422.7M535.2 438.2L536 437.4M535.5 290.9L535.2 290.8M537 454.1L535.3 449.5M535.3 449.5L536.1 447.5M539.5 310.6L535.3 310.3M535.9 393.9L535.4 392.9M535.4 392.9L536.6 389.2M540.6 330.4L535.5 324.9M535.5 324.9L536.2 324.1M537.8 292.3L535.5 290.9M535.5 290.9L543.1 280.7M535.5 379.4L540.4 378.3M536.8 433.5L535.7 432.6M539.7 394.9L535.9 393.9M540.2 440.3L536 437.4M536 437.4L536.8 433.5M536.1 447.5L539.7 446.5M536.4 456.4L537 454.1M539.5 387.7L536.6 389.2M537.6 269.2L536.7 268M536.7 268L540.3 258.5M536.8 433.5L540.5 432.5M537 454.1L542.5 454.3M537.2 271L537.6 269.2M538.6 256.1L537.5 251.3M537.5 251.3L538.9 249.3M537.6 269.2L548.3 270.2M539.3 299.9L537.8 292.3M537.8 292.3L545.7 290.6M541.1 274.5L537.9 272.5M537.9 272.5L538 271.5M542 325.1L538.2 324M539.2 332.9L538.2 332.3M538.2 332.3L538.8 330.6M540.3 258.5L538.6 256.1M540.4 378.3L538.8 372.4M538.8 372.4L540.7 369.9M538.8 344.4L538.8 339.9M538.8 339.9L540.3 338.9M538.9 344.5L538.8 344.4M538.9 344.5L544.4 345.8M539.7 351.6L538.9 344.5M542.5 247.7L538.9 249.3M540.3 412.8L538.9 411.5M538.9 411.5L541.5 402.8M541.5 363L538.9 360.8M538.9 360.8L539.3 354.9M541.5 402.8L539 401.6M539 401.6L541.5 396.2M539.2 332.9L540.8 333M540.3 338.9L539.2 332.9M542 301.4L539.3 299.9M539.3 354.9L539.9 354.4M539.9 354.4L539.4 352.3M539.4 352.3L539.7 351.6M542 311.8L539.5 310.6M539.5 310.6L542 301.4M542 391.2L539.5 387.7M539.5 387.7L541 384.8M542.5 429.4L539.7 422.7M539.7 422.7L540.9 420.7M544.5 346.1L539.7 351.6M542.6 447.2L539.7 446.5M539.7 446.5L540.2 440.3M540.3 395.6L539.7 394.9M539.7 394.9L542 391.2M539.8 331L542.1 330.7M539.8 331L540.6 330.4M544.9 355.7L539.9 354.4M540.2 440.3L545 437.9M540.3 258.5L548.2 260M540.7 416.1L540.3 412.8M540.3 412.8L546.8 408.6M543.4 338.9L540.3 338.9M541 378.6L540.4 378.3M545 437.9L540.5 432.5M540.5 432.5L542.5 429.4M540.6 330.4L544.2 330.1M540.9 420.7L540.6 416.6M540.6 416.6L540.7 416.1M549.7 416L540.7 416.1M540.7 369.9L544.6 373.9M540.7 369.9L541.1 367.6M540.9 420.7L548.1 422.2M542.3 323.2L540.9 320.7M540.9 320.7L542.5 317M542.1 384.2L541 378.6M541 378.6L543.4 377.6M541 384.8L542.1 384.2M541.7 279.4L541.1 274.5M541.1 274.5L545.8 271.2M541.1 367.6L541.7 367.1M541.7 367.1L541.5 363M541.5 363L545.6 358M545.6 402.9L541.5 402.8M543.1 280.7L541.7 279.4M544.7 367L541.7 367.1M542.5 454.3L541.7 457.3M542 391.2L544.4 389.8M542.5 317L542 311.8M542 311.8L548.2 308.9M546.5 301.9L542 301.4M542.3 325.4L542 325.1M542 325.1L542 323.8M544.7 385.4L542.1 384.2M542.8 331.3L542.1 330.7M542.1 330.7L542.3 325.4M542.3 325.4L547.8 323.5M547.7 248.6L542.5 247.7M542.5 247.7L543 241.5M551.9 316.7L542.5 317M542.5 454.3L543.5 453.7M542.5 429.4L547 429.2M544 451.9L542.6 447.2M547.7 444.3L542.6 447.2M543.7 335L542.8 331.3M542.8 331.3L549.6 329.7M543.1 280.7L545.8 281.9M545 343L543.4 338.9M543.4 338.9L545 337.2M546.9 378.8L543.4 377.6M543.4 377.6L544.6 373.9M543.9 323.9L543.6 323.7M544.2 330.1L543.9 323.9M544.2 323.7L543.9 323.9M546.3 331.9L544.2 330.1M548.4 393.6L544.4 389.8M544.4 389.8L545.1 386M544.5 346.1L544.4 345.8M544.4 345.8L545 343M546.9 347.9L544.5 346.1M544.6 373.9L547.8 372.7M545.1 386L544.7 385.4M544.7 385.4L547 382.1M547.8 372.7L544.7 367M544.7 367L546.1 366.3M544.8 336.1L546.1 334.3M545.6 358L544.9 355.7M544.9 355.7L545.8 354.8M545 337.2L544.9 337.1M545 337.2L545 337.2M551.2 341L545 343M547.6 438.7L545 437.9M550.5 336.5L545.1 336.4M545.1 386L551.8 387.5M546.4 358.8L545.6 358M546.8 408.6L545.6 402.9M545.6 402.9L545.9 402.5M546.6 291.1L545.7 290.6M545.7 290.6L545.8 281.9M545.8 281.9L548.7 280.7M545.8 354.8L546.9 347.9M550.8 354L545.8 354.8M545.9 402.5L546.2 395.8M545.9 402.5L555 401.7M551.9 340.1L546.1 334.3M546.1 334.3L546.3 331.9M546.1 366.3L546.4 358.8M550.7 366L546.1 366.3M546.3 331.9L550.6 330.5M546.4 358.8L552.2 361.2M548.2 308.9L546.5 301.9M546.5 301.9L550.3 297.8M550.3 297.8L546.6 291.1M546.6 291.1L556.2 286.6M548.4 409.4L546.8 408.6M548.7 280.7L546.9 271.1M546.9 347.9L549.5 347.5M547 382.1L546.9 378.8M546.9 378.8L551.2 376.8M551.4 382.8L547 382.1M549.2 431.3L547 429.2M547 429.2L548.8 424.2M547.7 444.3L547.6 438.7M547.6 438.7L549.9 436.8M549.7 445.7L547.7 444.3M550.4 257.6L547.7 248.6M547.7 248.6L552.7 245M547.7 395.1L548.4 393.6M547.8 372.7L551.5 373.6M548.8 424.2L548.1 422.2M548.1 422.2L551.5 417.7M549.4 268.9L548.2 260M548.2 260L550.4 257.6M549.2 309.5L548.2 308.9M548.3 270.5L548.3 270.2M548.3 270.2L549.4 268.9M548.4 393.6L549.9 392.6M549.7 416L548.4 409.4M548.4 409.4L554.4 408.3M554 280.5L548.7 280.7M555.7 426.2L548.8 424.2M549.9 436.8L549.2 431.3M549.2 431.3L555.2 428.2M552.1 316.4L549.2 309.5M549.2 309.5L558.1 305.9M555.3 268.4L549.4 268.9M550.1 347.9L549.5 347.5M549.5 347.5L551.8 342.3M550.5 336.5L549.6 329.7M549.6 329.7L550 329.2M550.4 323.9L549.6 323.5M551.5 417.7L549.7 416M556.1 437.3L549.9 436.8M553.2 394.7L549.9 392.6M549.9 392.6L552 388.3M555.2 331.1L550 329.2M550 329.2L550.4 323.9M556.2 298L550.3 297.8M550.4 257.6L556.2 256.8M550.4 323.9L552.2 323.3M551.8 337.4L550.5 336.5M550.5 322.4L551.9 316.7M554.8 336.5L550.6 330.5M550.6 330.5L552 329M553.1 371.9L550.7 366M550.7 366L551.7 364.2M555.6 277.1L551.2 271.7M551.4 377.2L551.2 376.8M551.2 376.8L551.5 373.6M551.8 342.3L551.2 341M551.2 341L551.2 340.8M551.9 395.7L551.2 395.4M551.2 340.1L551.8 337.4M552.5 356.8L551.3 354.3M552.7 385.1L551.4 382.8M551.4 382.8L551.4 377.2M551.4 377.2L556.6 379.7M551.5 417.7L554.8 417.6M551.5 373.6L553.1 371.9M551.7 364.2L555 365.3M551.7 364.2L552.2 361.2M551.8 337.4L556.8 335.8M551.8 342.3L552.2 342.5M552 388.3L551.8 387.5M551.8 387.5L552.7 385.1M551.9 316.7L552.1 316.4M555 401.7L551.9 395.7M551.9 395.7L552.3 395.4M552.7 245L552 240.4M552 388.3L555.7 390M557.9 329.8L552 329M552 329L552.2 323.4M552.1 316.4L558.1 316.1M554.2 351.3L552.1 349.8M552.2 361.2L553.7 360M552.4 339.6L554.8 336.5M555.1 349.6L552.5 349M557.7 247L552.7 245M556 383.5L552.7 385.1M554.4 371.8L553.1 371.9M556.2 286.6L554 280.5M554 280.5L555.3 278.5M556.1 343.7L554.1 343.2M554.4 353.2L554.2 351.3M554.2 351.3L558.1 348.8M555.2 417.2L554.4 408.3M554.4 408.3L555.3 407.4M554.5 342.9L557.7 343.6M557 424.8L554.8 417.6M554.8 417.6L555.2 417.2M558 335.9L554.8 336.5M556.1 402.3L555 401.7M556.8 354.1L555.1 349.6M555.1 349.6L557.5 346.3M561.1 415.8L555.2 417.2M557.8 433.6L555.2 428.2M555.2 428.2L555.7 426.2M556.8 335.8L555.2 331.1M555.2 331.1L557.6 327M556.3 270.1L555.3 268.4M555.3 268.4L559.4 265.7M565.4 280.8L555.3 278.5M555.3 278.5L555.6 277.1M560.1 409.8L555.3 407.4M555.3 407.4L556.1 402.3M557 394.3L555.5 394.5M555.6 277.1L558.6 273.8M555.7 426.2L557 424.8M557.7 393.4L555.7 390M555.7 390L559.6 386.7M558.5 384.6L556 383.5M556 383.5L556.6 379.7M556.1 402.3L559.5 400.8M557.5 346.3L556.1 343.7M556.1 343.7L558.5 338.2M556.4 437.7L556.1 437.3M556.1 437.3L557.8 433.6M556.2 369.4L557.3 367.1M556.2 286.6L557.6 287.9M558.1 305.9L556.2 298M556.2 298L557.7 296.6M558.7 258.4L556.2 256.8M556.2 256.8L557.7 247M556.4 437.7L558.5 438.1M556.5 438.1L556.4 437.7M556.6 354.3L556.8 354.1M556.6 379.7L559.8 377.8M556.8 354.1L561.5 353.9M558.4 336.4L556.8 335.8M562.3 424.9L557 424.8M557 394.4L557 394.3M557 394.3L557.7 393.4M557.6 327L557.2 323.1M561.9 346.2L557.5 346.3M557.7 296.6L557.6 287.9M557.6 287.9L563.3 286.6M562.6 330.8L557.6 327M565.4 296.7L557.7 296.6M558.8 344.7L557.7 343.6M557.7 343.6L559.4 336.7M557.7 247L561.3 246.1M562.8 393.3L557.7 393.4M557.8 433.6L558.5 433.4M558 335.9L557.9 329.8M557.9 329.8L558.8 329.2M559.4 336.7L558 335.9M560.2 307.7L558.1 305.9M560.5 318.5L558.1 316.1M558.1 316.1L560.2 307.7M558.6 273.8L558.1 271.2M558.8 329.2L558.1 323.1M563 355L558.1 348.8M558.1 348.8L558.5 348.2M559.8 377.8L558.2 375.5M558.5 338.2L558.4 336.4M558.4 336.4L561 335.3M559.6 386.7L558.5 384.6M558.5 384.6L563 380.2M562.6 348.9L558.5 348.2M558.5 348.2L558.8 344.7M561.5 342.6L558.5 338.2M566.6 273.1L558.6 273.8M559.4 265.7L558.7 258.4M558.7 258.4L567.5 255.7M558.8 344.7L561.4 344M563.1 329.2L558.8 329.2M566.4 268.2L559.4 265.7M561.1 336.7L559.4 336.7M562.8 401.6L559.5 400.8M559.5 400.8L559.6 394.9M561.5 387.5L559.6 386.7M559.8 234.4L560.4 234.3M561.8 378L559.8 377.8M560.4 234.3L559.9 229M561.1 415.8L560.1 409.8M560.1 409.8L562.7 408.5M560.1 225.9L566.1 223M560.1 356.7L563 355M560.2 307.7L565.6 307.5M564.3 327.9L560.3 322.9M560.3 322.5L565.3 323.5M564.7 236.2L560.4 234.3M560.4 321.9L560.5 318.5M568 316.4L560.5 318.5M563.8 416.8L561.1 415.8M564.7 248.8L561.3 246.1M561.3 246.1L564.7 236.2M563.5 359L561.5 353.9M561.5 353.9L562.8 352.4M563.3 389.9L561.5 387.5M564.2 382.2L561.5 387.5M563 426.7L562.3 424.9M562.3 424.9L563.1 423.8M568 411.7L562.7 408.5M562.7 408.5L563.7 404.5M565 352.9L562.8 352.4M562.8 352.4L563.1 349.7M563 380.2L562.8 379M563 393.6L562.8 393.3M562.8 393.3L563.3 389.9M562.9 394L563 393.6M563 355L563.5 354.9M564.2 382.2L563 380.2M563.7 401L563 400.1M564.1 393.9L563 393.6M563.1 423.8L563.4 420.7M563.1 423.8L566 423.7M563.1 330.3L564.3 327.9M563.6 329.8L563.1 329.2M563.1 329.2L565.3 323.5M563.1 359.7L563.5 359M563.3 389.9L567.6 387.2M565.3 288.2L563.3 286.6M563.3 286.6L565.4 280.8M564.3 217.1L563.4 217.1M564.6 355.9L563.5 354.9M563.5 354.9L564.8 352.6M563.5 401.6L563.7 401M563.5 359L567.2 358.8M563.7 418.3L563.8 416.8M563.7 401L567.9 400.9M566.8 415.6L563.8 416.8M567.4 384.1L564.2 382.2M564.3 327.9L568.3 325.6M565.8 435.8L564.3 433.6M566.1 223L564.3 217.1M564.3 217.1L569.2 210.2M566.3 356L564.6 355.9M566.5 362.1L564.6 355.9M564.7 236.2L568 235.3M564.7 437.2L565.8 435.8M567.5 255.7L564.7 248.8M564.7 248.8L574.7 243.1M566.5 362.1L565.1 362M565.6 323.3L565.2 322.3M565.3 323.5L565.6 323.3M565.3 288.2L575 288.4M565.4 296.7L565.3 288.2M568.6 324.3L565.3 322.3M565.4 280.8L567.9 278.8M568 298L565.4 296.7M567.9 323L565.6 323.3M567.7 309.2L565.6 307.5M565.6 307.5L568 298M570.1 436.3L565.8 435.8M566.1 223L571.1 227.1M566.2 270L566.4 268.2M566.4 268.2L568.5 266.6M568.3 395.6L566.5 394.4M567.1 362.7L566.5 362.1M567.9 278.8L566.6 273.1M566.6 273.1L567.8 270.5M570.2 420.2L566.8 415.6M566.8 415.6L568 414M566.8 399.4L568.3 395.6M566.9 365.2L567.1 362.7M567.1 362.7L567.9 362.2M567.6 387.2L567.4 384.1M567.4 384.1L568.8 383.1M568.3 256.1L567.5 255.7M569.2 388.1L567.6 387.2M568.9 314.3L567.7 309.2M567.7 309.2L574.5 306.5M569.6 404.2L567.9 400.9M567.9 400.9L568.3 399.5M574.3 281.9L567.9 278.8M569.4 324.3L567.9 323M567.9 323L568.3 322.1M574.2 240.2L568 235.3M568 235.3L571.1 227.1M570.1 321.4L568 316.4M568 316.4L568.9 314.3M577 415.1L568 414M568 414L568 411.7M574.9 296.3L568 298M568 411.7L569.9 408.1M568.3 395.6L570.3 394.6M568.5 266.6L568.3 256.1M568.3 256.1L576.8 254.2M568.3 393.7L570.7 391.9M575.3 267.5L568.5 266.6M568.7 324.7L568.6 324.3M568.6 324.3L570.2 322M575.7 314.6L568.9 314.3M569.2 210.2L569 209.8M571.9 335.6L569.1 334M574.9 212.4L569.2 210.2M570.7 391.9L569.2 388.1M569.2 388.1L574.6 385.8M571.2 335.5L570 335.6M570.1 437.6L570.1 436.3M570.1 436.3L570.6 435.9M570.3 394.6L573.6 395.6M570.3 394.6L570.3 394.1M570.8 436L570.6 435.9M570.6 435.9L572.3 431.7M573.3 392.5L570.7 391.9M571.1 227.1L575.8 225M573.4 397.5L571.2 397.8M572.8 336.4L571.2 335.5M571.2 335.5L572.8 328.8M571.5 336.7L571.9 335.6M576.9 342.8L571.8 342.4M571.8 324.9L575.1 322.6M575.1 333.7L571.9 335.6M571.9 342L575.6 341.4M572 348.8L577.2 348.6M577.1 346.9L572 346.9M572.8 328.8L572.3 328.4M572.4 328.3L573.9 328.8M572.4 338.8L572.8 336.4M572.8 328.8L575.8 329.3M576.5 336.6L572.8 336.4M572.8 356.3L579.3 351.2M577.1 353.8L573.2 353M574.1 393.3L573.3 392.5M573.3 392.5L575.2 386.2M574.8 399.9L573.4 397.5M573.4 397.5L573.9 396.1M574.8 360.8L573.5 359.8M575.1 333.7L573.9 328.8M573.9 328.8L573.9 328.8M573.9 328.8L575.1 323M573.9 328.8L575.7 328.1M576.1 271.9L574 270.1M574.7 243.1L574.2 240.2M574.2 240.2L584.9 233.6M574.3 402.8L574.8 399.9M575.4 287.5L574.3 281.9M577.8 278L574.3 281.9M576.9 308.2L574.5 306.5M574.5 306.5L575.1 296.6M574.9 361.6L574.5 361.6M574.7 361.8L574.8 360.8M576.9 246.6L574.7 243.1M574.8 399.9L579.8 398.6M574.8 377.8L574.8 377M576.9 360.7L574.8 360.8M575.1 296.6L574.9 296.3M574.9 296.3L575 288.4M575.2 386.2L574.9 385.9M575.8 225L574.9 212.4M574.9 212.4L578.8 211.3M575.1 361.9L574.9 361.6M574.9 361.6L575.1 361.5M575 288.4L575.4 287.5M575.1 296.6L582.6 298.7M575.1 361.5L577.1 353.8M580.9 360.3L575.1 361.5M575.8 334L575.1 333.7M575.2 386.2L575.4 386.4M575.3 420.2L577 415.1M576 269.4L575.3 267.5M575.3 267.5L579.1 263.4M575.4 375.1L575.9 374.4M575.4 287.5L583 287M577 344.9L575.6 341.4M575.6 341.4L576.8 340.5M575.9 374.4L575.7 373.9M576.9 320.2L575.7 314.6M575.7 314.6L578 312.5M575.7 323.2L578.7 321.6M582.2 226.8L575.8 225M576.5 336.3L575.8 334M575.8 334L576.3 333.9M578.6 374.2L575.9 374.4M577.8 278L576.1 271.9M576.1 271.9L578.7 270.8M576.3 407.9L576.2 407M578.8 371.2L576.2 372.4M578.4 331.7L576.7 331.5M579.1 263.4L576.8 254.2M576.8 254.2L577 253.9M578 312.5L576.9 308.2M576.9 308.2L584.7 303.9M577 253.9L576.9 246.6M576.9 246.6L586.3 244.1M577.5 361.1L576.9 360.7M576.9 360.7L581.8 354.9M577 415.1L577.4 414.8M588.2 253.9L577 253.9M577.1 353.8L579.2 353M577.3 338.9L581.1 338.7M577.4 414.8L577.3 413.9M580.2 415.1L577.4 414.8M581.8 346.5L577.7 346.8M577.7 368.6L578.2 368.6M579.5 277.9L577.8 278M583.3 313.7L578 312.5M578.3 368.1L578.2 367.8M578.8 371.2L578.2 368.6M578.2 368.6L578.3 368.1M580.9 366L578.3 368.1M581.1 338.7L578.4 331.7M578.4 331.7L580.7 330.2M579.2 353L578.4 349.6M579.2 371.6L578.8 371.2M585.8 216.1L578.8 211.3M578.8 211.3L584.4 201.8M578.8 366.9L579.8 366.7M579.3 351.2L579.1 349.5M585.2 264.9L579.1 263.4M581.3 353.5L579.2 353M581.8 354.9L579.3 351.2M585.2 280.7L579.5 277.9M579.5 277.9L581.5 275.8M579.8 366.7L579.7 365.7M580.4 367.2L579.8 366.7M580.5 273L585.8 272.3M580.7 325.2L582.8 324M581.7 339.2L581.1 338.7M581.2 362.4L582.9 362.2M582 360L581.3 353.5M581.3 353.5L582.7 352.9M582 360L581.5 360.2M582.6 345.5L581.7 339.2M581.7 339.2L583.9 337.7M585.4 356.2L581.8 354.9M582.4 348.4L581.8 346.5M581.8 346.5L582.6 345.5M584.4 201.8L582 200.1M583.4 361.5L582 360M584.9 233.6L582.2 226.8M582.2 226.8L583.5 225.2M587.3 344.8L582.6 345.5M587.1 353.5L582.7 352.9M582.7 352.9L583.5 348.9M586.6 329.3L582.8 324M582.8 324L584.3 321.1M584.7 288.2L583 287M583 287L585.2 280.7M587.2 297.9L583.2 298.5M583.9 314.4L583.3 313.7M583.3 313.7L585.1 304.4M584.3 321.1L583.4 318.6M583.4 361.6L583.4 361.5M583.4 361.5L583.6 361.4M583.5 225.2L585.8 216.1M597.2 222.7L583.5 225.2M583.7 317.5L583.9 314.4M585.3 293.9L583.8 293.3M583.9 314.4L587.5 313.9M590.2 322.3L584.3 321.1M584.4 201.8L587.7 201.4M586.1 234.3L584.9 233.6M584.9 303.3L586.7 302.5M592.1 316.9L585.1 317.1M585.8 272.3L585.2 264.9M585.2 264.9L588.3 262.8M585.2 280.7L585.5 280.6M587.2 297.9L585.3 293.9M585.3 293.9L589.2 290.5M585.9 357.3L585.4 356.2M585.4 356.2L587 354M588.9 275.3L585.8 272.3M587.9 287.1L585.8 286.4M585.8 216.1L593.1 213.9M586.1 348.5L587.3 348.5M586.3 244.1L586.1 234.3M586.1 234.3L590.2 234.2M586.2 280.4L588.1 278.9M589.4 247.2L586.3 244.1M590.1 305.3L586.7 302.5M586.7 302.5L587.5 298.2M586.8 282.1L587 281.9M589.1 328.9L587 329.5M587.5 298.2L587.2 297.9M587.5 298.2L593.4 297M589.4 202.2L587.7 201.4M587.7 201.4L588.1 199.4M589.2 290.5L587.9 287.1M587.9 287.1L591.3 284.2M592.7 283L588.1 278.9M588.1 278.9L588.9 275.3M588.2 314L592.2 316.9M588.3 262.8L588.2 253.9M588.2 253.9L588.4 253.8M595.7 265.3L588.3 262.8M597.4 255.4L588.4 253.8M588.4 253.8L589.4 247.2M588.9 275.3L594.5 272.8M591.8 330.3L589.1 328.9M589.1 328.9L590.3 322.4M592.2 291.4L589.2 290.5M593.1 213.9L589.4 202.2M589.4 202.2L601.8 199.6M589.4 247.2L596.1 244.3M589.9 308.7L590.1 305.3M590.1 305.3L594.3 303.4M594.4 236.4L590.2 234.2M590.2 234.2L597.2 222.7M590.3 322.4L590.2 322.3M590.2 322.3L592.1 316.9M590.3 322.4L595.3 323.9M593.6 311.4L590.8 309.8M591.3 335L591.8 334.9M591.8 334.9L591.8 330.3M591.8 330.3L596.4 328.7M592 335.1L591.8 334.9M592.1 316.9L592.2 316.9M592.2 316.9L594.1 315.7M593.9 296L592.2 291.4M592.2 291.4L593.7 289.6M592.4 284L592.7 283M597.3 283.2L592.7 283M593.7 289.6L593.1 285.1M596.8 215.9L593.1 213.9M595.5 302.2L593.4 297M593.4 297L593.9 296M594.1 315.7L593.6 311.4M593.6 311.4L595.8 309.9M593.7 289.6L598 289.2M593.9 296L598 294.7M598 317.4L594.1 315.7M595.8 309.9L594.3 303.4M594.3 303.4L595.5 302.2M597 243.4L594.4 236.4M594.4 236.4L604.1 231.1M597.3 274.8L594.5 272.8M594.5 272.8L596.1 265.8M596.7 328.3L595.3 323.9M595.3 323.9L598 320.9M598.7 302.8L595.5 302.2M596.1 265.8L595.7 265.3M595.7 265.3L597.4 255.4M595.8 309.9L601 309.2M602.5 265.7L596.1 265.8M597.5 255.4L596.1 244.3M596.1 244.3L597 243.4M598.1 222L596.8 215.9M596.8 215.9L600.9 212.4M605.2 244.3L597 243.4M597.2 222.7L598.1 222M605.1 275.3L597.3 274.8M597.3 283.2L597.3 274.8M599.3 284.7L597.3 283.2M597.4 255.4L597.5 255.4M597.5 255.4L603.2 254.7M600.4 322.3L598 320.9M598 320.9L598 317.4M601.4 297.1L598 294.7M598 294.7L599.2 291.2M599.2 291.2L598 289.2M598 289.2L598.3 287.8M598 317.4L599.7 316.4M604.1 226.2L598.1 222M601 309.2L598.7 302.8M598.7 302.8L601 300.9M599.2 287.6L599.8 287M599.2 291.2L602.5 291M599.8 287L599.3 284.7M599.3 284.7L605 279.6M600 316.5L599.7 316.4M599.7 316.4L601.6 309.6M603.7 289.9L599.8 287M602 317.9L600 316.5M600 316.5L602.4 315.9M604 212.9L600.9 212.4M600.9 212.4L603.5 200.8M601.6 309.6L601 309.2M601.8 199.6L601.5 197.8M601.6 309.6L603.4 309.4M603.5 200.8L601.8 199.6M607.1 273.1L602.5 265.7M602.5 265.7L605.5 261.7M604.9 297.5L603.1 295.9M605.5 261.7L603.2 254.7M603.2 254.7L606.6 250.7M603.5 200.8L604.5 200.8M603.7 289.9L603.7 289.9M603.7 289.9L603.8 289.8M604.1 231.1L604.1 226.2M604.1 226.2L605 225.8M607.3 236L604.1 231.1M607.6 282.1L605 279.6M605 279.6L605.1 275.3M605.1 275.3L607.1 273.1M605.1 297.4L608.1 294M605.4 244.7L605.2 244.3M605.2 244.3L607.3 236M606.6 250.7L605.4 244.7M605.4 244.7L609.1 244.3M608.7 262.1L605.5 261.7M605.6 215.5L610.4 214.1M607.5 206.5L605.7 206.1M611.1 223.4L606.2 222.7M606.4 231.6L612.2 228M609.2 251.7L606.6 250.7M606.7 197.7L609.3 196.9M607.1 273.1L608.1 272.9M608.8 235.9L607.3 236M609.7 208.1L607.5 206.5M607.5 206.5L612.2 197.4M607.7 287.1L611.7 285.4M608.1 294L607.7 292M615.7 294.1L608.1 294M611.1 279.4L608.4 279.3M608.9 269.2L609.3 269.2M610.7 270.4L609.3 269.2M609.3 269.2L610.1 264M612.2 260.8L609.4 259.9M614.3 238.9L609.5 238.6M611.4 212.3L609.7 208.1M609.7 208.1L617.8 202.3M609.8 252.3L611.1 251.8M612.3 221.4L610.4 214.1M610.4 214.1L611.4 212.3M611.1 251.8L610.6 248.8M610.7 270.4L619.3 270.5M611.1 279.4L610.7 270.4M612.2 228L611.1 223.4M611.1 223.4L612.3 221.4M612 252.3L611.1 251.8M613.2 281L611.1 279.4M612.2 197.4L611.2 196.7M611.4 212.3L618.9 212.3M611.6 263.4L612.2 260.8M613.4 259.4L612 252.3M612 252.3L618.8 251M615.8 230.4L612.2 228M612.2 260.8L613.4 259.4M612.2 197.4L615.1 197.9M620.4 219.7L612.3 221.4M612.9 284.8L613.2 281M618.9 278.6L613.2 281M613.4 259.4L619.9 260.2M614.2 247.8L615.8 246.2M614.4 239L614.3 238.9M614.3 238.9L615.8 230.4M615.8 246.2L614.4 239M614.4 239L621.5 238.2M617.7 200.5L615.1 197.9M615.1 197.9L615.8 196.2M615.7 294.1L615.2 288.4M615.9 294.3L615.7 294.1M620.3 246.8L615.8 246.2M615.8 230.4L621.9 228.9M620.5 268.9L617.5 263.7M617.8 202.3L617.7 200.5M617.7 200.5L626.4 196.3M619.8 205.3L617.8 202.3M621 258.3L618.8 251M618.8 251L619.7 250M620.1 213.6L618.9 212.3M618.9 212.3L619.8 205.3M620.6 281.5L618.9 278.6M618.9 278.6L619.7 277.6M619.7 250L618.9 248M619.7 277.6L619.3 270.5M619.3 270.5L620.5 268.9M627.6 277.8L619.7 277.6M619.7 250L623.6 249M626.3 205.5L619.8 205.3M620.5 262.9L619.9 260.2M619.9 260.2L621 258.3M620.4 219.7L620.1 213.6M620.1 213.6L627.3 212M621 247.2L620.3 246.8M620.3 246.8L622.1 242.9M621.3 220.7L620.4 219.7M620.5 268.9L625.2 267.7M621 258.3L626.3 257.3M621.9 228.9L621.3 220.7M621.3 220.7L624.7 220.2M621.9 238.5L621.5 238.2M621.5 238.2L621.7 235.6M622.4 229.2L621.9 228.9M622.1 232.2L622.4 229.2M623.6 229.4L622.4 229.2M623.3 290.6L623.3 285.9M625.8 250.3L623.6 249M623.6 249L624 247.6M623.8 238L628.1 237.4M628 227.8L624.3 227.7M626.3 268.2L625.2 267.7M625.2 267.7L625.3 263.3M626.3 257.3L625.8 250.3M625.8 250.3L633.8 250.1M625.8 217.7L626.8 217.7M627.9 206.7L626.3 205.5M626.3 205.5L626.4 196.3M628.8 258.6L626.3 257.3M628.4 277L626.3 268.2M626.3 268.2L634.9 266.9M626.4 196.3L627.4 195.1M626.8 217.7L626.6 215.3M626.8 217.7L627.5 218.2M627.1 262.6L628.8 258.6M627.4 195.1L627.4 195M627.4 195.1L631.6 195.8M629.2 226.2L627.5 218.2M627.5 218.2L634.8 215.2M627.5 211.3L627.9 206.7M627.7 280.1L627.6 277.8M627.6 277.8L628.4 277M627.9 206.7L629.6 206.1M628.8 236.5L628 227.8M628 227.8L629.2 226.2M629.6 246.5L628.1 237.4M628.1 237.4L628.8 236.5M636.1 276.2L628.4 277M631.3 284.4L628.7 284.3M628.8 258.6L634.1 258M628.8 236.5L638.7 236.9M629.2 226.2L638 225.7M634.5 207.8L630 206.7M632.3 286.9L631.3 284.4M631.3 284.4L632.1 283.2M631.7 196.3L631.6 195.8M631.6 195.8L631.8 195.7M632.3 196.7L634.4 195.9M634.1 249.3L633.6 246.7M635.2 256L633.8 250.1M633.8 250.1L634.1 249.3M635 262.2L634.1 258M634.1 258L635.2 256M641.1 247.4L634.1 249.3M635.5 196.8L634.4 195.9M634.4 195.9L635.4 187.9M634.8 215.2L634.5 207.8M634.5 207.8L639 205.1M636.1 216L634.8 215.2M635.6 267.8L634.9 266.9M634.9 266.9L635.1 262.7M635.4 187.9L634.9 187.7M635.2 256L644.2 255.9M635.4 187.9L638.4 186.9M639 205.1L635.5 196.8M635.5 196.8L641.4 196M635.6 267.8L637.2 273.7M637.9 267.3L635.6 267.8M638.4 225.3L636.1 216M636.1 216L644 214.4M636.3 277L636.1 276.2M636.1 276.2L637.2 273.7M637.2 273.7L638.3 273.7M638.7 236.8L638 225.7M638 225.7L638.4 225.3M638.4 264.1L639.1 262.4M640.6 269L638.4 265.6M643.6 224.5L638.4 225.3M638.6 245L640.6 242.2M638.7 269.4L640.6 269M640.6 242.2L638.7 236.9M638.7 236.9L638.7 236.8M638.7 236.8L647.1 232.9M638.9 274.5L639.7 274.4M642.8 205.8L639 205.1M639.5 262.4L643.7 263.6M640 275.5L639.7 274.4M639.7 274.4L640.9 273.3M640.9 273.3L640.6 269M640.6 269L640.6 269M640.6 269L642.7 268.1M640.6 242.2L644.4 243.2M643.5 274.3L640.9 273.3M644.2 255.9L641.1 247.4M641.1 247.4L643.6 244.6M644.4 191.6L641.2 191.2M644.7 269.1L642.7 268.1M642.7 268.1L643.7 263.8M642.9 202.6L645.3 192.7M643.6 244.6L643.4 244.1M651 247.2L643.6 244.6M646.5 226.2L643.6 224.5M643.6 224.5L644.6 218M643.9 261.4L644.3 256M644.3 256L644.2 255.9M644.3 256L648.9 254.6M651.8 265.8L644.4 264.2M645.3 192.7L644.4 191.6M644.4 191.6L645.4 179.8M645.6 272.8L644.7 269.1M644.7 269.1L646.3 268.8M644.9 273.7L645.6 272.8M645.1 217.2L665 216.1M664.1 194.4L645.3 192.7M646.5 272.9L645.6 272.8M650.2 234.5L646.8 224.9M649.2 241.6L647.1 232.9M647.1 232.9L647.2 232.7M648.8 233.2L647.2 232.7M647.2 232.7L647.4 230.3M652.2 267.2L648.3 270.4M648.7 169.5L655.8 167.4M653.1 261.8L648.9 254.6M648.9 254.6L649.4 253.8M650.7 249.3L651 247.2M651 247.2L651.1 247.2M651.1 247.2L651.2 241.4M652.3 247L651.1 247.2M652.2 267.2L651.8 265.8M651.8 265.8L653.1 261.8M653.8 268.7L652.2 267.2M653.1 261.8L656 260.8M662.4 152.3L655.7 144.5M666.7 176.4L655.8 167.4M655.8 167.4L662.4 152.3M660.3 266.9L661.2 264.9M662.4 152.3L677 151.1M665.9 196.3L664.1 194.4M664.1 194.4L666.7 176.4M665.8 215.5L666.4 215M666.4 215L665.9 196.3M665.9 196.3L685.4 193.4M666.9 215L666.4 215M680.3 172.3L666.7 176.4M669.1 265.1L668.1 262.9M680.3 172.3L677 151.1M677 151.1L681.7 147M681.2 172.8L680.3 172.3M681.7 147L680.9 137M687.3 189.5L681.2 172.8M681.2 172.8L691.1 169.8M684.8 147.8L681.7 147M687.4 197.9L685.4 193.4M685.4 193.4L687.3 189.5M702.2 185L687.3 189.5" fill="none" stroke="#000" stroke-width="0.7" stroke-linejoin="round"/>
<path d="M193.1 161.1L192.5 161.1L190 161.1L232.1 167.8M231.8 117.4L231.8 116.8L231.8 115.5L232.5 129.3L233.3 144.6L233.6 158.4L232.1 167.8L230.1 170.9L227.2 174.9L228.2 179L231.3 182.8L230.5 195.1L229 208.8L226.7 223.4M226.7 223.4L266.5 229.5L311.6 235.1M226.7 223.4L223.6 227.2L223.3 231.8L221.4 236.4L219.8 240.9L220.6 244L220 246.3L219.8 250.9L222.7 250.2L223.3 250M306.3 160.6L306.3 160L306.2 159.9L301.6 161.4L300.9 172.1L297.1 175.9L292.5 179.8L290.2 184.4L291.7 190.5L290.2 198.1L289.4 204.2L295.5 209.6L302.4 215.7L306.2 221.1L310.8 227.2L311.6 235.1L313.1 240.9L312.4 244L312.3 244L311.7 244.1M193.1 232.8L192.5 232.8L190 232.8L196.1 234L202.2 234.8L209.9 235.5L215.2 238.6L219.8 242.4M219.8 242.4L222.1 247.8L224.4 256.9L225.9 264.6L227.5 272.2L226.7 279.9L225.9 286L227.9 291.8L229.8 298.2L232.8 304.4L235.9 308.2L239.7 309.7L238.9 313.5L235.9 316.6L237.4 321.2L240.5 325L242.8 325.8M193.1 298.7L192.5 298.7L190 298.7L233.6 305.1L233.5 305.2L233 305.6M242.8 325.8L241.2 341.1L238.9 364L237.4 363.8L236.8 363.7M227.9 291.8L258.8 295.2L297.1 299.8L300.1 303.6L301.3 306.2M309.8 226.8L310.2 226.4L312.4 224.8L310.8 234L312.4 240.1L311.6 244.7L313.9 249.3L320 255.4L318.5 256.5L318 256.9M315.1 279.5L314.6 279.9L312.4 281.4L310.1 284.5L309.3 290.6L307.8 296.7L303.2 301.3L301.3 306.2L300.1 312L301.6 319.6L306.2 325.8L310.8 331.9L312.4 338L316.9 340.3L319.2 339.5L319.8 339.4M310.9 234.1L311.5 234.1L312.3 234L311.5 240.1L313.1 247.8L317.6 255.4L322.2 261.5L325.3 267.6L324.5 273.8L320.7 278.4L314.6 279.9L312.4 281.4L311.9 281.8M319.3 256.6L318.8 257L318.4 257.2L366.9 261.5M367.3 252.3L366.7 252.3L366.6 252.4L366.9 261.5L368.1 269.2L370.4 276.8L374.2 279.9L378.8 280.2L384.9 277.6L389.5 270.7L392.6 263.1L393.8 253.9L393.6 253.9L393 254.1M372.4 277.6L372 278.1L371.2 279.1L369.6 295.2L368.9 310.5L368.1 325.8L367.4 334.9L366.6 341.1L367.4 347.2L363.5 353.3L360.5 357.9L358.9 364L358.7 364L358.1 363.9M384.6 277.1L384.8 277.6L384.9 277.9L416.3 279.9L440 280.3L440.2 280.1L440.6 279.6M416.3 279.9L416 310.5L415.5 339.5M415.5 339.5L419.4 341.1L423.2 342.6L426.2 347.2L430.8 348.7L435.4 351.8L440 354.8L440 354.8L439.7 354.3M415.5 339.5L412.5 345.6L407.9 348.7L404.1 350.2L401.8 354.8L397.2 360.9L395.6 364L392.9 361.3L392.5 360.9M316.4 340.5L316.9 340.3L319.2 339.5L320.7 344.1L317.6 350.2L316.9 356.4L320.7 360.9L322.2 364L324.7 362.1L325.2 361.7M429.3 279.5L429.2 280.1L429.2 280.3L439.9 279.9M459.4 251.6L459.1 251.1L458.6 250.1L455.2 256.9L452.9 260.3L450.6 262.3L449.9 266.9L446.1 270.7L445.3 274.5L443 277.6L439.9 279.9M452.9 260.3L456.3 263.1L456.8 266.4L452.9 267.6L449.9 266.9M446.3 272.7L445.7 272.6L445.3 272.5L452.9 273L460.6 269.9L468.2 266.1L475.9 262.3L483.5 260L491.2 259.2L495 261.5L496.5 260.8L491.9 258.2L497.3 256.2L506.5 253.9L513.8 252L515.6 253.1M439.9 279.9L446.8 285.2L449.9 286.8L456 287.5L465.2 284.5L474.4 279.9L482 276.8L489.6 274.5L495.8 270.7L503.4 264.6L509.5 259.2L515.6 253.1M515.6 253.1L513.8 245.5L513.8 245L513.7 244.4M501.9 242.4L506.5 245.5L513.8 245L521.8 242L537.1 241.6L547.8 240.9L555.4 237.1L560 234.8L557.9 234.1L557.3 233.9M501.9 242.4L503.4 237.8L509.5 234L515.6 231.7L515.4 231L515.2 230.5M500.6 267.6L500.2 267.1L500 266.9L499.6 273L560 270.2L560 270.8L560.1 271.4M489.6 274.5L490.4 299.8L491.2 325.8M491.2 325.8L560 322.7L560 322.2L559.9 321.6M491.2 305.1L490.6 305.1L490.4 305.1L489.6 310.5L487.4 319.6L484.3 327.3L478.9 331.9L474.4 334.9L470.5 339.5L468.2 344.1L464.4 346.4L462.1 351.8L457.5 355.6L454.5 356.4M440.3 354.3L440 354.8L439.9 354.8L445.3 351.5L449.1 349.9L452.2 354.8L454.5 356.4M454.5 356.4L454.9 364L456.5 363.4L457 363.2M509.5 324.4L509.5 324.9L509.5 325.3L509.5 335.7M509.5 335.7L515.6 331.9L521.8 327.3L527.9 325.8L530.2 328.8L535.5 325.8L540.1 331.9L546.2 338L552.4 341.1L553.1 347.2L550.8 351.8L556.9 354.8L560 356.4L559.6 357.1L559.4 357.6M530.2 328.8L527.9 334.9L523.3 341.1L520.2 347.2L515.6 350.2L511.1 353.3L508 357.9L504.9 364L503.1 362.8L502.7 362.5M549.9 270.1L550 270.7L550 271.5L578.3 269.5L580.6 273.8L582.9 277.6L586.7 281.4M586.7 281.4L585.2 287.5L582.9 295.2L582.9 301.3L586.7 305.9L590.5 309.7L588.2 313.5L584.4 317.4L580.6 320.4L579.1 322.7L579.2 322.7L579.7 322.4M586.7 281.4L602.8 289.8M602.8 289.8L603.5 292.9L601.2 298.2L600.5 300.1M550 323.7L550 323.1L550 322.7L575.2 321.5L578.3 319.6L579.8 322.4L579.4 322.1L578.9 321.8M575.2 321.5L576.8 334.9L577.5 349.5L587.9 347.9L588.2 347.9L588.8 347.8M600.5 300.1L602.8 302.1L603.8 310.5L602 319.6L598.9 325.8L594.4 331.9L591.3 336.8L590.5 331.9L586.7 329.6L582.1 328.1L579.8 324.2L579.1 322.4L578.9 322.4L578.3 322.2M579.8 324.2L581.4 331.9L585.2 339.5L587.5 344.1L588.2 347.9L588.2 356.4L586.7 364L583.8 361.6L583.3 361.2M606 233.3L606.6 233.1L608.9 232.5L609.6 248.5L608.9 263.8L608.1 279.9L607.4 287.5L607.5 287.8L607.7 288.3M609.6 248.5L635.6 246.2L647.9 242.4L652.8 240.4L651.6 240.9L651.1 241.1M608.9 263.8L637.9 262.3L643.6 261.5M637.9 262.3L638.7 275.6L639 276.2L639.2 276.8M643.6 261.5L644.5 266.4L647.9 269.9L648.3 272.3L648.4 272.9M624.3 232.6L623.7 232.6L621.9 232.5L622.6 247.5L622.6 247.4L622.6 246.8M626.9 281.3L626.7 280.7L626.5 279.9L617.3 282.9L611.2 286L607.4 287.8L602.8 290.9L603 290.8L603.6 290.7M602 296.4L608.1 291.4L615.8 287.8L623.4 285.5L631.1 283.2L637.5 281.1L632.6 284.2L639 283.7L632.6 287.1L623.4 290.9L615.8 294.7L608.1 297L602 298.5L602 296.4M240.5 354.2L239.9 354.1L238.9 354L235.9 373.9M193.1 368.2L192.5 368.2L190 368.2L235.9 373.9M234.5 386.1L235.1 386.1L235.4 386.1L316.9 396.1L317.7 399.9L313.9 404.5L312.4 406L320 406.8M235.9 373.9L235.1 386.1L232.8 415.2L229.8 450.4M193.1 443.9L192.5 443.9L190 443.9L192.3 443.5L197.6 441.9L205.3 442.7L209.9 441.9L216 444.2L222.1 447.3L226.7 450.4L229.8 450.4L235.9 453.4M235.9 453.4L235.4 467.2M235.4 467.2L290.9 472.5M312.4 428.9L307.8 435.1L303.2 441.2L300.1 445.8L295.5 449.6L292.5 454.9L290.9 461.1L291.7 467.2L290.9 472.5L291.7 479.4L290.9 484L290.7 484L290.1 484.1M317.8 354.1L317.2 354L316.9 354L323.8 360.9L329.1 367.8L329.9 375.4L332.9 382.3L336 386.9L334.5 390.7L329.1 394.5L326.1 398.4L324.5 404.5L323 407.2L321.5 412.9L319.2 416.7L316.9 421.3L315.4 425.9L312.3 428.9M319.9 406.8L323 407.2M363.2 354.8L362.7 354.5L362 354L358.9 360.1L358.6 365L355.9 369.3L351.3 375.4L348.2 380L346.7 382.3L342.9 380L339.1 381.5L336 386.9M358.6 365L363.5 365.5L368.1 364.7L372.7 367.8L377.3 364.7L381.9 363.2L386.5 360.1L389.5 358.6L392.6 361.6L395.6 358.6L400.2 355.5L403.3 354L402.4 353.6L401.9 353.3M327.8 395.2L328.3 395.6L328.4 395.6L355.1 397.1L355.1 394.1L395.6 395.6L440 398.4M312.3 428.9L351.3 432L398.7 434.3L423.2 434.3L440 433.8L440 433.6L440 433M351.3 432L347.5 461.1L344.4 484L344.6 484L345.2 484.1M398.7 434.3L401.8 453.4L405.6 484L407.5 483.6L408.1 483.5M423.2 434.3L423.9 429.7L429.3 425.9L433.9 423.6L440 421.3L439.3 419.5L439.1 419M451.3 354.5L451.8 354.2L454.5 352.5L455.2 360.1L457.5 366.2L460.6 372.4L464.4 376.9M464.4 376.9L457.5 381.5L449.9 387.6L442.2 393.8L436.1 397.6L430 398.4M464.4 376.9L468.2 381.5L474.4 382.3L478.9 380.8L485.1 380L491.2 377.7L495.8 373.9L497.3 369.3L501.9 364.7L504.9 360.1L506.5 354L509.3 355.9L509.8 356.2M430 398.4L471.3 398.4L515.6 397.6L560 394.5L560 394.5L560 393.9M471.3 398.4L469 402.9L464.4 406.8L459.1 409.8L452.9 412.9L446.8 416.7L440.7 419L434.6 421.3L430 423.6L430.8 425.1L431 425.7M430 434.7L430 434.1L430 433.8L445.3 433.5L456.8 430L483.5 430.5L486.6 433.5L489.6 437.4L509.5 437.8L530.9 458.8M445.3 433.5L441.5 438.9L446.8 444.2L451.4 449.6L455.2 454.9L459.8 461.8L464.4 467.9L468.2 473.3L472.8 478.6L475.9 484L476.6 483.6L477.1 483.4M530.9 458.8L537.1 456.5L543.2 458.3L543.9 453.4L549.3 447.3L552.4 442.7L556.9 439.6L560 437.4L560.1 438.1L560.2 438.7M530.9 458.8L526.4 462.6L522.5 467.2L520.2 471.8L518.7 474.8L515.6 477.9L511.1 482.5L509.5 484L509 483.4L508.7 482.9M235.4 466.9L234.4 474.6L232.8 488.4L235.9 497.5L238.2 505.2L238.9 514.4L235.9 523.5L233.6 529.6L232.8 535.8L231.3 539.6L229.8 541.9M290.9 472.6L290.2 479.2L290.9 486.8L289.4 492.9L284.8 499.1L281 505.2L278.7 511.3L277.2 518.2M277.2 518.2L312.4 520.5L313.9 526.6L313.1 532.7L315.4 538.8L318.5 543.4L315.8 540.9L315.3 540.5M193.1 559.9L192.5 559.9L190 559.9L192.3 558.7L199.2 554.1L205.3 549.5L212.9 545.7L220.6 543.4L229.8 541.9L240.5 541.9L248.1 544.9L255.8 548L263.4 549.5L269.5 551.1L275.6 552.6L280.2 557.2L283.3 561.8L289.4 564.1L297.1 563.3L296.5 564.9L296.4 565.5M205.3 549.5L206.1 544.9L204.5 540.4L207.6 542.6L210.6 538.1L212.9 539.6L210.6 543.4L212.9 545.7M229.2 542.6L229.1 542L229 541.6L228.2 538.8L230.5 537L231.6 539.1L230.1 541.9M239.2 542.5L239.2 541.9L239.2 541.6L239.7 538.1L241.2 536.5L242.3 539.6L241.2 541.9L241.1 542.1L240.9 542.7M250.4 539.6L253.5 540L253 542.2L250.4 541.6L250.4 539.6M254.5 543.7L257.6 544.2L257.3 546.2L254.5 545.7L254.5 543.7M263.4 549.5L265.7 545.7L269.5 544.9L273.4 548L271.1 551.1L269.5 551.1M349.1 443.9L349.7 444L349.8 444L346.7 466.9L342.9 497.5L340.6 520.5L339.8 536.5M400.9 443.9L400.3 444L400.2 444L403.3 459.3L406.4 477.6L409.4 492.9L407.9 500.6L405.6 506.7L407.1 514.4L407.9 523.5L409.4 529.6L410.9 531.9M356.6 523.8L409.4 527.8L409 527.9L408.4 528.1M356.6 523.8L358.2 529.6L359.7 534.2L360.5 536.5M410.9 531.9L440 534.5L440 534.9L439.9 535.5M339.8 536.5L345.2 537.3L346.7 531.2L348.2 529.6L349.8 535.8L351.3 538.8L355.9 537.3L360.5 536.5L366.6 535.8L374.2 537.3L381.9 538.8L388 541.9L392.6 544.9L397.2 549.5L400.2 554.1L403.3 556.4L407.9 557.2L412.5 554.9L417.1 551.1L420.1 549.5L424.7 548L430.8 549.5L435.4 552.6L438.5 557.2L440 560.2L440.2 560.1L440.7 559.7M329.9 544.5L330.8 547.3L329.4 551.1L327.5 553.4M446.4 442.9L445.9 443.4L445.3 444L451.4 451.6L459.1 462.4L465.2 469.2L471.3 476.1L475.9 482.2L478.9 488.4L482 494.5L485.1 499.1L488.1 502.1M551.6 442.7L552.1 443.1L552.4 443.2L543.9 452.4L543.2 457.8L537.1 457L530.9 458.5L524.8 463.9L520.2 470L517.2 476.1L512.6 480.7L506.5 485.3L500.4 489.9L495.8 492.9L491.2 496.8L488.1 502.1L484.3 508.2L482.8 514.4L479.7 520.5L478.2 526.6L478.2 532.7L478.9 538.8L480.5 548L483.5 557.2L486.6 564.8L489.3 569.7L489.3 569.1L489.3 568.5M430.1 533.1L430.1 533.7L430 534.2L463.6 536.5L465.2 541.1L466.7 535.8L467.5 531.2L472.8 531.9L478.2 531.9M428.3 549.5L428.4 548.9L428.5 548.8L430 549.5L434.6 552.6L439.2 558.7L443.8 564.8L447.1 569.7L447.1 569.1L447.1 568.5M294 117.4L294 116.8L294 115.5L300.1 118.6L306.2 123.2L306.2 123.2L306.3 122.6M299.6 119L299.9 118.5L300 118.2L302.8 118.7L304.2 122.9L308.5 123.4L312.2 127.2L317.9 129.5L322.6 128.1L327.3 127.2L329.2 129.5L337.6 130.9L341.4 133.8L344.2 133.3M301.9 161.1L303.8 159.2L309.4 154.5L316.9 148.8L322.6 144.1L328.2 139.9L335.8 136.6L344.2 133.3L349.9 131.4L352.7 128.1L354.6 124.4L358.4 122.5L364 119.2L367.8 117.3L372.5 116.4L372.5 116.8L372.5 117.4M301.9 161.1L305.6 160.1L312.2 159.2L318.8 157.3L324.5 155.4L328.2 155.9L330.1 154.5L331.5 153.5L330.6 156.4L328.2 159.2L325.4 161.1L323.5 162.9L327.3 162.5L330.1 164.8L332.9 164.4L339.5 162L347.1 160.1L352.7 157.3L356.5 154.5L361.2 150.7L365.9 147.9L371.5 146.9L374.8 148.8L371.5 150.7L367.8 153.5L364.9 157.3L362.1 160.1L361.2 162.9L363.1 161.1L366.8 159.2L371.5 160.1L375.3 162.9L374.3 163.7L373.8 164M330.1 164.8L334.8 169.5L342.4 173.3L350.8 177.1L358.4 180.8L364.9 183.6L367.8 186.5L369.6 189.3L370.1 194M351.8 137.5L356.5 134.2L364.5 130.8L364.9 131.9L358.4 136.1L352.7 138.7L351.8 137.5M301.9 161.1L301.4 162.9L300.9 165.3L301.4 165.3L302 165.4M358.4 122.5L360.2 124.4L365.9 120.6L364 119.2M370.1 117.4L370 116.8L370 116.8L379.4 117.3L391.6 117.8L395.4 119.6L398.2 126.2L401.1 132.8L404.8 137.5L411.4 138.9L418.9 138.9L417.1 142.2L416.1 146L418.9 148.8L422.2 152.6L420.8 156.4L419.9 160.1L422.7 162L426.5 162.9L425.1 166.7L424.1 169.5L427.4 171.4M401.8 142.7L403.4 141.5L406.7 141.8L407.8 143L406.2 144.1L403.1 144.1L401.8 142.7M374.7 161.7L374.3 162.2L373.8 162.9L376.6 166.7L379.4 170L385.1 170.5L389.8 171.4L394.5 168.6L402 166.7L409.5 166.2L416.1 165.3L416.1 169.5L417.1 172.4L422.7 173.3L426.5 172.4L427.4 171.4M427.4 171.4L430.2 175.2L429.3 178.9L432.1 180.8L434 176.1L437.8 177.1L443.4 178L450 178.9M432.1 180.8L435.9 181.8L439.6 183.6L445.3 185.5L450 187.4L449.9 187.7L449.8 188.3M370.1 194L370.1 194.7L371.5 198L372.5 201.3M372.5 201.3L371.1 204.1L368.2 208.8L365.9 212.6L366.4 214.7M366.4 214.7L371.1 210.7L375.8 205.1L379.5 199.4L381.9 195.6L384.2 192.8L386.1 194.2L385.6 196.1L383.8 198.5L381.4 201.8L378.6 206L376.7 209M376.7 209L374.8 214.5L372.9 220.1L372.5 222.9L370.6 227.6L370.1 233.3L368.2 238.9L366.8 244.6L366.4 249.3L366.8 254L366.6 254L366 254M372.5 201.3L373.9 197.5L377.6 192.8L380.5 188.1L383.3 184.4L384.2 187.2L385.2 186.2L387.1 184.4L388 188.1L388.9 188.1L390.8 185.3L392.7 186.2L395.5 183.4L400.2 182.9L404.9 182L407.8 180.6L411.5 181.1L415.3 183.4L418.1 185.8L420 186.7L420 186.7L419.4 186.5M419.4 185.7L419.2 186.3L418.9 186.7L421.3 182.9L426.5 182.5L431.2 182.9L431.6 184.4L431.7 184.9M415.2 188L415.2 188.6L415.3 189.1L414.4 192.4L415.3 195.2L417.2 196.6L413.4 197.5L410.1 199.9L409.2 203.2L408.2 206.9L407.3 210.7L405.9 207.9L404.9 204.1L402.6 205.1L400.2 206L397.4 208.8L395.1 211.6L394.1 215.4L392.7 221.1L390.8 224.8L389.4 228.6L390.4 233.3L388.9 237.1L389.9 241.8L392.2 248.4L393.6 254L393.8 254L394.4 254.1M409.2 203.2L407.8 205.1L408.5 211.2L406.8 211.6L405.9 206.9L407 202.2L409.3 202.9L409.8 203M405.9 189.1L407.3 188.1L408 190.5L407 192.8L405.7 191.9L405.9 189.1M397.9 201.8L399.3 201.3L400.2 203.6L398.8 204.6L397.9 201.8M406.7 188.4L407.3 188.1L409.5 187.2L415.2 188.6L419.4 188.1L421.3 183.4L424.1 186.2L427.9 190L431.6 193.8L436.4 196.1L440.1 197.5L442 201.3L442.9 205.5L441.5 206.9L442.5 211.6L442 216.4L440.1 221.1L438.2 223.9L435.4 227.6L433.1 230.5L432.6 234.2L434 237.1L436.4 238L439.2 234.2L442 230.5L445.3 228.1L448.6 227.5L451.4 229.5L453.3 233.3L454.2 238L455.2 243.6L456.6 249.3L457.1 253.1M457.1 253.1L458.9 251.2L462.7 249.3L466.5 245.5L468.8 239.9L468.4 234.2L467.4 228.6L469.3 224.8L472.1 219.2L474.9 213.5L474 206.9L471.2 202.2L468.4 200.8L474.9 200.4L475.9 204.1L477.8 207.9L479.6 206.9L480.6 210.7L481.5 214.5L484.4 211.6L487.2 214.5L490 215.4L490.3 214.8L490.6 214.3M421.3 182.5L428.8 180.6L435.4 182.5L441.1 184.4L447.6 185.8L452.4 184.4L457.1 185.3L462.7 183.4L466.5 182.5L469.3 184.4L470.2 189.1L468.4 192.8L466.9 195.6L462.7 192.8L457.1 190L451.4 188.1L445.8 186.7L438.2 185.3L431.6 184.4L425.1 186.2L421.3 182.5M434.4 176.6L433.9 176.4L432.6 175.9L438.2 176.8L447.6 178.7L457.1 179.6L466.5 181.1L475.9 183.4L483.4 185.3L483.1 185.5L482.6 185.8M426.9 177.8L430.2 177.3L431.2 180.6L428.4 181.5L426.9 177.8M482.8 185.8L482.9 185.2L482.9 185.1L486 190.5L490.6 196.6L495.2 199.6L494.4 204.2L498.2 207.3L500.5 210.4L496.7 211.9L495.9 216.5L490.6 214.9L484.5 211.9L479.9 214.9L481.5 214.5L482.1 214.3M500.5 117.4L500.5 116.8L500.5 115.5L500.5 129.3L501 144.6L502.1 152.2L505.9 161.4L512 170.6L518.1 174.4L525.8 175.2L533.4 177.5L539.5 182.8L543.4 184.4L545.6 182.8L547.9 187.4L553.3 190.5L557.9 189.7L561.7 192.8L567.1 189.7L573.2 186.6L577.8 185.6L583.9 185.9L584.6 192L586.2 194.3L582.4 198.1L576.2 201.5L571.6 205.8L567.1 211.9L564 216.5L557.9 219.5L551.8 221.1L547.2 224.1L544.9 227.2M568.4 211.1L567.9 210.7L567.1 210L562.8 214.9L557.6 218L551.8 219.8L547.9 222.3L548.6 223.2L548.9 223.7M544.9 227.2L539.5 226.4L531.9 227.2L521.2 228.7L513.5 231.8L505.9 236.4L501.3 244L502.2 242.6L502.5 242.1M557.7 219L557.8 219.5L557.9 219.8L560.2 227.2L557.9 234.1L551.8 240.2L545.6 241.7L545.6 241L545.6 240.4M583.3 200.2L583.2 199.7L583.1 198.9L590 198.4L590 198.8L590.1 199.4M648.4 117.4L648.4 116.8L648.4 116.2L647.6 125.8L643.2 136.1L638.8 143.4L633.7 150L633.7 151.9L637.4 150L643.2 143.4L649.1 133.1L653.5 124.3L657.2 118.4L659.4 116.2L659.4 116.8L659.4 117.4M644 183.1L648.4 169.9L649.1 162.5L652.1 152.2L656.5 141.9L660.9 133.1L665.3 136.8L671.2 134.6L677.1 131.6L674.1 122.8L675.6 119.9L682.9 118.4L688.8 116.2L688.8 116.8L688.8 117.4M677.1 131.6L682.9 139L685.9 150.8L689.6 168.4L694 171.4L696.2 177.2L702.1 180.2L703.5 181.9L702.5 181.9L701.9 181.9M701.9 190.5L702.5 190.5L703.5 190.5L699.1 191.9L696.2 194.9L693.2 194.1L690.3 197.8L685.9 198.6L682.9 202.2L680 200.8L675.6 202.2L677.1 208.1L671.2 212.5L666.8 215.5L662.4 218.4L659.4 219.9L657.9 224.3L655 230.2L652.1 236.1L650.6 239L651.1 239.1L651.7 239.3M640.3 187.5L641.8 196.4L644.7 216.9L647.6 230.2L650.6 236.1L651.8 236.6L652.3 236.9M632.2 194.1L634.4 187.5L637.4 186.1L640.3 187.5L644 183.1M579.5 199L579.7 199.6L580 200L605 197.1L632.2 194.1M632.2 194.1L631.5 202.2L628.5 209.6L625.6 216.9L624.1 225.8L623.4 239L622.2 239.1L621.6 239.1M605.2 196.5L605.3 197.1L605.3 197.1L604.3 205.2L604.3 216.9L605.7 230.2L606.8 233.9L608.9 233.7L609.5 233.7M606.4 196.3L606.5 196.9L606.5 197.1L605.4 205.2L605.3 216.9L606.5 228.7L605.6 228.8L605 228.9M551.6 341.4L551.9 340.8L552.4 339.9L554.7 342.2L551.2 345.8L549.4 350.5L551.2 354L555.9 355.2L560.6 357.5L564.1 361.1L566.5 364.6M570.1 325.6L568.2 327.5L564.5 329.4L561.6 332.2L561.2 336L562.1 339.8L561.6 343.5L562.6 348.2L565.4 352.9L567.3 357.6L568.2 362.4L569.2 366.1L566.3 365.4L565.7 365.2M570.1 325.6L571.1 327.5L570.1 331.3L568.2 335.1L567.3 339.8L568.2 344.5L570.1 347.3L572 349.2L572.9 352.9L572.5 356.7L572.9 360.5L574.8 362.4L577.6 361.4L581.4 360.5L580.5 364.2L577.6 368L575.8 372.7L574.4 377.4L575.3 380.2L577.6 378.4L579.1 373.6L580.5 368L582.4 363.3L584.7 360.5L586.1 357.6L587.1 355.3L588 351.1L587.5 348.2L587.5 348L587.4 347.4M569.8 326.8L569.4 326.4L568.2 325.2L570.1 324.2L572.5 325.6L572 328.7L569.9 329.4L568.2 327.5M561.7 331.3L562.1 331.8L562.6 332.2L564.9 331.3L568.2 332.2L569.4 332.8L569.9 333.1M562.1 339.8L565.4 341.6L567.3 345.4L568.4 344.7L568.9 344.4M568.2 335.1L571.1 336.5L572.5 339.8L571.1 343.5L572 348.2L571.5 348.7L571.1 349.1M565.4 352.9L568.2 352L571.1 354.8L573.4 360.5L573.2 360.7L572.8 361.1M578 320.4L578.5 320.1L579.5 319.5L578.6 323.8L580.5 328.5L585.2 332.2L590.8 332.7L591.3 337.9L593.6 334.1L593.2 333.8L592.6 333.5M566.5 364.6L565.3 369.3L567.6 374L568.8 378.7L570 383.4L575.3 385.8L575.5 385.7L576 385.5M565.3 369.3L560.6 365.8L555.9 361.1L552.4 358.7L553.4 354.6L553.5 354M568.4 374.4L567.8 374.6L567.6 374.6L562.9 371.6L558.2 367.5L555.3 365.2L557.6 362.8L558.1 362.4M570 383.4L565.3 381.1L561.8 377.5L558.2 375.2L554.7 371.6L558.1 367.4L558.5 366.9M569.5 379.1L569 379.3L568.8 379.3L564.7 376.4L561.2 373.4L562.8 371.5L563.2 371.1M574.8 386.2L575.1 385.7L575.3 385.2L577.2 390.4L578.6 395.1L581.4 401.6L584.2 406.4L586.6 411.1L587.5 416.7L587.1 422.8L583.3 424.2L579.5 426.1L575.8 428.9L572.9 431.8L570.1 438.4L568.2 439.3L564.5 437.4L558.8 438.4L554.1 441.2L551.3 443.5M529.7 397.2L529.7 396.6L529.6 396.5L540 396L558.8 394.6L577.6 393.4M577.6 393.4L572 396.9L567.3 399.8L562.6 399.8L564 404.5L567.3 405.4L572 403.5L576.7 402.6L580.5 403.5L582 402.6L582.5 402.3M567.9 404.5L568.1 405.1L568.2 405.4L564.5 407.3L567.3 408.2L572.9 407.3L577.6 406.4L581.4 408.2L581.9 412.9L579.5 416.7L575.8 420.5L572 421.4L568.2 419.5L565.4 418.6L558.8 418.6M558.8 418.6L563.5 420.5L567.3 422.4L565.4 425.2L561.6 428L558.8 428.9L563.5 429.9L567.3 431.8L570.1 429.9L572.9 431.8M576.2 408.2L578.1 407.3L579.1 411.1L577.6 413.9L576.2 412L576.2 408.2M567.3 431.8L563.5 433.6L560.2 434.1L557.9 432.7L558.8 428.9L559 428.4M551.3 443.5L554.1 439.3L556.5 438.4L557.1 439.4L557.4 439.9M651.3 236.3L651.8 236.6L651.8 236.6L651.1 239.4L652.9 244.1L654.1 245.2L652 247.9L650.1 250.7L648.7 253.1L651.1 254.5L653.9 257.3L655.8 260.1L657.6 262.5L659.5 264.4L662.4 264.8L666.1 263.4L668.5 262.5L668 259.2L666.1 257.3L662.8 257.3L664.2 258.2L666.6 259.2L668.5 261.1L669.4 264.8L668.9 267.6L668 265.3L665.2 265.3L662.4 266.2L659.5 267.6L657.6 269.5L656.2 267.6L657.2 265.8L654.8 267.6L652.9 270.5L651.1 271.9L648.2 272.4M648.2 272.4L644.5 274.2L641.6 275.2L636.9 277.1L629.4 279.9L626.1 280.9L625.8 280.1L625.7 279.5M296.5 563.6L297.1 563.3L300.2 561.4L301.6 564.2L304 561.4L304.9 557.6L308.2 556.2L310.1 555.8M310.1 555.8L312 557.6L314.8 561.4L316.7 565.2L317.6 569.1L320.5 566.1L324.2 567.1L325.6 564.2L322.4 563.3L318.6 560.5L314.8 556.7L311.1 552.9L312.5 550.1L315.8 547.3L318.5 543.4L318.8 542.9M299.8 540.2L301.6 536.5L304.9 535.1L308.2 537.4L311.5 539.8L310.1 542.1L305.4 542.6L301.2 542.1L299.8 540.2M296 536.9L297.4 535.5L298.8 536.9L297.4 538.4L296 536.9M315.8 540.9L317.6 538.8L320.5 537.4L324.2 536.9L328.9 536.5L334.6 537.9L339.9 536.8L339.9 536.5L340 535.9M311.5 539.8L313.9 541.2L315.8 540.9M325.2 540L328.9 539.6M332.7 540L338.4 540.3M342.1 540.5L347.8 540.1M285.6 563.9L289.4 564.2M295.1 564.4L297.4 565.2M675.4 198.4L677.5 202.9L678.7 199.2L680.4 205.4L681.6 200.1L682.8 207.1L684.9 198.4L685.7 204.6L687.8 197.6L689.4 202.9L691.1 197.2L692.7 201.3L694.4 195.9L696.8 198L698.1 193.5L700.1 194.7M658.1 220.7L660.2 217.8L661 219.4L662.7 217L663.9 218.6L665.5 215.7L667.2 216.5L668.8 213.7L670.9 214.5L672.5 210.8M676.2 199.7L678.7 202.9L681.2 202.9L683.7 201.3L686.1 201.3L688.6 199.7" fill="none" stroke="#000" stroke-width="1.5" stroke-linejoin="round" stroke-linecap="round"/>
<path d="M530.9 458.8L526.4 462.6L522.5 467.2L520.2 471.8L518.7 474.8L515.6 477.9L511.1 482.5L509.5 484L509 483.4L508.7 482.9M543.2 457.8L537.1 457L530.9 458.5L524.8 463.9L520.2 470L517.2 476.1L512.6 480.7L506.5 485.3L500.4 489.9L495.8 492.9L491.2 496.8L488.1 502.1M351.3 538.8L355.9 537.3L360.5 536.5L366.6 535.8L374.2 537.3L381.9 538.8L388 541.9L392.6 544.9L397.2 549.5L400.2 554.1L403.3 556.4L407.9 557.2L412.5 554.9L417.1 551.1L420.1 549.5L424.7 548L430.8 549.5L435.4 552.6L438.5 557.2L440 560.2L440.2 560.1L440.7 559.7M296.5 563.6L297.1 563.3L300.2 561.4L301.6 564.2L304 561.4L304.9 557.6L308.2 556.2L310.1 555.8M701.9 190.5L702.5 190.5L703.5 190.5L699.1 191.9L696.2 194.9L693.2 194.1L690.3 197.8L685.9 198.6L682.9 202.2L680 200.8L675.6 202.2L677.1 208.1L671.2 212.5L666.8 215.5L662.4 218.4L659.4 219.9L657.9 224.3L655 230.2L652.1 236.1L650.6 239L651.1 239.1L651.7 239.3M570.1 325.6L568.2 327.5L564.5 329.4L561.6 332.2L561.2 336L562.1 339.8L561.6 343.5L562.6 348.2L565.4 352.9L567.3 357.6L568.2 362.4L569.2 366.1L566.3 365.4L565.7 365.2M570.1 325.6L571.1 327.5L570.1 331.3L568.2 335.1L567.3 339.8L568.2 344.5L570.1 347.3L572 349.2L572.9 352.9L572.5 356.7L572.9 360.5L574.8 362.4L577.6 361.4L581.4 360.5L580.5 364.2L577.6 368L575.8 372.7L574.4 377.4L575.3 380.2L577.6 378.4L579.1 373.6L580.5 368L582.4 363.3L584.7 360.5L586.1 357.6L587.1 355.3L588 351.1L587.5 348.2L587.5 348L587.4 347.4M566.5 364.6L565.3 369.3L567.6 374L568.8 378.7L570 383.4L575.3 385.8L575.5 385.7L576 385.5M567.9 404.5L568.1 405.1L568.2 405.4L564.5 407.3L567.3 408.2L572.9 407.3L577.6 406.4L581.4 408.2L581.9 412.9L579.5 416.7L575.8 420.5L572 421.4L568.2 419.5L565.4 418.6L558.8 418.6M558.8 418.6L563.5 420.5L567.3 422.4L565.4 425.2L561.6 428L558.8 428.9L563.5 429.9L567.3 431.8L570.1 429.9L572.9 431.8M577.6 393.4L572 396.9L567.3 399.8L562.6 399.8L564 404.5L567.3 405.4L572 403.5L576.7 402.6L580.5 403.5L582 402.6L582.5 402.3M372.5 201.3L373.9 197.5L377.6 192.8L380.5 188.1L383.3 184.4L384.2 187.2L385.2 186.2L387.1 184.4L388 188.1L388.9 188.1L390.8 185.3L392.7 186.2L395.5 183.4L400.2 182.9L404.9 182L407.8 180.6L411.5 181.1L415.3 183.4L418.1 185.8L420 186.7L420 186.7L419.4 186.5M434.4 176.6L433.9 176.4L432.6 175.9L438.2 176.8L447.6 178.7L457.1 179.6L466.5 181.1L475.9 183.4L483.4 185.3L483.1 185.5L482.6 185.8M427.4 171.4L430.2 175.2L429.3 178.9L432.1 180.8L434 176.1L437.8 177.1L443.4 178L450 178.9M432.1 180.8L435.9 181.8L439.6 183.6L445.3 185.5L450 187.4L449.9 187.7L449.8 188.3M315.8 540.9L317.6 538.8L320.5 537.4L324.2 536.9L328.9 536.5L334.6 537.9L339.9 536.8L339.9 536.5L340 535.9M310.1 555.8L312 557.6L314.8 561.4L316.7 565.2L317.6 569.1L320.5 566.1L324.2 567.1L325.6 564.2L322.4 563.3L318.6 560.5L314.8 556.7L311.1 552.9L312.5 550.1L315.8 547.3L318.5 543.4L318.8 542.9M551.6 341.4L551.9 340.8L552.4 339.9L554.7 342.2L551.2 345.8L549.4 350.5L551.2 354L555.9 355.2L560.6 357.5L564.1 361.1L566.5 364.6M482.8 185.8L482.9 185.2L482.9 185.1L486 190.5L490.6 196.6L495.2 199.6L494.4 204.2L498.2 207.3L500.5 210.4L496.7 211.9L495.9 216.5L490.6 214.9L484.5 211.9L479.9 214.9L481.5 214.5L482.1 214.3M530.9 458.8L537.1 456.5L543.2 458.3L543.9 453.4L549.3 447.3L552.4 442.7L556.9 439.6L560 437.4L560.1 438.1L560.2 438.7" fill="none" stroke="#000" stroke-width="2.6" stroke-dasharray="1.2 2.3" stroke-linejoin="round"/>
<path d="M643.5 266.2L645.4 265.8L647.3 267.6L648.2 271.4L647.3 273.3L644.9 272.8L643.7 269.5ZM654.4 274.7L657.6 272.8L661.4 272.8L660.9 274.7L656.2 276.6ZM664.2 275.6L668.9 272.4L670.8 275.6L667.1 276.6ZM641.8 279.7L643.3 279.7L643.3 281.3L641.8 281.3ZM662.5 256.9L666.1 256.7L668.5 258.7L669.7 262.5L669.9 265.3L669.1 268.1L668.2 265.8L668.2 262.5L667.1 259.9L665.2 258.4L662.9 258ZM316.2 543.5L319.5 542.4L322.8 542.6L321.9 546.8L319.5 549.9L316.2 552L313.1 552.2L314.1 549.4L316.5 547.3ZM677.1 207.5L678.7 207.5L678.7 209.1L677.1 209.1ZM680 208.1L681.2 208.1L681.2 209.4L680 209.4ZM681.6 207.5L683 207.5L683 208.9L681.6 208.9ZM557.6 418.4L562.4 420L567.1 417.7L569.9 416.9L569.1 418.6L564.2 421.8L560.5 421.1ZM558.1 427.3L561.4 429.7L565.2 430.7L569.9 429.4L572.3 430.3L571.3 432.2L567.1 432.6L562.4 431.8L559.1 429.6ZM551.8 437.2L553.1 437.6L554.1 440.3L552.8 440.5ZM568.9 433.9L572.7 431.1L573.6 432.5L570.8 437.6L568.9 439.1Z" fill="#000" stroke="#000" stroke-width="0.6" stroke-linejoin="round"/>
</g>
<rect x="192.5" y="116.8" width="510" height="452.3" fill="none" stroke="#000" stroke-width="1.2"/>
<path d="M180.8 159.4H192.5M180.8 206H192.5M180.8 252.5H192.5M180.8 299H192.5M180.8 345.4H192.5M180.8 391.9H192.5M180.8 438.4H192.5M180.8 484.9H192.5M180.8 531.4H192.5M202.6 569.1V580.6M305.5 569.1V580.6M406.4 569.1V580.6M508.5 569.1V580.6M610 569.1V580.6" stroke="#000" stroke-width="1" fill="none"/>
<rect x="228.5" y="633.2" width="10.70" height="17.7" fill="rgb(130,30,230)"/><rect x="238.9" y="633.2" width="10.70" height="17.7" fill="rgb(95,25,240)"/><rect x="249.3" y="633.2" width="10.70" height="17.7" fill="rgb(65,20,245)"/><rect x="259.7" y="633.2" width="10.70" height="17.7" fill="rgb(15,0,255)"/><rect x="270.1" y="633.2" width="10.70" height="17.7" fill="rgb(15,20,250)"/><rect x="280.5" y="633.2" width="10.70" height="17.7" fill="rgb(35,50,235)"/><rect x="290.9" y="633.2" width="10.70" height="17.7" fill="rgb(50,70,230)"/><rect x="301.3" y="633.2" width="10.70" height="17.7" fill="rgb(65,100,225)"/><rect x="311.7" y="633.2" width="10.70" height="17.7" fill="rgb(50,110,235)"/><rect x="322.1" y="633.2" width="10.70" height="17.7" fill="rgb(40,125,245)"/><rect x="332.5" y="633.2" width="10.70" height="17.7" fill="rgb(30,140,255)"/><rect x="343" y="633.2" width="10.70" height="17.7" fill="rgb(25,150,255)"/><rect x="353.4" y="633.2" width="10.70" height="17.7" fill="rgb(20,165,250)"/><rect x="363.8" y="633.2" width="10.70" height="17.7" fill="rgb(10,180,255)"/><rect x="374.2" y="633.2" width="10.70" height="17.7" fill="rgb(25,190,250)"/><rect x="384.6" y="633.2" width="10.70" height="17.7" fill="rgb(70,195,245)"/><rect x="395" y="633.2" width="10.70" height="17.7" fill="rgb(100,200,240)"/><rect x="405.4" y="633.2" width="10.70" height="17.7" fill="rgb(135,205,240)"/><rect x="415.8" y="633.2" width="10.70" height="17.7" fill="rgb(150,210,240)"/><rect x="426.2" y="633.2" width="10.70" height="17.7" fill="rgb(170,220,245)"/><rect x="436.6" y="633.2" width="10.70" height="17.7" fill="rgb(195,230,250)"/><rect x="447" y="633.2" width="10.70" height="17.7" fill="rgb(255,253,185)"/><rect x="457.4" y="633.2" width="10.70" height="17.7" fill="rgb(255,245,130)"/><rect x="467.8" y="633.2" width="10.70" height="17.7" fill="rgb(255,237,90)"/><rect x="478.2" y="633.2" width="10.70" height="17.7" fill="rgb(255,225,60)"/><rect x="488.6" y="633.2" width="10.70" height="17.7" fill="rgb(255,215,50)"/><rect x="499" y="633.2" width="10.70" height="17.7" fill="rgb(255,200,30)"/><rect x="509.4" y="633.2" width="10.70" height="17.7" fill="rgb(255,180,10)"/><rect x="519.8" y="633.2" width="10.70" height="17.7" fill="rgb(255,160,0)"/><rect x="530.2" y="633.2" width="10.70" height="17.7" fill="rgb(255,140,0)"/><rect x="540.6" y="633.2" width="10.70" height="17.7" fill="rgb(255,125,0)"/><rect x="551" y="633.2" width="10.70" height="17.7" fill="rgb(255,100,0)"/><rect x="561.5" y="633.2" width="10.70" height="17.7" fill="rgb(255,75,0)"/><rect x="571.9" y="633.2" width="10.70" height="17.7" fill="rgb(255,40,0)"/><rect x="582.3" y="633.2" width="10.70" height="17.7" fill="rgb(255,0,0)"/><rect x="592.7" y="633.2" width="10.70" height="17.7" fill="rgb(240,0,0)"/><rect x="603.1" y="633.2" width="10.70" height="17.7" fill="rgb(225,0,0)"/><rect x="613.5" y="633.2" width="10.70" height="17.7" fill="rgb(205,0,0)"/><rect x="623.9" y="633.2" width="10.70" height="17.7" fill="rgb(210,15,20)"/><rect x="634.3" y="633.2" width="10.70" height="17.7" fill="rgb(225,65,65)"/><rect x="644.7" y="633.2" width="10.70" height="17.7" fill="rgb(240,120,125)"/><rect x="655.1" y="633.2" width="10.70" height="17.7" fill="rgb(255,180,185)"/><path d="M238.90 633.2 V650.9M249.31 633.2 V650.9M259.71 633.2 V650.9M270.12 633.2 V650.9M280.52 633.2 V650.9M290.93 633.2 V650.9M301.33 633.2 V650.9M311.74 633.2 V650.9M322.14 633.2 V650.9M332.55 633.2 V650.9M342.95 633.2 V650.9M353.36 633.2 V650.9M363.76 633.2 V650.9M374.17 633.2 V650.9M384.57 633.2 V650.9M394.98 633.2 V650.9M405.38 633.2 V650.9M415.79 633.2 V650.9M426.19 633.2 V650.9M436.60 633.2 V650.9M447.00 633.2 V650.9M457.40 633.2 V650.9M467.81 633.2 V650.9M478.21 633.2 V650.9M488.62 633.2 V650.9M499.02 633.2 V650.9M509.43 633.2 V650.9M519.83 633.2 V650.9M530.24 633.2 V650.9M540.64 633.2 V650.9M551.05 633.2 V650.9M561.45 633.2 V650.9M571.86 633.2 V650.9M582.26 633.2 V650.9M592.67 633.2 V650.9M603.07 633.2 V650.9M613.48 633.2 V650.9M623.88 633.2 V650.9M634.29 633.2 V650.9M644.69 633.2 V650.9M655.10 633.2 V650.9" stroke="#000" stroke-width="0.7" fill="none" opacity="0.9"/><rect x="228.5" y="633.2" width="437" height="17.7" fill="none" stroke="#000" stroke-width="0.6" opacity="0.8"/>
</svg>
<div id="tx" style="position:absolute;left:0;top:0;width:850px;height:850px;opacity:0.999;">
<div class="t" style="left:190.6px;top:11.9px;font-size:17.62px;">IWFAQRP Eastern US Real Time WRF</div>
<div class="t" style="right:147px;top:14.2px;font-size:11.6px;">Init: 2025-12-18_00:00:00</div>
<div class="t" style="right:147px;top:27.4px;font-size:11.6px;">Valid: 2025-12-23_16:00:00</div>
<div class="t" style="left:195px;top:90.7px;font-size:11.73px;">Absolute Vorticity at 500 hPa   (10-5 s-1)</div>
<div class="t" style="left:370.3px;top:617px;font-size:12.3px;">Absolute Vorticity  (10-5 s-1)</div>
<div class="t" style="left:193.4px;top:817.8px;font-size:10.5px;">OUTPUT FROM WRF V4.6.1 MODEL</div>
<div class="t" style="left:193.6px;top:830.2px;font-size:10.48px;">WE = 310 ; SN = 275 ; Levels = 38 ; Dis = 8km ; Phys Opt = 8 ; PBL Opt = 1 ; Cu Opt = 3</div>
<div class="yl" style="top:154.9px">46<span class="dg">&deg;</span><span class="nw">N</span></div><div class="yl" style="top:201.5px">44<span class="dg">&deg;</span><span class="nw">N</span></div><div class="yl" style="top:248px">42<span class="dg">&deg;</span><span class="nw">N</span></div><div class="yl" style="top:294.5px">40<span class="dg">&deg;</span><span class="nw">N</span></div><div class="yl" style="top:340.9px">38<span class="dg">&deg;</span><span class="nw">N</span></div><div class="yl" style="top:387.4px">36<span class="dg">&deg;</span><span class="nw">N</span></div><div class="yl" style="top:433.9px">34<span class="dg">&deg;</span><span class="nw">N</span></div><div class="yl" style="top:480.4px">32<span class="dg">&deg;</span><span class="nw">N</span></div><div class="yl" style="top:526.9px">30<span class="dg">&deg;</span><span class="nw">N</span></div><div class="xl" style="left:172.6px">95<span class="dg">&deg;</span><span class="nw">W</span></div><div class="xl" style="left:275.5px">90<span class="dg">&deg;</span><span class="nw">W</span></div><div class="xl" style="left:376.4px">85<span class="dg">&deg;</span><span class="nw">W</span></div><div class="xl" style="left:478.5px">80<span class="dg">&deg;</span><span class="nw">W</span></div><div class="xl" style="left:580px">75<span class="dg">&deg;</span><span class="nw">W</span></div>
<div class="cl" style="left:239.7px">-90</div><div class="cl" style="left:270.9px">-75</div><div class="cl" style="left:302.1px">-60</div><div class="cl" style="left:333.4px">-45</div><div class="cl" style="left:364.6px">-30</div><div class="cl" style="left:395.8px">-15</div><div class="cl" style="left:427px">0</div><div class="cl" style="left:458.2px">15</div><div class="cl" style="left:489.4px">30</div><div class="cl" style="left:520.6px">45</div><div class="cl" style="left:551.9px">60</div><div class="cl" style="left:583.1px">75</div><div class="cl" style="left:614.3px">90</div>
</div>
</body></html>
